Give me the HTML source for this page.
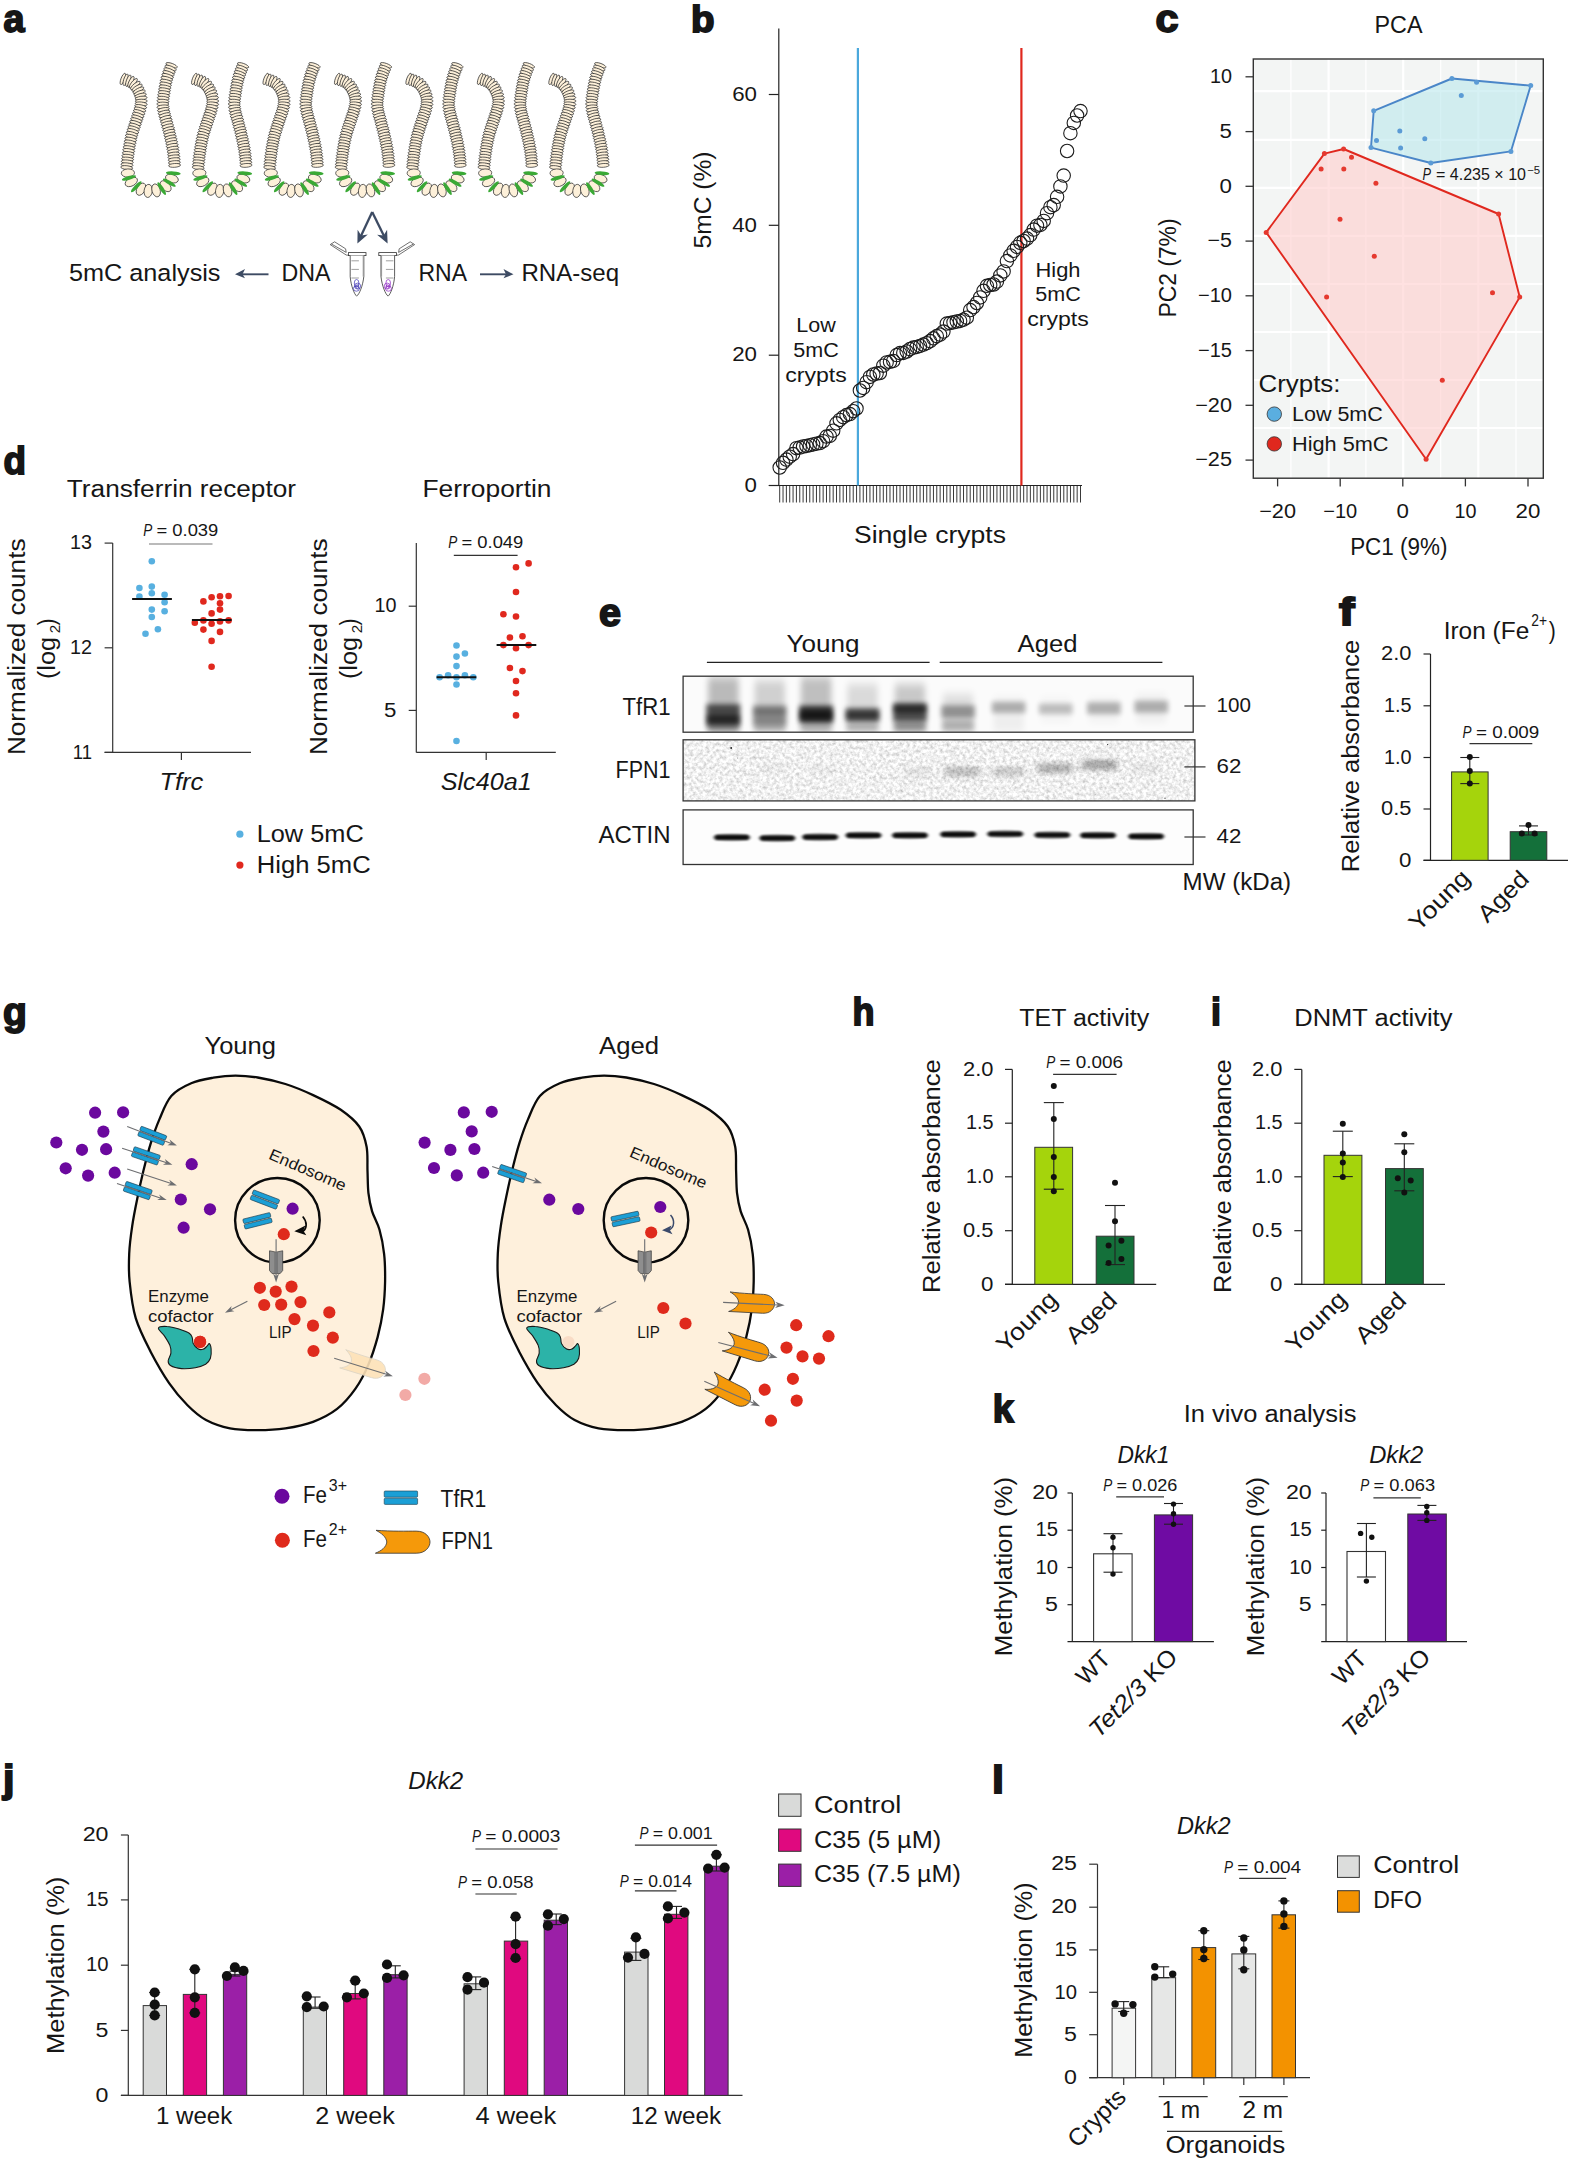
<!DOCTYPE html>
<html><head><meta charset="utf-8"><title>Figure</title>
<style>html,body{margin:0;padding:0;background:#fff}svg{display:block}text{font-family:'Liberation Sans', sans-serif;fill:#161616}</style>
</head><body>
<svg width="1571" height="2161" viewBox="0 0 1571 2161">
<g id="panel-a">
<text x="3.5" y="32.0" font-size="38" font-weight="bold" textLength="21.0" lengthAdjust="spacingAndGlyphs" stroke="#161616" stroke-width="1.8">a</text>
<g transform="translate(0.00 0)" fill="#fdf0d9" stroke="#2a2a2a" stroke-width="0.7"><ellipse cx="122.9" cy="78.9" rx="1.9" ry="6" transform="rotate(21 122.9 78.9)"/><ellipse cx="125.6" cy="79.8" rx="1.9" ry="6" transform="rotate(18 125.6 79.8)"/><ellipse cx="128.3" cy="80.7" rx="1.9" ry="6" transform="rotate(20 128.3 80.7)"/><ellipse cx="130.9" cy="81.8" rx="1.9" ry="6" transform="rotate(27 130.9 81.8)"/><ellipse cx="133.3" cy="83.3" rx="1.9" ry="6" transform="rotate(39 133.3 83.3)"/><ellipse cx="135.3" cy="85.4" rx="1.9" ry="6" transform="rotate(50 135.3 85.4)"/><ellipse cx="137.0" cy="87.7" rx="1.9" ry="6" transform="rotate(58 137.0 87.7)"/><ellipse cx="138.4" cy="90.2" rx="1.9" ry="6" transform="rotate(62 138.4 90.2)"/><ellipse cx="139.6" cy="92.8" rx="1.9" ry="6" transform="rotate(68 139.6 92.8)"/><ellipse cx="140.5" cy="95.5" rx="1.9" ry="6" transform="rotate(75 140.5 95.5)"/><ellipse cx="141.1" cy="98.2" rx="1.9" ry="6" transform="rotate(82 141.1 98.2)"/><ellipse cx="141.3" cy="101.1" rx="1.9" ry="6" transform="rotate(89 141.3 101.1)"/><ellipse cx="141.2" cy="103.9" rx="1.9" ry="6" transform="rotate(96 141.2 103.9)"/><ellipse cx="140.7" cy="106.7" rx="1.9" ry="6" transform="rotate(101 140.7 106.7)"/><ellipse cx="140.0" cy="109.5" rx="1.9" ry="6" transform="rotate(106 140.0 109.5)"/><ellipse cx="139.2" cy="112.2" rx="1.9" ry="6" transform="rotate(109 139.2 112.2)"/><ellipse cx="138.2" cy="114.9" rx="1.9" ry="6" transform="rotate(109 138.2 114.9)"/><ellipse cx="137.3" cy="117.6" rx="1.9" ry="6" transform="rotate(109 137.3 117.6)"/><ellipse cx="136.4" cy="120.3" rx="1.9" ry="6" transform="rotate(108 136.4 120.3)"/><ellipse cx="135.5" cy="123.0" rx="1.9" ry="6" transform="rotate(108 135.5 123.0)"/><ellipse cx="134.6" cy="125.7" rx="1.9" ry="6" transform="rotate(108 134.6 125.7)"/><ellipse cx="133.7" cy="128.4" rx="1.9" ry="6" transform="rotate(108 133.7 128.4)"/><ellipse cx="132.9" cy="131.1" rx="1.9" ry="6" transform="rotate(107 132.9 131.1)"/><ellipse cx="132.0" cy="133.9" rx="1.9" ry="6" transform="rotate(106 132.0 133.9)"/><ellipse cx="131.3" cy="136.6" rx="1.9" ry="6" transform="rotate(104 131.3 136.6)"/><ellipse cx="130.7" cy="139.4" rx="1.9" ry="6" transform="rotate(102 130.7 139.4)"/><ellipse cx="130.1" cy="142.2" rx="1.9" ry="6" transform="rotate(101 130.1 142.2)"/><ellipse cx="129.6" cy="145.0" rx="1.9" ry="6" transform="rotate(100 129.6 145.0)"/><ellipse cx="129.1" cy="147.8" rx="1.9" ry="6" transform="rotate(99 129.1 147.8)"/><ellipse cx="128.7" cy="150.6" rx="1.9" ry="6" transform="rotate(99 128.7 150.6)"/><ellipse cx="128.3" cy="153.5" rx="1.9" ry="6" transform="rotate(97 128.3 153.5)"/><ellipse cx="127.9" cy="156.3" rx="1.9" ry="6" transform="rotate(97 127.9 156.3)"/><ellipse cx="127.6" cy="159.1" rx="1.9" ry="6" transform="rotate(96 127.6 159.1)"/><ellipse cx="127.3" cy="161.9" rx="1.9" ry="6" transform="rotate(96 127.3 161.9)"/><ellipse cx="127.0" cy="164.8" rx="1.9" ry="6" transform="rotate(96 127.0 164.8)"/><ellipse cx="126.7" cy="167.6" rx="1.9" ry="6" transform="rotate(96 126.7 167.6)"/><ellipse cx="171.6" cy="65.3" rx="1.9" ry="6" transform="rotate(110 171.6 65.3)"/><ellipse cx="170.6" cy="68.0" rx="1.9" ry="6" transform="rotate(112 170.6 68.0)"/><ellipse cx="169.5" cy="70.6" rx="1.9" ry="6" transform="rotate(111 169.5 70.6)"/><ellipse cx="168.5" cy="73.3" rx="1.9" ry="6" transform="rotate(110 168.5 73.3)"/><ellipse cx="167.6" cy="76.0" rx="1.9" ry="6" transform="rotate(108 167.6 76.0)"/><ellipse cx="166.8" cy="78.7" rx="1.9" ry="6" transform="rotate(105 166.8 78.7)"/><ellipse cx="166.1" cy="81.5" rx="1.9" ry="6" transform="rotate(103 166.1 81.5)"/><ellipse cx="165.5" cy="84.3" rx="1.9" ry="6" transform="rotate(102 165.5 84.3)"/><ellipse cx="165.0" cy="87.1" rx="1.9" ry="6" transform="rotate(100 165.0 87.1)"/><ellipse cx="164.5" cy="89.9" rx="1.9" ry="6" transform="rotate(99 164.5 89.9)"/><ellipse cx="164.1" cy="92.7" rx="1.9" ry="6" transform="rotate(98 164.1 92.7)"/><ellipse cx="163.7" cy="95.5" rx="1.9" ry="6" transform="rotate(98 163.7 95.5)"/><ellipse cx="163.3" cy="98.3" rx="1.9" ry="6" transform="rotate(97 163.3 98.3)"/><ellipse cx="163.0" cy="101.2" rx="1.9" ry="6" transform="rotate(95 163.0 101.2)"/><ellipse cx="162.8" cy="104.0" rx="1.9" ry="6" transform="rotate(90 162.8 104.0)"/><ellipse cx="163.0" cy="106.9" rx="1.9" ry="6" transform="rotate(85 163.0 106.9)"/><ellipse cx="163.4" cy="109.7" rx="1.9" ry="6" transform="rotate(79 163.4 109.7)"/><ellipse cx="164.0" cy="112.5" rx="1.9" ry="6" transform="rotate(76 164.0 112.5)"/><ellipse cx="164.7" cy="115.2" rx="1.9" ry="6" transform="rotate(74 164.7 115.2)"/><ellipse cx="165.5" cy="117.9" rx="1.9" ry="6" transform="rotate(74 165.5 117.9)"/><ellipse cx="166.3" cy="120.7" rx="1.9" ry="6" transform="rotate(75 166.3 120.7)"/><ellipse cx="167.0" cy="123.4" rx="1.9" ry="6" transform="rotate(76 167.0 123.4)"/><ellipse cx="167.7" cy="126.2" rx="1.9" ry="6" transform="rotate(76 167.7 126.2)"/><ellipse cx="168.5" cy="129.0" rx="1.9" ry="6" transform="rotate(76 168.5 129.0)"/><ellipse cx="169.2" cy="131.7" rx="1.9" ry="6" transform="rotate(76 169.2 131.7)"/><ellipse cx="169.8" cy="134.5" rx="1.9" ry="6" transform="rotate(76 169.8 134.5)"/><ellipse cx="170.5" cy="137.3" rx="1.9" ry="6" transform="rotate(77 170.5 137.3)"/><ellipse cx="171.1" cy="140.0" rx="1.9" ry="6" transform="rotate(78 171.1 140.0)"/><ellipse cx="171.7" cy="142.8" rx="1.9" ry="6" transform="rotate(78 171.7 142.8)"/><ellipse cx="172.2" cy="145.6" rx="1.9" ry="6" transform="rotate(79 172.2 145.6)"/><ellipse cx="172.8" cy="148.4" rx="1.9" ry="6" transform="rotate(80 172.8 148.4)"/><ellipse cx="173.2" cy="151.2" rx="1.9" ry="6" transform="rotate(81 173.2 151.2)"/><ellipse cx="173.6" cy="154.1" rx="1.9" ry="6" transform="rotate(83 173.6 154.1)"/><ellipse cx="173.9" cy="156.9" rx="1.9" ry="6" transform="rotate(84 173.9 156.9)"/><ellipse cx="174.2" cy="159.7" rx="1.9" ry="6" transform="rotate(85 174.2 159.7)"/><ellipse cx="174.4" cy="162.6" rx="1.9" ry="6" transform="rotate(86 174.4 162.6)"/><ellipse cx="174.6" cy="165.4" rx="1.9" ry="6" transform="rotate(86 174.6 165.4)"/><ellipse cx="127.9" cy="173.0" rx="6.6" ry="4.1" transform="rotate(177 127.9 173.0)"/><ellipse cx="131.3" cy="181.9" rx="6.6" ry="4.1" transform="rotate(152 131.3 181.9)"/><ellipse cx="141.0" cy="189.2" rx="6.6" ry="4.1" transform="rotate(119 141.0 189.2)"/><ellipse cx="148.2" cy="190.9" rx="6.6" ry="4.1" transform="rotate(97 148.2 190.9)"/><ellipse cx="156.1" cy="190.4" rx="6.6" ry="4.1" transform="rotate(74 156.1 190.4)"/><ellipse cx="165.6" cy="186.2" rx="6.6" ry="4.1" transform="rotate(44 165.6 186.2)"/><ellipse cx="171.9" cy="178.6" rx="6.6" ry="4.1" transform="rotate(18 171.9 178.6)"/><ellipse cx="129.0" cy="177.9" rx="7.4" ry="1.9" fill="#3aa935" stroke="none" transform="rotate(164 129.0 177.9)"/><ellipse cx="136.3" cy="186.7" rx="7.4" ry="1.9" fill="#3aa935" stroke="none" transform="rotate(134 136.3 186.7)"/><ellipse cx="161.7" cy="188.6" rx="7.4" ry="1.9" fill="#3aa935" stroke="none" transform="rotate(57 161.7 188.6)"/><ellipse cx="169.3" cy="182.7" rx="7.4" ry="1.9" fill="#3aa935" stroke="none" transform="rotate(31 169.3 182.7)"/><ellipse cx="173.3" cy="173.3" rx="7.4" ry="1.9" fill="#3aa935" stroke="none" transform="rotate(4 173.3 173.3)"/></g>
<g transform="translate(71.45 0)" fill="#fdf0d9" stroke="#2a2a2a" stroke-width="0.7"><ellipse cx="122.9" cy="78.9" rx="1.9" ry="6" transform="rotate(21 122.9 78.9)"/><ellipse cx="125.6" cy="79.8" rx="1.9" ry="6" transform="rotate(18 125.6 79.8)"/><ellipse cx="128.3" cy="80.7" rx="1.9" ry="6" transform="rotate(20 128.3 80.7)"/><ellipse cx="130.9" cy="81.8" rx="1.9" ry="6" transform="rotate(27 130.9 81.8)"/><ellipse cx="133.3" cy="83.3" rx="1.9" ry="6" transform="rotate(39 133.3 83.3)"/><ellipse cx="135.3" cy="85.4" rx="1.9" ry="6" transform="rotate(50 135.3 85.4)"/><ellipse cx="137.0" cy="87.7" rx="1.9" ry="6" transform="rotate(58 137.0 87.7)"/><ellipse cx="138.4" cy="90.2" rx="1.9" ry="6" transform="rotate(62 138.4 90.2)"/><ellipse cx="139.6" cy="92.8" rx="1.9" ry="6" transform="rotate(68 139.6 92.8)"/><ellipse cx="140.5" cy="95.5" rx="1.9" ry="6" transform="rotate(75 140.5 95.5)"/><ellipse cx="141.1" cy="98.2" rx="1.9" ry="6" transform="rotate(82 141.1 98.2)"/><ellipse cx="141.3" cy="101.1" rx="1.9" ry="6" transform="rotate(89 141.3 101.1)"/><ellipse cx="141.2" cy="103.9" rx="1.9" ry="6" transform="rotate(96 141.2 103.9)"/><ellipse cx="140.7" cy="106.7" rx="1.9" ry="6" transform="rotate(101 140.7 106.7)"/><ellipse cx="140.0" cy="109.5" rx="1.9" ry="6" transform="rotate(106 140.0 109.5)"/><ellipse cx="139.2" cy="112.2" rx="1.9" ry="6" transform="rotate(109 139.2 112.2)"/><ellipse cx="138.2" cy="114.9" rx="1.9" ry="6" transform="rotate(109 138.2 114.9)"/><ellipse cx="137.3" cy="117.6" rx="1.9" ry="6" transform="rotate(109 137.3 117.6)"/><ellipse cx="136.4" cy="120.3" rx="1.9" ry="6" transform="rotate(108 136.4 120.3)"/><ellipse cx="135.5" cy="123.0" rx="1.9" ry="6" transform="rotate(108 135.5 123.0)"/><ellipse cx="134.6" cy="125.7" rx="1.9" ry="6" transform="rotate(108 134.6 125.7)"/><ellipse cx="133.7" cy="128.4" rx="1.9" ry="6" transform="rotate(108 133.7 128.4)"/><ellipse cx="132.9" cy="131.1" rx="1.9" ry="6" transform="rotate(107 132.9 131.1)"/><ellipse cx="132.0" cy="133.9" rx="1.9" ry="6" transform="rotate(106 132.0 133.9)"/><ellipse cx="131.3" cy="136.6" rx="1.9" ry="6" transform="rotate(104 131.3 136.6)"/><ellipse cx="130.7" cy="139.4" rx="1.9" ry="6" transform="rotate(102 130.7 139.4)"/><ellipse cx="130.1" cy="142.2" rx="1.9" ry="6" transform="rotate(101 130.1 142.2)"/><ellipse cx="129.6" cy="145.0" rx="1.9" ry="6" transform="rotate(100 129.6 145.0)"/><ellipse cx="129.1" cy="147.8" rx="1.9" ry="6" transform="rotate(99 129.1 147.8)"/><ellipse cx="128.7" cy="150.6" rx="1.9" ry="6" transform="rotate(99 128.7 150.6)"/><ellipse cx="128.3" cy="153.5" rx="1.9" ry="6" transform="rotate(97 128.3 153.5)"/><ellipse cx="127.9" cy="156.3" rx="1.9" ry="6" transform="rotate(97 127.9 156.3)"/><ellipse cx="127.6" cy="159.1" rx="1.9" ry="6" transform="rotate(96 127.6 159.1)"/><ellipse cx="127.3" cy="161.9" rx="1.9" ry="6" transform="rotate(96 127.3 161.9)"/><ellipse cx="127.0" cy="164.8" rx="1.9" ry="6" transform="rotate(96 127.0 164.8)"/><ellipse cx="126.7" cy="167.6" rx="1.9" ry="6" transform="rotate(96 126.7 167.6)"/><ellipse cx="171.6" cy="65.3" rx="1.9" ry="6" transform="rotate(110 171.6 65.3)"/><ellipse cx="170.6" cy="68.0" rx="1.9" ry="6" transform="rotate(112 170.6 68.0)"/><ellipse cx="169.5" cy="70.6" rx="1.9" ry="6" transform="rotate(111 169.5 70.6)"/><ellipse cx="168.5" cy="73.3" rx="1.9" ry="6" transform="rotate(110 168.5 73.3)"/><ellipse cx="167.6" cy="76.0" rx="1.9" ry="6" transform="rotate(108 167.6 76.0)"/><ellipse cx="166.8" cy="78.7" rx="1.9" ry="6" transform="rotate(105 166.8 78.7)"/><ellipse cx="166.1" cy="81.5" rx="1.9" ry="6" transform="rotate(103 166.1 81.5)"/><ellipse cx="165.5" cy="84.3" rx="1.9" ry="6" transform="rotate(102 165.5 84.3)"/><ellipse cx="165.0" cy="87.1" rx="1.9" ry="6" transform="rotate(100 165.0 87.1)"/><ellipse cx="164.5" cy="89.9" rx="1.9" ry="6" transform="rotate(99 164.5 89.9)"/><ellipse cx="164.1" cy="92.7" rx="1.9" ry="6" transform="rotate(98 164.1 92.7)"/><ellipse cx="163.7" cy="95.5" rx="1.9" ry="6" transform="rotate(98 163.7 95.5)"/><ellipse cx="163.3" cy="98.3" rx="1.9" ry="6" transform="rotate(97 163.3 98.3)"/><ellipse cx="163.0" cy="101.2" rx="1.9" ry="6" transform="rotate(95 163.0 101.2)"/><ellipse cx="162.8" cy="104.0" rx="1.9" ry="6" transform="rotate(90 162.8 104.0)"/><ellipse cx="163.0" cy="106.9" rx="1.9" ry="6" transform="rotate(85 163.0 106.9)"/><ellipse cx="163.4" cy="109.7" rx="1.9" ry="6" transform="rotate(79 163.4 109.7)"/><ellipse cx="164.0" cy="112.5" rx="1.9" ry="6" transform="rotate(76 164.0 112.5)"/><ellipse cx="164.7" cy="115.2" rx="1.9" ry="6" transform="rotate(74 164.7 115.2)"/><ellipse cx="165.5" cy="117.9" rx="1.9" ry="6" transform="rotate(74 165.5 117.9)"/><ellipse cx="166.3" cy="120.7" rx="1.9" ry="6" transform="rotate(75 166.3 120.7)"/><ellipse cx="167.0" cy="123.4" rx="1.9" ry="6" transform="rotate(76 167.0 123.4)"/><ellipse cx="167.7" cy="126.2" rx="1.9" ry="6" transform="rotate(76 167.7 126.2)"/><ellipse cx="168.5" cy="129.0" rx="1.9" ry="6" transform="rotate(76 168.5 129.0)"/><ellipse cx="169.2" cy="131.7" rx="1.9" ry="6" transform="rotate(76 169.2 131.7)"/><ellipse cx="169.8" cy="134.5" rx="1.9" ry="6" transform="rotate(76 169.8 134.5)"/><ellipse cx="170.5" cy="137.3" rx="1.9" ry="6" transform="rotate(77 170.5 137.3)"/><ellipse cx="171.1" cy="140.0" rx="1.9" ry="6" transform="rotate(78 171.1 140.0)"/><ellipse cx="171.7" cy="142.8" rx="1.9" ry="6" transform="rotate(78 171.7 142.8)"/><ellipse cx="172.2" cy="145.6" rx="1.9" ry="6" transform="rotate(79 172.2 145.6)"/><ellipse cx="172.8" cy="148.4" rx="1.9" ry="6" transform="rotate(80 172.8 148.4)"/><ellipse cx="173.2" cy="151.2" rx="1.9" ry="6" transform="rotate(81 173.2 151.2)"/><ellipse cx="173.6" cy="154.1" rx="1.9" ry="6" transform="rotate(83 173.6 154.1)"/><ellipse cx="173.9" cy="156.9" rx="1.9" ry="6" transform="rotate(84 173.9 156.9)"/><ellipse cx="174.2" cy="159.7" rx="1.9" ry="6" transform="rotate(85 174.2 159.7)"/><ellipse cx="174.4" cy="162.6" rx="1.9" ry="6" transform="rotate(86 174.4 162.6)"/><ellipse cx="174.6" cy="165.4" rx="1.9" ry="6" transform="rotate(86 174.6 165.4)"/><ellipse cx="127.9" cy="173.0" rx="6.6" ry="4.1" transform="rotate(177 127.9 173.0)"/><ellipse cx="131.3" cy="181.9" rx="6.6" ry="4.1" transform="rotate(152 131.3 181.9)"/><ellipse cx="141.0" cy="189.2" rx="6.6" ry="4.1" transform="rotate(119 141.0 189.2)"/><ellipse cx="148.2" cy="190.9" rx="6.6" ry="4.1" transform="rotate(97 148.2 190.9)"/><ellipse cx="156.1" cy="190.4" rx="6.6" ry="4.1" transform="rotate(74 156.1 190.4)"/><ellipse cx="165.6" cy="186.2" rx="6.6" ry="4.1" transform="rotate(44 165.6 186.2)"/><ellipse cx="171.9" cy="178.6" rx="6.6" ry="4.1" transform="rotate(18 171.9 178.6)"/><ellipse cx="129.0" cy="177.9" rx="7.4" ry="1.9" fill="#3aa935" stroke="none" transform="rotate(164 129.0 177.9)"/><ellipse cx="136.3" cy="186.7" rx="7.4" ry="1.9" fill="#3aa935" stroke="none" transform="rotate(134 136.3 186.7)"/><ellipse cx="161.7" cy="188.6" rx="7.4" ry="1.9" fill="#3aa935" stroke="none" transform="rotate(57 161.7 188.6)"/><ellipse cx="169.3" cy="182.7" rx="7.4" ry="1.9" fill="#3aa935" stroke="none" transform="rotate(31 169.3 182.7)"/><ellipse cx="173.3" cy="173.3" rx="7.4" ry="1.9" fill="#3aa935" stroke="none" transform="rotate(4 173.3 173.3)"/></g>
<g transform="translate(142.90 0)" fill="#fdf0d9" stroke="#2a2a2a" stroke-width="0.7"><ellipse cx="122.9" cy="78.9" rx="1.9" ry="6" transform="rotate(21 122.9 78.9)"/><ellipse cx="125.6" cy="79.8" rx="1.9" ry="6" transform="rotate(18 125.6 79.8)"/><ellipse cx="128.3" cy="80.7" rx="1.9" ry="6" transform="rotate(20 128.3 80.7)"/><ellipse cx="130.9" cy="81.8" rx="1.9" ry="6" transform="rotate(27 130.9 81.8)"/><ellipse cx="133.3" cy="83.3" rx="1.9" ry="6" transform="rotate(39 133.3 83.3)"/><ellipse cx="135.3" cy="85.4" rx="1.9" ry="6" transform="rotate(50 135.3 85.4)"/><ellipse cx="137.0" cy="87.7" rx="1.9" ry="6" transform="rotate(58 137.0 87.7)"/><ellipse cx="138.4" cy="90.2" rx="1.9" ry="6" transform="rotate(62 138.4 90.2)"/><ellipse cx="139.6" cy="92.8" rx="1.9" ry="6" transform="rotate(68 139.6 92.8)"/><ellipse cx="140.5" cy="95.5" rx="1.9" ry="6" transform="rotate(75 140.5 95.5)"/><ellipse cx="141.1" cy="98.2" rx="1.9" ry="6" transform="rotate(82 141.1 98.2)"/><ellipse cx="141.3" cy="101.1" rx="1.9" ry="6" transform="rotate(89 141.3 101.1)"/><ellipse cx="141.2" cy="103.9" rx="1.9" ry="6" transform="rotate(96 141.2 103.9)"/><ellipse cx="140.7" cy="106.7" rx="1.9" ry="6" transform="rotate(101 140.7 106.7)"/><ellipse cx="140.0" cy="109.5" rx="1.9" ry="6" transform="rotate(106 140.0 109.5)"/><ellipse cx="139.2" cy="112.2" rx="1.9" ry="6" transform="rotate(109 139.2 112.2)"/><ellipse cx="138.2" cy="114.9" rx="1.9" ry="6" transform="rotate(109 138.2 114.9)"/><ellipse cx="137.3" cy="117.6" rx="1.9" ry="6" transform="rotate(109 137.3 117.6)"/><ellipse cx="136.4" cy="120.3" rx="1.9" ry="6" transform="rotate(108 136.4 120.3)"/><ellipse cx="135.5" cy="123.0" rx="1.9" ry="6" transform="rotate(108 135.5 123.0)"/><ellipse cx="134.6" cy="125.7" rx="1.9" ry="6" transform="rotate(108 134.6 125.7)"/><ellipse cx="133.7" cy="128.4" rx="1.9" ry="6" transform="rotate(108 133.7 128.4)"/><ellipse cx="132.9" cy="131.1" rx="1.9" ry="6" transform="rotate(107 132.9 131.1)"/><ellipse cx="132.0" cy="133.9" rx="1.9" ry="6" transform="rotate(106 132.0 133.9)"/><ellipse cx="131.3" cy="136.6" rx="1.9" ry="6" transform="rotate(104 131.3 136.6)"/><ellipse cx="130.7" cy="139.4" rx="1.9" ry="6" transform="rotate(102 130.7 139.4)"/><ellipse cx="130.1" cy="142.2" rx="1.9" ry="6" transform="rotate(101 130.1 142.2)"/><ellipse cx="129.6" cy="145.0" rx="1.9" ry="6" transform="rotate(100 129.6 145.0)"/><ellipse cx="129.1" cy="147.8" rx="1.9" ry="6" transform="rotate(99 129.1 147.8)"/><ellipse cx="128.7" cy="150.6" rx="1.9" ry="6" transform="rotate(99 128.7 150.6)"/><ellipse cx="128.3" cy="153.5" rx="1.9" ry="6" transform="rotate(97 128.3 153.5)"/><ellipse cx="127.9" cy="156.3" rx="1.9" ry="6" transform="rotate(97 127.9 156.3)"/><ellipse cx="127.6" cy="159.1" rx="1.9" ry="6" transform="rotate(96 127.6 159.1)"/><ellipse cx="127.3" cy="161.9" rx="1.9" ry="6" transform="rotate(96 127.3 161.9)"/><ellipse cx="127.0" cy="164.8" rx="1.9" ry="6" transform="rotate(96 127.0 164.8)"/><ellipse cx="126.7" cy="167.6" rx="1.9" ry="6" transform="rotate(96 126.7 167.6)"/><ellipse cx="171.6" cy="65.3" rx="1.9" ry="6" transform="rotate(110 171.6 65.3)"/><ellipse cx="170.6" cy="68.0" rx="1.9" ry="6" transform="rotate(112 170.6 68.0)"/><ellipse cx="169.5" cy="70.6" rx="1.9" ry="6" transform="rotate(111 169.5 70.6)"/><ellipse cx="168.5" cy="73.3" rx="1.9" ry="6" transform="rotate(110 168.5 73.3)"/><ellipse cx="167.6" cy="76.0" rx="1.9" ry="6" transform="rotate(108 167.6 76.0)"/><ellipse cx="166.8" cy="78.7" rx="1.9" ry="6" transform="rotate(105 166.8 78.7)"/><ellipse cx="166.1" cy="81.5" rx="1.9" ry="6" transform="rotate(103 166.1 81.5)"/><ellipse cx="165.5" cy="84.3" rx="1.9" ry="6" transform="rotate(102 165.5 84.3)"/><ellipse cx="165.0" cy="87.1" rx="1.9" ry="6" transform="rotate(100 165.0 87.1)"/><ellipse cx="164.5" cy="89.9" rx="1.9" ry="6" transform="rotate(99 164.5 89.9)"/><ellipse cx="164.1" cy="92.7" rx="1.9" ry="6" transform="rotate(98 164.1 92.7)"/><ellipse cx="163.7" cy="95.5" rx="1.9" ry="6" transform="rotate(98 163.7 95.5)"/><ellipse cx="163.3" cy="98.3" rx="1.9" ry="6" transform="rotate(97 163.3 98.3)"/><ellipse cx="163.0" cy="101.2" rx="1.9" ry="6" transform="rotate(95 163.0 101.2)"/><ellipse cx="162.8" cy="104.0" rx="1.9" ry="6" transform="rotate(90 162.8 104.0)"/><ellipse cx="163.0" cy="106.9" rx="1.9" ry="6" transform="rotate(85 163.0 106.9)"/><ellipse cx="163.4" cy="109.7" rx="1.9" ry="6" transform="rotate(79 163.4 109.7)"/><ellipse cx="164.0" cy="112.5" rx="1.9" ry="6" transform="rotate(76 164.0 112.5)"/><ellipse cx="164.7" cy="115.2" rx="1.9" ry="6" transform="rotate(74 164.7 115.2)"/><ellipse cx="165.5" cy="117.9" rx="1.9" ry="6" transform="rotate(74 165.5 117.9)"/><ellipse cx="166.3" cy="120.7" rx="1.9" ry="6" transform="rotate(75 166.3 120.7)"/><ellipse cx="167.0" cy="123.4" rx="1.9" ry="6" transform="rotate(76 167.0 123.4)"/><ellipse cx="167.7" cy="126.2" rx="1.9" ry="6" transform="rotate(76 167.7 126.2)"/><ellipse cx="168.5" cy="129.0" rx="1.9" ry="6" transform="rotate(76 168.5 129.0)"/><ellipse cx="169.2" cy="131.7" rx="1.9" ry="6" transform="rotate(76 169.2 131.7)"/><ellipse cx="169.8" cy="134.5" rx="1.9" ry="6" transform="rotate(76 169.8 134.5)"/><ellipse cx="170.5" cy="137.3" rx="1.9" ry="6" transform="rotate(77 170.5 137.3)"/><ellipse cx="171.1" cy="140.0" rx="1.9" ry="6" transform="rotate(78 171.1 140.0)"/><ellipse cx="171.7" cy="142.8" rx="1.9" ry="6" transform="rotate(78 171.7 142.8)"/><ellipse cx="172.2" cy="145.6" rx="1.9" ry="6" transform="rotate(79 172.2 145.6)"/><ellipse cx="172.8" cy="148.4" rx="1.9" ry="6" transform="rotate(80 172.8 148.4)"/><ellipse cx="173.2" cy="151.2" rx="1.9" ry="6" transform="rotate(81 173.2 151.2)"/><ellipse cx="173.6" cy="154.1" rx="1.9" ry="6" transform="rotate(83 173.6 154.1)"/><ellipse cx="173.9" cy="156.9" rx="1.9" ry="6" transform="rotate(84 173.9 156.9)"/><ellipse cx="174.2" cy="159.7" rx="1.9" ry="6" transform="rotate(85 174.2 159.7)"/><ellipse cx="174.4" cy="162.6" rx="1.9" ry="6" transform="rotate(86 174.4 162.6)"/><ellipse cx="174.6" cy="165.4" rx="1.9" ry="6" transform="rotate(86 174.6 165.4)"/><ellipse cx="127.9" cy="173.0" rx="6.6" ry="4.1" transform="rotate(177 127.9 173.0)"/><ellipse cx="131.3" cy="181.9" rx="6.6" ry="4.1" transform="rotate(152 131.3 181.9)"/><ellipse cx="141.0" cy="189.2" rx="6.6" ry="4.1" transform="rotate(119 141.0 189.2)"/><ellipse cx="148.2" cy="190.9" rx="6.6" ry="4.1" transform="rotate(97 148.2 190.9)"/><ellipse cx="156.1" cy="190.4" rx="6.6" ry="4.1" transform="rotate(74 156.1 190.4)"/><ellipse cx="165.6" cy="186.2" rx="6.6" ry="4.1" transform="rotate(44 165.6 186.2)"/><ellipse cx="171.9" cy="178.6" rx="6.6" ry="4.1" transform="rotate(18 171.9 178.6)"/><ellipse cx="129.0" cy="177.9" rx="7.4" ry="1.9" fill="#3aa935" stroke="none" transform="rotate(164 129.0 177.9)"/><ellipse cx="136.3" cy="186.7" rx="7.4" ry="1.9" fill="#3aa935" stroke="none" transform="rotate(134 136.3 186.7)"/><ellipse cx="161.7" cy="188.6" rx="7.4" ry="1.9" fill="#3aa935" stroke="none" transform="rotate(57 161.7 188.6)"/><ellipse cx="169.3" cy="182.7" rx="7.4" ry="1.9" fill="#3aa935" stroke="none" transform="rotate(31 169.3 182.7)"/><ellipse cx="173.3" cy="173.3" rx="7.4" ry="1.9" fill="#3aa935" stroke="none" transform="rotate(4 173.3 173.3)"/></g>
<g transform="translate(214.35 0)" fill="#fdf0d9" stroke="#2a2a2a" stroke-width="0.7"><ellipse cx="122.9" cy="78.9" rx="1.9" ry="6" transform="rotate(21 122.9 78.9)"/><ellipse cx="125.6" cy="79.8" rx="1.9" ry="6" transform="rotate(18 125.6 79.8)"/><ellipse cx="128.3" cy="80.7" rx="1.9" ry="6" transform="rotate(20 128.3 80.7)"/><ellipse cx="130.9" cy="81.8" rx="1.9" ry="6" transform="rotate(27 130.9 81.8)"/><ellipse cx="133.3" cy="83.3" rx="1.9" ry="6" transform="rotate(39 133.3 83.3)"/><ellipse cx="135.3" cy="85.4" rx="1.9" ry="6" transform="rotate(50 135.3 85.4)"/><ellipse cx="137.0" cy="87.7" rx="1.9" ry="6" transform="rotate(58 137.0 87.7)"/><ellipse cx="138.4" cy="90.2" rx="1.9" ry="6" transform="rotate(62 138.4 90.2)"/><ellipse cx="139.6" cy="92.8" rx="1.9" ry="6" transform="rotate(68 139.6 92.8)"/><ellipse cx="140.5" cy="95.5" rx="1.9" ry="6" transform="rotate(75 140.5 95.5)"/><ellipse cx="141.1" cy="98.2" rx="1.9" ry="6" transform="rotate(82 141.1 98.2)"/><ellipse cx="141.3" cy="101.1" rx="1.9" ry="6" transform="rotate(89 141.3 101.1)"/><ellipse cx="141.2" cy="103.9" rx="1.9" ry="6" transform="rotate(96 141.2 103.9)"/><ellipse cx="140.7" cy="106.7" rx="1.9" ry="6" transform="rotate(101 140.7 106.7)"/><ellipse cx="140.0" cy="109.5" rx="1.9" ry="6" transform="rotate(106 140.0 109.5)"/><ellipse cx="139.2" cy="112.2" rx="1.9" ry="6" transform="rotate(109 139.2 112.2)"/><ellipse cx="138.2" cy="114.9" rx="1.9" ry="6" transform="rotate(109 138.2 114.9)"/><ellipse cx="137.3" cy="117.6" rx="1.9" ry="6" transform="rotate(109 137.3 117.6)"/><ellipse cx="136.4" cy="120.3" rx="1.9" ry="6" transform="rotate(108 136.4 120.3)"/><ellipse cx="135.5" cy="123.0" rx="1.9" ry="6" transform="rotate(108 135.5 123.0)"/><ellipse cx="134.6" cy="125.7" rx="1.9" ry="6" transform="rotate(108 134.6 125.7)"/><ellipse cx="133.7" cy="128.4" rx="1.9" ry="6" transform="rotate(108 133.7 128.4)"/><ellipse cx="132.9" cy="131.1" rx="1.9" ry="6" transform="rotate(107 132.9 131.1)"/><ellipse cx="132.0" cy="133.9" rx="1.9" ry="6" transform="rotate(106 132.0 133.9)"/><ellipse cx="131.3" cy="136.6" rx="1.9" ry="6" transform="rotate(104 131.3 136.6)"/><ellipse cx="130.7" cy="139.4" rx="1.9" ry="6" transform="rotate(102 130.7 139.4)"/><ellipse cx="130.1" cy="142.2" rx="1.9" ry="6" transform="rotate(101 130.1 142.2)"/><ellipse cx="129.6" cy="145.0" rx="1.9" ry="6" transform="rotate(100 129.6 145.0)"/><ellipse cx="129.1" cy="147.8" rx="1.9" ry="6" transform="rotate(99 129.1 147.8)"/><ellipse cx="128.7" cy="150.6" rx="1.9" ry="6" transform="rotate(99 128.7 150.6)"/><ellipse cx="128.3" cy="153.5" rx="1.9" ry="6" transform="rotate(97 128.3 153.5)"/><ellipse cx="127.9" cy="156.3" rx="1.9" ry="6" transform="rotate(97 127.9 156.3)"/><ellipse cx="127.6" cy="159.1" rx="1.9" ry="6" transform="rotate(96 127.6 159.1)"/><ellipse cx="127.3" cy="161.9" rx="1.9" ry="6" transform="rotate(96 127.3 161.9)"/><ellipse cx="127.0" cy="164.8" rx="1.9" ry="6" transform="rotate(96 127.0 164.8)"/><ellipse cx="126.7" cy="167.6" rx="1.9" ry="6" transform="rotate(96 126.7 167.6)"/><ellipse cx="171.6" cy="65.3" rx="1.9" ry="6" transform="rotate(110 171.6 65.3)"/><ellipse cx="170.6" cy="68.0" rx="1.9" ry="6" transform="rotate(112 170.6 68.0)"/><ellipse cx="169.5" cy="70.6" rx="1.9" ry="6" transform="rotate(111 169.5 70.6)"/><ellipse cx="168.5" cy="73.3" rx="1.9" ry="6" transform="rotate(110 168.5 73.3)"/><ellipse cx="167.6" cy="76.0" rx="1.9" ry="6" transform="rotate(108 167.6 76.0)"/><ellipse cx="166.8" cy="78.7" rx="1.9" ry="6" transform="rotate(105 166.8 78.7)"/><ellipse cx="166.1" cy="81.5" rx="1.9" ry="6" transform="rotate(103 166.1 81.5)"/><ellipse cx="165.5" cy="84.3" rx="1.9" ry="6" transform="rotate(102 165.5 84.3)"/><ellipse cx="165.0" cy="87.1" rx="1.9" ry="6" transform="rotate(100 165.0 87.1)"/><ellipse cx="164.5" cy="89.9" rx="1.9" ry="6" transform="rotate(99 164.5 89.9)"/><ellipse cx="164.1" cy="92.7" rx="1.9" ry="6" transform="rotate(98 164.1 92.7)"/><ellipse cx="163.7" cy="95.5" rx="1.9" ry="6" transform="rotate(98 163.7 95.5)"/><ellipse cx="163.3" cy="98.3" rx="1.9" ry="6" transform="rotate(97 163.3 98.3)"/><ellipse cx="163.0" cy="101.2" rx="1.9" ry="6" transform="rotate(95 163.0 101.2)"/><ellipse cx="162.8" cy="104.0" rx="1.9" ry="6" transform="rotate(90 162.8 104.0)"/><ellipse cx="163.0" cy="106.9" rx="1.9" ry="6" transform="rotate(85 163.0 106.9)"/><ellipse cx="163.4" cy="109.7" rx="1.9" ry="6" transform="rotate(79 163.4 109.7)"/><ellipse cx="164.0" cy="112.5" rx="1.9" ry="6" transform="rotate(76 164.0 112.5)"/><ellipse cx="164.7" cy="115.2" rx="1.9" ry="6" transform="rotate(74 164.7 115.2)"/><ellipse cx="165.5" cy="117.9" rx="1.9" ry="6" transform="rotate(74 165.5 117.9)"/><ellipse cx="166.3" cy="120.7" rx="1.9" ry="6" transform="rotate(75 166.3 120.7)"/><ellipse cx="167.0" cy="123.4" rx="1.9" ry="6" transform="rotate(76 167.0 123.4)"/><ellipse cx="167.7" cy="126.2" rx="1.9" ry="6" transform="rotate(76 167.7 126.2)"/><ellipse cx="168.5" cy="129.0" rx="1.9" ry="6" transform="rotate(76 168.5 129.0)"/><ellipse cx="169.2" cy="131.7" rx="1.9" ry="6" transform="rotate(76 169.2 131.7)"/><ellipse cx="169.8" cy="134.5" rx="1.9" ry="6" transform="rotate(76 169.8 134.5)"/><ellipse cx="170.5" cy="137.3" rx="1.9" ry="6" transform="rotate(77 170.5 137.3)"/><ellipse cx="171.1" cy="140.0" rx="1.9" ry="6" transform="rotate(78 171.1 140.0)"/><ellipse cx="171.7" cy="142.8" rx="1.9" ry="6" transform="rotate(78 171.7 142.8)"/><ellipse cx="172.2" cy="145.6" rx="1.9" ry="6" transform="rotate(79 172.2 145.6)"/><ellipse cx="172.8" cy="148.4" rx="1.9" ry="6" transform="rotate(80 172.8 148.4)"/><ellipse cx="173.2" cy="151.2" rx="1.9" ry="6" transform="rotate(81 173.2 151.2)"/><ellipse cx="173.6" cy="154.1" rx="1.9" ry="6" transform="rotate(83 173.6 154.1)"/><ellipse cx="173.9" cy="156.9" rx="1.9" ry="6" transform="rotate(84 173.9 156.9)"/><ellipse cx="174.2" cy="159.7" rx="1.9" ry="6" transform="rotate(85 174.2 159.7)"/><ellipse cx="174.4" cy="162.6" rx="1.9" ry="6" transform="rotate(86 174.4 162.6)"/><ellipse cx="174.6" cy="165.4" rx="1.9" ry="6" transform="rotate(86 174.6 165.4)"/><ellipse cx="127.9" cy="173.0" rx="6.6" ry="4.1" transform="rotate(177 127.9 173.0)"/><ellipse cx="131.3" cy="181.9" rx="6.6" ry="4.1" transform="rotate(152 131.3 181.9)"/><ellipse cx="141.0" cy="189.2" rx="6.6" ry="4.1" transform="rotate(119 141.0 189.2)"/><ellipse cx="148.2" cy="190.9" rx="6.6" ry="4.1" transform="rotate(97 148.2 190.9)"/><ellipse cx="156.1" cy="190.4" rx="6.6" ry="4.1" transform="rotate(74 156.1 190.4)"/><ellipse cx="165.6" cy="186.2" rx="6.6" ry="4.1" transform="rotate(44 165.6 186.2)"/><ellipse cx="171.9" cy="178.6" rx="6.6" ry="4.1" transform="rotate(18 171.9 178.6)"/><ellipse cx="129.0" cy="177.9" rx="7.4" ry="1.9" fill="#3aa935" stroke="none" transform="rotate(164 129.0 177.9)"/><ellipse cx="136.3" cy="186.7" rx="7.4" ry="1.9" fill="#3aa935" stroke="none" transform="rotate(134 136.3 186.7)"/><ellipse cx="161.7" cy="188.6" rx="7.4" ry="1.9" fill="#3aa935" stroke="none" transform="rotate(57 161.7 188.6)"/><ellipse cx="169.3" cy="182.7" rx="7.4" ry="1.9" fill="#3aa935" stroke="none" transform="rotate(31 169.3 182.7)"/><ellipse cx="173.3" cy="173.3" rx="7.4" ry="1.9" fill="#3aa935" stroke="none" transform="rotate(4 173.3 173.3)"/></g>
<g transform="translate(285.80 0)" fill="#fdf0d9" stroke="#2a2a2a" stroke-width="0.7"><ellipse cx="122.9" cy="78.9" rx="1.9" ry="6" transform="rotate(21 122.9 78.9)"/><ellipse cx="125.6" cy="79.8" rx="1.9" ry="6" transform="rotate(18 125.6 79.8)"/><ellipse cx="128.3" cy="80.7" rx="1.9" ry="6" transform="rotate(20 128.3 80.7)"/><ellipse cx="130.9" cy="81.8" rx="1.9" ry="6" transform="rotate(27 130.9 81.8)"/><ellipse cx="133.3" cy="83.3" rx="1.9" ry="6" transform="rotate(39 133.3 83.3)"/><ellipse cx="135.3" cy="85.4" rx="1.9" ry="6" transform="rotate(50 135.3 85.4)"/><ellipse cx="137.0" cy="87.7" rx="1.9" ry="6" transform="rotate(58 137.0 87.7)"/><ellipse cx="138.4" cy="90.2" rx="1.9" ry="6" transform="rotate(62 138.4 90.2)"/><ellipse cx="139.6" cy="92.8" rx="1.9" ry="6" transform="rotate(68 139.6 92.8)"/><ellipse cx="140.5" cy="95.5" rx="1.9" ry="6" transform="rotate(75 140.5 95.5)"/><ellipse cx="141.1" cy="98.2" rx="1.9" ry="6" transform="rotate(82 141.1 98.2)"/><ellipse cx="141.3" cy="101.1" rx="1.9" ry="6" transform="rotate(89 141.3 101.1)"/><ellipse cx="141.2" cy="103.9" rx="1.9" ry="6" transform="rotate(96 141.2 103.9)"/><ellipse cx="140.7" cy="106.7" rx="1.9" ry="6" transform="rotate(101 140.7 106.7)"/><ellipse cx="140.0" cy="109.5" rx="1.9" ry="6" transform="rotate(106 140.0 109.5)"/><ellipse cx="139.2" cy="112.2" rx="1.9" ry="6" transform="rotate(109 139.2 112.2)"/><ellipse cx="138.2" cy="114.9" rx="1.9" ry="6" transform="rotate(109 138.2 114.9)"/><ellipse cx="137.3" cy="117.6" rx="1.9" ry="6" transform="rotate(109 137.3 117.6)"/><ellipse cx="136.4" cy="120.3" rx="1.9" ry="6" transform="rotate(108 136.4 120.3)"/><ellipse cx="135.5" cy="123.0" rx="1.9" ry="6" transform="rotate(108 135.5 123.0)"/><ellipse cx="134.6" cy="125.7" rx="1.9" ry="6" transform="rotate(108 134.6 125.7)"/><ellipse cx="133.7" cy="128.4" rx="1.9" ry="6" transform="rotate(108 133.7 128.4)"/><ellipse cx="132.9" cy="131.1" rx="1.9" ry="6" transform="rotate(107 132.9 131.1)"/><ellipse cx="132.0" cy="133.9" rx="1.9" ry="6" transform="rotate(106 132.0 133.9)"/><ellipse cx="131.3" cy="136.6" rx="1.9" ry="6" transform="rotate(104 131.3 136.6)"/><ellipse cx="130.7" cy="139.4" rx="1.9" ry="6" transform="rotate(102 130.7 139.4)"/><ellipse cx="130.1" cy="142.2" rx="1.9" ry="6" transform="rotate(101 130.1 142.2)"/><ellipse cx="129.6" cy="145.0" rx="1.9" ry="6" transform="rotate(100 129.6 145.0)"/><ellipse cx="129.1" cy="147.8" rx="1.9" ry="6" transform="rotate(99 129.1 147.8)"/><ellipse cx="128.7" cy="150.6" rx="1.9" ry="6" transform="rotate(99 128.7 150.6)"/><ellipse cx="128.3" cy="153.5" rx="1.9" ry="6" transform="rotate(97 128.3 153.5)"/><ellipse cx="127.9" cy="156.3" rx="1.9" ry="6" transform="rotate(97 127.9 156.3)"/><ellipse cx="127.6" cy="159.1" rx="1.9" ry="6" transform="rotate(96 127.6 159.1)"/><ellipse cx="127.3" cy="161.9" rx="1.9" ry="6" transform="rotate(96 127.3 161.9)"/><ellipse cx="127.0" cy="164.8" rx="1.9" ry="6" transform="rotate(96 127.0 164.8)"/><ellipse cx="126.7" cy="167.6" rx="1.9" ry="6" transform="rotate(96 126.7 167.6)"/><ellipse cx="171.6" cy="65.3" rx="1.9" ry="6" transform="rotate(110 171.6 65.3)"/><ellipse cx="170.6" cy="68.0" rx="1.9" ry="6" transform="rotate(112 170.6 68.0)"/><ellipse cx="169.5" cy="70.6" rx="1.9" ry="6" transform="rotate(111 169.5 70.6)"/><ellipse cx="168.5" cy="73.3" rx="1.9" ry="6" transform="rotate(110 168.5 73.3)"/><ellipse cx="167.6" cy="76.0" rx="1.9" ry="6" transform="rotate(108 167.6 76.0)"/><ellipse cx="166.8" cy="78.7" rx="1.9" ry="6" transform="rotate(105 166.8 78.7)"/><ellipse cx="166.1" cy="81.5" rx="1.9" ry="6" transform="rotate(103 166.1 81.5)"/><ellipse cx="165.5" cy="84.3" rx="1.9" ry="6" transform="rotate(102 165.5 84.3)"/><ellipse cx="165.0" cy="87.1" rx="1.9" ry="6" transform="rotate(100 165.0 87.1)"/><ellipse cx="164.5" cy="89.9" rx="1.9" ry="6" transform="rotate(99 164.5 89.9)"/><ellipse cx="164.1" cy="92.7" rx="1.9" ry="6" transform="rotate(98 164.1 92.7)"/><ellipse cx="163.7" cy="95.5" rx="1.9" ry="6" transform="rotate(98 163.7 95.5)"/><ellipse cx="163.3" cy="98.3" rx="1.9" ry="6" transform="rotate(97 163.3 98.3)"/><ellipse cx="163.0" cy="101.2" rx="1.9" ry="6" transform="rotate(95 163.0 101.2)"/><ellipse cx="162.8" cy="104.0" rx="1.9" ry="6" transform="rotate(90 162.8 104.0)"/><ellipse cx="163.0" cy="106.9" rx="1.9" ry="6" transform="rotate(85 163.0 106.9)"/><ellipse cx="163.4" cy="109.7" rx="1.9" ry="6" transform="rotate(79 163.4 109.7)"/><ellipse cx="164.0" cy="112.5" rx="1.9" ry="6" transform="rotate(76 164.0 112.5)"/><ellipse cx="164.7" cy="115.2" rx="1.9" ry="6" transform="rotate(74 164.7 115.2)"/><ellipse cx="165.5" cy="117.9" rx="1.9" ry="6" transform="rotate(74 165.5 117.9)"/><ellipse cx="166.3" cy="120.7" rx="1.9" ry="6" transform="rotate(75 166.3 120.7)"/><ellipse cx="167.0" cy="123.4" rx="1.9" ry="6" transform="rotate(76 167.0 123.4)"/><ellipse cx="167.7" cy="126.2" rx="1.9" ry="6" transform="rotate(76 167.7 126.2)"/><ellipse cx="168.5" cy="129.0" rx="1.9" ry="6" transform="rotate(76 168.5 129.0)"/><ellipse cx="169.2" cy="131.7" rx="1.9" ry="6" transform="rotate(76 169.2 131.7)"/><ellipse cx="169.8" cy="134.5" rx="1.9" ry="6" transform="rotate(76 169.8 134.5)"/><ellipse cx="170.5" cy="137.3" rx="1.9" ry="6" transform="rotate(77 170.5 137.3)"/><ellipse cx="171.1" cy="140.0" rx="1.9" ry="6" transform="rotate(78 171.1 140.0)"/><ellipse cx="171.7" cy="142.8" rx="1.9" ry="6" transform="rotate(78 171.7 142.8)"/><ellipse cx="172.2" cy="145.6" rx="1.9" ry="6" transform="rotate(79 172.2 145.6)"/><ellipse cx="172.8" cy="148.4" rx="1.9" ry="6" transform="rotate(80 172.8 148.4)"/><ellipse cx="173.2" cy="151.2" rx="1.9" ry="6" transform="rotate(81 173.2 151.2)"/><ellipse cx="173.6" cy="154.1" rx="1.9" ry="6" transform="rotate(83 173.6 154.1)"/><ellipse cx="173.9" cy="156.9" rx="1.9" ry="6" transform="rotate(84 173.9 156.9)"/><ellipse cx="174.2" cy="159.7" rx="1.9" ry="6" transform="rotate(85 174.2 159.7)"/><ellipse cx="174.4" cy="162.6" rx="1.9" ry="6" transform="rotate(86 174.4 162.6)"/><ellipse cx="174.6" cy="165.4" rx="1.9" ry="6" transform="rotate(86 174.6 165.4)"/><ellipse cx="127.9" cy="173.0" rx="6.6" ry="4.1" transform="rotate(177 127.9 173.0)"/><ellipse cx="131.3" cy="181.9" rx="6.6" ry="4.1" transform="rotate(152 131.3 181.9)"/><ellipse cx="141.0" cy="189.2" rx="6.6" ry="4.1" transform="rotate(119 141.0 189.2)"/><ellipse cx="148.2" cy="190.9" rx="6.6" ry="4.1" transform="rotate(97 148.2 190.9)"/><ellipse cx="156.1" cy="190.4" rx="6.6" ry="4.1" transform="rotate(74 156.1 190.4)"/><ellipse cx="165.6" cy="186.2" rx="6.6" ry="4.1" transform="rotate(44 165.6 186.2)"/><ellipse cx="171.9" cy="178.6" rx="6.6" ry="4.1" transform="rotate(18 171.9 178.6)"/><ellipse cx="129.0" cy="177.9" rx="7.4" ry="1.9" fill="#3aa935" stroke="none" transform="rotate(164 129.0 177.9)"/><ellipse cx="136.3" cy="186.7" rx="7.4" ry="1.9" fill="#3aa935" stroke="none" transform="rotate(134 136.3 186.7)"/><ellipse cx="161.7" cy="188.6" rx="7.4" ry="1.9" fill="#3aa935" stroke="none" transform="rotate(57 161.7 188.6)"/><ellipse cx="169.3" cy="182.7" rx="7.4" ry="1.9" fill="#3aa935" stroke="none" transform="rotate(31 169.3 182.7)"/><ellipse cx="173.3" cy="173.3" rx="7.4" ry="1.9" fill="#3aa935" stroke="none" transform="rotate(4 173.3 173.3)"/></g>
<g transform="translate(357.25 0)" fill="#fdf0d9" stroke="#2a2a2a" stroke-width="0.7"><ellipse cx="122.9" cy="78.9" rx="1.9" ry="6" transform="rotate(21 122.9 78.9)"/><ellipse cx="125.6" cy="79.8" rx="1.9" ry="6" transform="rotate(18 125.6 79.8)"/><ellipse cx="128.3" cy="80.7" rx="1.9" ry="6" transform="rotate(20 128.3 80.7)"/><ellipse cx="130.9" cy="81.8" rx="1.9" ry="6" transform="rotate(27 130.9 81.8)"/><ellipse cx="133.3" cy="83.3" rx="1.9" ry="6" transform="rotate(39 133.3 83.3)"/><ellipse cx="135.3" cy="85.4" rx="1.9" ry="6" transform="rotate(50 135.3 85.4)"/><ellipse cx="137.0" cy="87.7" rx="1.9" ry="6" transform="rotate(58 137.0 87.7)"/><ellipse cx="138.4" cy="90.2" rx="1.9" ry="6" transform="rotate(62 138.4 90.2)"/><ellipse cx="139.6" cy="92.8" rx="1.9" ry="6" transform="rotate(68 139.6 92.8)"/><ellipse cx="140.5" cy="95.5" rx="1.9" ry="6" transform="rotate(75 140.5 95.5)"/><ellipse cx="141.1" cy="98.2" rx="1.9" ry="6" transform="rotate(82 141.1 98.2)"/><ellipse cx="141.3" cy="101.1" rx="1.9" ry="6" transform="rotate(89 141.3 101.1)"/><ellipse cx="141.2" cy="103.9" rx="1.9" ry="6" transform="rotate(96 141.2 103.9)"/><ellipse cx="140.7" cy="106.7" rx="1.9" ry="6" transform="rotate(101 140.7 106.7)"/><ellipse cx="140.0" cy="109.5" rx="1.9" ry="6" transform="rotate(106 140.0 109.5)"/><ellipse cx="139.2" cy="112.2" rx="1.9" ry="6" transform="rotate(109 139.2 112.2)"/><ellipse cx="138.2" cy="114.9" rx="1.9" ry="6" transform="rotate(109 138.2 114.9)"/><ellipse cx="137.3" cy="117.6" rx="1.9" ry="6" transform="rotate(109 137.3 117.6)"/><ellipse cx="136.4" cy="120.3" rx="1.9" ry="6" transform="rotate(108 136.4 120.3)"/><ellipse cx="135.5" cy="123.0" rx="1.9" ry="6" transform="rotate(108 135.5 123.0)"/><ellipse cx="134.6" cy="125.7" rx="1.9" ry="6" transform="rotate(108 134.6 125.7)"/><ellipse cx="133.7" cy="128.4" rx="1.9" ry="6" transform="rotate(108 133.7 128.4)"/><ellipse cx="132.9" cy="131.1" rx="1.9" ry="6" transform="rotate(107 132.9 131.1)"/><ellipse cx="132.0" cy="133.9" rx="1.9" ry="6" transform="rotate(106 132.0 133.9)"/><ellipse cx="131.3" cy="136.6" rx="1.9" ry="6" transform="rotate(104 131.3 136.6)"/><ellipse cx="130.7" cy="139.4" rx="1.9" ry="6" transform="rotate(102 130.7 139.4)"/><ellipse cx="130.1" cy="142.2" rx="1.9" ry="6" transform="rotate(101 130.1 142.2)"/><ellipse cx="129.6" cy="145.0" rx="1.9" ry="6" transform="rotate(100 129.6 145.0)"/><ellipse cx="129.1" cy="147.8" rx="1.9" ry="6" transform="rotate(99 129.1 147.8)"/><ellipse cx="128.7" cy="150.6" rx="1.9" ry="6" transform="rotate(99 128.7 150.6)"/><ellipse cx="128.3" cy="153.5" rx="1.9" ry="6" transform="rotate(97 128.3 153.5)"/><ellipse cx="127.9" cy="156.3" rx="1.9" ry="6" transform="rotate(97 127.9 156.3)"/><ellipse cx="127.6" cy="159.1" rx="1.9" ry="6" transform="rotate(96 127.6 159.1)"/><ellipse cx="127.3" cy="161.9" rx="1.9" ry="6" transform="rotate(96 127.3 161.9)"/><ellipse cx="127.0" cy="164.8" rx="1.9" ry="6" transform="rotate(96 127.0 164.8)"/><ellipse cx="126.7" cy="167.6" rx="1.9" ry="6" transform="rotate(96 126.7 167.6)"/><ellipse cx="171.6" cy="65.3" rx="1.9" ry="6" transform="rotate(110 171.6 65.3)"/><ellipse cx="170.6" cy="68.0" rx="1.9" ry="6" transform="rotate(112 170.6 68.0)"/><ellipse cx="169.5" cy="70.6" rx="1.9" ry="6" transform="rotate(111 169.5 70.6)"/><ellipse cx="168.5" cy="73.3" rx="1.9" ry="6" transform="rotate(110 168.5 73.3)"/><ellipse cx="167.6" cy="76.0" rx="1.9" ry="6" transform="rotate(108 167.6 76.0)"/><ellipse cx="166.8" cy="78.7" rx="1.9" ry="6" transform="rotate(105 166.8 78.7)"/><ellipse cx="166.1" cy="81.5" rx="1.9" ry="6" transform="rotate(103 166.1 81.5)"/><ellipse cx="165.5" cy="84.3" rx="1.9" ry="6" transform="rotate(102 165.5 84.3)"/><ellipse cx="165.0" cy="87.1" rx="1.9" ry="6" transform="rotate(100 165.0 87.1)"/><ellipse cx="164.5" cy="89.9" rx="1.9" ry="6" transform="rotate(99 164.5 89.9)"/><ellipse cx="164.1" cy="92.7" rx="1.9" ry="6" transform="rotate(98 164.1 92.7)"/><ellipse cx="163.7" cy="95.5" rx="1.9" ry="6" transform="rotate(98 163.7 95.5)"/><ellipse cx="163.3" cy="98.3" rx="1.9" ry="6" transform="rotate(97 163.3 98.3)"/><ellipse cx="163.0" cy="101.2" rx="1.9" ry="6" transform="rotate(95 163.0 101.2)"/><ellipse cx="162.8" cy="104.0" rx="1.9" ry="6" transform="rotate(90 162.8 104.0)"/><ellipse cx="163.0" cy="106.9" rx="1.9" ry="6" transform="rotate(85 163.0 106.9)"/><ellipse cx="163.4" cy="109.7" rx="1.9" ry="6" transform="rotate(79 163.4 109.7)"/><ellipse cx="164.0" cy="112.5" rx="1.9" ry="6" transform="rotate(76 164.0 112.5)"/><ellipse cx="164.7" cy="115.2" rx="1.9" ry="6" transform="rotate(74 164.7 115.2)"/><ellipse cx="165.5" cy="117.9" rx="1.9" ry="6" transform="rotate(74 165.5 117.9)"/><ellipse cx="166.3" cy="120.7" rx="1.9" ry="6" transform="rotate(75 166.3 120.7)"/><ellipse cx="167.0" cy="123.4" rx="1.9" ry="6" transform="rotate(76 167.0 123.4)"/><ellipse cx="167.7" cy="126.2" rx="1.9" ry="6" transform="rotate(76 167.7 126.2)"/><ellipse cx="168.5" cy="129.0" rx="1.9" ry="6" transform="rotate(76 168.5 129.0)"/><ellipse cx="169.2" cy="131.7" rx="1.9" ry="6" transform="rotate(76 169.2 131.7)"/><ellipse cx="169.8" cy="134.5" rx="1.9" ry="6" transform="rotate(76 169.8 134.5)"/><ellipse cx="170.5" cy="137.3" rx="1.9" ry="6" transform="rotate(77 170.5 137.3)"/><ellipse cx="171.1" cy="140.0" rx="1.9" ry="6" transform="rotate(78 171.1 140.0)"/><ellipse cx="171.7" cy="142.8" rx="1.9" ry="6" transform="rotate(78 171.7 142.8)"/><ellipse cx="172.2" cy="145.6" rx="1.9" ry="6" transform="rotate(79 172.2 145.6)"/><ellipse cx="172.8" cy="148.4" rx="1.9" ry="6" transform="rotate(80 172.8 148.4)"/><ellipse cx="173.2" cy="151.2" rx="1.9" ry="6" transform="rotate(81 173.2 151.2)"/><ellipse cx="173.6" cy="154.1" rx="1.9" ry="6" transform="rotate(83 173.6 154.1)"/><ellipse cx="173.9" cy="156.9" rx="1.9" ry="6" transform="rotate(84 173.9 156.9)"/><ellipse cx="174.2" cy="159.7" rx="1.9" ry="6" transform="rotate(85 174.2 159.7)"/><ellipse cx="174.4" cy="162.6" rx="1.9" ry="6" transform="rotate(86 174.4 162.6)"/><ellipse cx="174.6" cy="165.4" rx="1.9" ry="6" transform="rotate(86 174.6 165.4)"/><ellipse cx="127.9" cy="173.0" rx="6.6" ry="4.1" transform="rotate(177 127.9 173.0)"/><ellipse cx="131.3" cy="181.9" rx="6.6" ry="4.1" transform="rotate(152 131.3 181.9)"/><ellipse cx="141.0" cy="189.2" rx="6.6" ry="4.1" transform="rotate(119 141.0 189.2)"/><ellipse cx="148.2" cy="190.9" rx="6.6" ry="4.1" transform="rotate(97 148.2 190.9)"/><ellipse cx="156.1" cy="190.4" rx="6.6" ry="4.1" transform="rotate(74 156.1 190.4)"/><ellipse cx="165.6" cy="186.2" rx="6.6" ry="4.1" transform="rotate(44 165.6 186.2)"/><ellipse cx="171.9" cy="178.6" rx="6.6" ry="4.1" transform="rotate(18 171.9 178.6)"/><ellipse cx="129.0" cy="177.9" rx="7.4" ry="1.9" fill="#3aa935" stroke="none" transform="rotate(164 129.0 177.9)"/><ellipse cx="136.3" cy="186.7" rx="7.4" ry="1.9" fill="#3aa935" stroke="none" transform="rotate(134 136.3 186.7)"/><ellipse cx="161.7" cy="188.6" rx="7.4" ry="1.9" fill="#3aa935" stroke="none" transform="rotate(57 161.7 188.6)"/><ellipse cx="169.3" cy="182.7" rx="7.4" ry="1.9" fill="#3aa935" stroke="none" transform="rotate(31 169.3 182.7)"/><ellipse cx="173.3" cy="173.3" rx="7.4" ry="1.9" fill="#3aa935" stroke="none" transform="rotate(4 173.3 173.3)"/></g>
<g transform="translate(428.70 0)" fill="#fdf0d9" stroke="#2a2a2a" stroke-width="0.7"><ellipse cx="122.9" cy="78.9" rx="1.9" ry="6" transform="rotate(21 122.9 78.9)"/><ellipse cx="125.6" cy="79.8" rx="1.9" ry="6" transform="rotate(18 125.6 79.8)"/><ellipse cx="128.3" cy="80.7" rx="1.9" ry="6" transform="rotate(20 128.3 80.7)"/><ellipse cx="130.9" cy="81.8" rx="1.9" ry="6" transform="rotate(27 130.9 81.8)"/><ellipse cx="133.3" cy="83.3" rx="1.9" ry="6" transform="rotate(39 133.3 83.3)"/><ellipse cx="135.3" cy="85.4" rx="1.9" ry="6" transform="rotate(50 135.3 85.4)"/><ellipse cx="137.0" cy="87.7" rx="1.9" ry="6" transform="rotate(58 137.0 87.7)"/><ellipse cx="138.4" cy="90.2" rx="1.9" ry="6" transform="rotate(62 138.4 90.2)"/><ellipse cx="139.6" cy="92.8" rx="1.9" ry="6" transform="rotate(68 139.6 92.8)"/><ellipse cx="140.5" cy="95.5" rx="1.9" ry="6" transform="rotate(75 140.5 95.5)"/><ellipse cx="141.1" cy="98.2" rx="1.9" ry="6" transform="rotate(82 141.1 98.2)"/><ellipse cx="141.3" cy="101.1" rx="1.9" ry="6" transform="rotate(89 141.3 101.1)"/><ellipse cx="141.2" cy="103.9" rx="1.9" ry="6" transform="rotate(96 141.2 103.9)"/><ellipse cx="140.7" cy="106.7" rx="1.9" ry="6" transform="rotate(101 140.7 106.7)"/><ellipse cx="140.0" cy="109.5" rx="1.9" ry="6" transform="rotate(106 140.0 109.5)"/><ellipse cx="139.2" cy="112.2" rx="1.9" ry="6" transform="rotate(109 139.2 112.2)"/><ellipse cx="138.2" cy="114.9" rx="1.9" ry="6" transform="rotate(109 138.2 114.9)"/><ellipse cx="137.3" cy="117.6" rx="1.9" ry="6" transform="rotate(109 137.3 117.6)"/><ellipse cx="136.4" cy="120.3" rx="1.9" ry="6" transform="rotate(108 136.4 120.3)"/><ellipse cx="135.5" cy="123.0" rx="1.9" ry="6" transform="rotate(108 135.5 123.0)"/><ellipse cx="134.6" cy="125.7" rx="1.9" ry="6" transform="rotate(108 134.6 125.7)"/><ellipse cx="133.7" cy="128.4" rx="1.9" ry="6" transform="rotate(108 133.7 128.4)"/><ellipse cx="132.9" cy="131.1" rx="1.9" ry="6" transform="rotate(107 132.9 131.1)"/><ellipse cx="132.0" cy="133.9" rx="1.9" ry="6" transform="rotate(106 132.0 133.9)"/><ellipse cx="131.3" cy="136.6" rx="1.9" ry="6" transform="rotate(104 131.3 136.6)"/><ellipse cx="130.7" cy="139.4" rx="1.9" ry="6" transform="rotate(102 130.7 139.4)"/><ellipse cx="130.1" cy="142.2" rx="1.9" ry="6" transform="rotate(101 130.1 142.2)"/><ellipse cx="129.6" cy="145.0" rx="1.9" ry="6" transform="rotate(100 129.6 145.0)"/><ellipse cx="129.1" cy="147.8" rx="1.9" ry="6" transform="rotate(99 129.1 147.8)"/><ellipse cx="128.7" cy="150.6" rx="1.9" ry="6" transform="rotate(99 128.7 150.6)"/><ellipse cx="128.3" cy="153.5" rx="1.9" ry="6" transform="rotate(97 128.3 153.5)"/><ellipse cx="127.9" cy="156.3" rx="1.9" ry="6" transform="rotate(97 127.9 156.3)"/><ellipse cx="127.6" cy="159.1" rx="1.9" ry="6" transform="rotate(96 127.6 159.1)"/><ellipse cx="127.3" cy="161.9" rx="1.9" ry="6" transform="rotate(96 127.3 161.9)"/><ellipse cx="127.0" cy="164.8" rx="1.9" ry="6" transform="rotate(96 127.0 164.8)"/><ellipse cx="126.7" cy="167.6" rx="1.9" ry="6" transform="rotate(96 126.7 167.6)"/><ellipse cx="171.6" cy="65.3" rx="1.9" ry="6" transform="rotate(110 171.6 65.3)"/><ellipse cx="170.6" cy="68.0" rx="1.9" ry="6" transform="rotate(112 170.6 68.0)"/><ellipse cx="169.5" cy="70.6" rx="1.9" ry="6" transform="rotate(111 169.5 70.6)"/><ellipse cx="168.5" cy="73.3" rx="1.9" ry="6" transform="rotate(110 168.5 73.3)"/><ellipse cx="167.6" cy="76.0" rx="1.9" ry="6" transform="rotate(108 167.6 76.0)"/><ellipse cx="166.8" cy="78.7" rx="1.9" ry="6" transform="rotate(105 166.8 78.7)"/><ellipse cx="166.1" cy="81.5" rx="1.9" ry="6" transform="rotate(103 166.1 81.5)"/><ellipse cx="165.5" cy="84.3" rx="1.9" ry="6" transform="rotate(102 165.5 84.3)"/><ellipse cx="165.0" cy="87.1" rx="1.9" ry="6" transform="rotate(100 165.0 87.1)"/><ellipse cx="164.5" cy="89.9" rx="1.9" ry="6" transform="rotate(99 164.5 89.9)"/><ellipse cx="164.1" cy="92.7" rx="1.9" ry="6" transform="rotate(98 164.1 92.7)"/><ellipse cx="163.7" cy="95.5" rx="1.9" ry="6" transform="rotate(98 163.7 95.5)"/><ellipse cx="163.3" cy="98.3" rx="1.9" ry="6" transform="rotate(97 163.3 98.3)"/><ellipse cx="163.0" cy="101.2" rx="1.9" ry="6" transform="rotate(95 163.0 101.2)"/><ellipse cx="162.8" cy="104.0" rx="1.9" ry="6" transform="rotate(90 162.8 104.0)"/><ellipse cx="163.0" cy="106.9" rx="1.9" ry="6" transform="rotate(85 163.0 106.9)"/><ellipse cx="163.4" cy="109.7" rx="1.9" ry="6" transform="rotate(79 163.4 109.7)"/><ellipse cx="164.0" cy="112.5" rx="1.9" ry="6" transform="rotate(76 164.0 112.5)"/><ellipse cx="164.7" cy="115.2" rx="1.9" ry="6" transform="rotate(74 164.7 115.2)"/><ellipse cx="165.5" cy="117.9" rx="1.9" ry="6" transform="rotate(74 165.5 117.9)"/><ellipse cx="166.3" cy="120.7" rx="1.9" ry="6" transform="rotate(75 166.3 120.7)"/><ellipse cx="167.0" cy="123.4" rx="1.9" ry="6" transform="rotate(76 167.0 123.4)"/><ellipse cx="167.7" cy="126.2" rx="1.9" ry="6" transform="rotate(76 167.7 126.2)"/><ellipse cx="168.5" cy="129.0" rx="1.9" ry="6" transform="rotate(76 168.5 129.0)"/><ellipse cx="169.2" cy="131.7" rx="1.9" ry="6" transform="rotate(76 169.2 131.7)"/><ellipse cx="169.8" cy="134.5" rx="1.9" ry="6" transform="rotate(76 169.8 134.5)"/><ellipse cx="170.5" cy="137.3" rx="1.9" ry="6" transform="rotate(77 170.5 137.3)"/><ellipse cx="171.1" cy="140.0" rx="1.9" ry="6" transform="rotate(78 171.1 140.0)"/><ellipse cx="171.7" cy="142.8" rx="1.9" ry="6" transform="rotate(78 171.7 142.8)"/><ellipse cx="172.2" cy="145.6" rx="1.9" ry="6" transform="rotate(79 172.2 145.6)"/><ellipse cx="172.8" cy="148.4" rx="1.9" ry="6" transform="rotate(80 172.8 148.4)"/><ellipse cx="173.2" cy="151.2" rx="1.9" ry="6" transform="rotate(81 173.2 151.2)"/><ellipse cx="173.6" cy="154.1" rx="1.9" ry="6" transform="rotate(83 173.6 154.1)"/><ellipse cx="173.9" cy="156.9" rx="1.9" ry="6" transform="rotate(84 173.9 156.9)"/><ellipse cx="174.2" cy="159.7" rx="1.9" ry="6" transform="rotate(85 174.2 159.7)"/><ellipse cx="174.4" cy="162.6" rx="1.9" ry="6" transform="rotate(86 174.4 162.6)"/><ellipse cx="174.6" cy="165.4" rx="1.9" ry="6" transform="rotate(86 174.6 165.4)"/><ellipse cx="127.9" cy="173.0" rx="6.6" ry="4.1" transform="rotate(177 127.9 173.0)"/><ellipse cx="131.3" cy="181.9" rx="6.6" ry="4.1" transform="rotate(152 131.3 181.9)"/><ellipse cx="141.0" cy="189.2" rx="6.6" ry="4.1" transform="rotate(119 141.0 189.2)"/><ellipse cx="148.2" cy="190.9" rx="6.6" ry="4.1" transform="rotate(97 148.2 190.9)"/><ellipse cx="156.1" cy="190.4" rx="6.6" ry="4.1" transform="rotate(74 156.1 190.4)"/><ellipse cx="165.6" cy="186.2" rx="6.6" ry="4.1" transform="rotate(44 165.6 186.2)"/><ellipse cx="171.9" cy="178.6" rx="6.6" ry="4.1" transform="rotate(18 171.9 178.6)"/><ellipse cx="129.0" cy="177.9" rx="7.4" ry="1.9" fill="#3aa935" stroke="none" transform="rotate(164 129.0 177.9)"/><ellipse cx="136.3" cy="186.7" rx="7.4" ry="1.9" fill="#3aa935" stroke="none" transform="rotate(134 136.3 186.7)"/><ellipse cx="161.7" cy="188.6" rx="7.4" ry="1.9" fill="#3aa935" stroke="none" transform="rotate(57 161.7 188.6)"/><ellipse cx="169.3" cy="182.7" rx="7.4" ry="1.9" fill="#3aa935" stroke="none" transform="rotate(31 169.3 182.7)"/><ellipse cx="173.3" cy="173.3" rx="7.4" ry="1.9" fill="#3aa935" stroke="none" transform="rotate(4 173.3 173.3)"/></g>
<line x1="372.2" y1="212.0" x2="360.0" y2="238.1" stroke="#3d4b63" stroke-width="2.3"/>
<path d="M357.4 243.5L357.6 229.8L361.2 235.4L367.8 234.6Z" fill="#3d4b63"/>
<line x1="372.2" y1="212.0" x2="385.0" y2="238.1" stroke="#3d4b63" stroke-width="2.3"/>
<path d="M387.6 243.5L377.1 234.7L383.6 235.4L387.1 229.8Z" fill="#3d4b63"/>
<g transform="translate(348.4 252.6)">
<rect x="0" y="0" width="17.6" height="3" fill="#fff" stroke="#333" stroke-width="0.8"/>
<path d="M1.8 3L1.8 24C2.5 33 6 42 8.3 43.5C10.8 42 14.5 33 15.4 24L15.4 3" fill="#fff" stroke="#333" stroke-width="0.8"/>
<path d="M15 3L15 24" stroke="#999" stroke-width="1.4"/>
<line x1="3" y1="8.2" x2="10.5" y2="8.2" stroke="#777" stroke-width="0.7"/>
<line x1="3" y1="16.8" x2="10.5" y2="16.8" stroke="#777" stroke-width="0.7"/>
<line x1="3" y1="25.4" x2="10.5" y2="25.4" stroke="#777" stroke-width="0.7"/>
<path d="M-0.2 2.6L-2.2 2.4L-18.2 -8L-13.8 -10.8L-2.8 -3.8L-2.2 -0.2L-17 -8.6" fill="none" stroke="#333" stroke-width="0.7"/>
<g fill="none" stroke="#3a2fb0" stroke-width="0.7"><ellipse cx="8.2" cy="30.5" rx="2.3" ry="3.6"/><ellipse cx="9.2" cy="33.5" rx="3" ry="3"/><ellipse cx="8" cy="36" rx="3" ry="2.6"/><ellipse cx="8.8" cy="34" rx="1.5" ry="1.8"/></g>
</g>
<g transform="translate(378.8 252.6) translate(17.6 0) scale(-1 1)">
<rect x="0" y="0" width="17.6" height="3" fill="#fff" stroke="#333" stroke-width="0.8"/>
<path d="M1.8 3L1.8 24C2.5 33 6 42 8.3 43.5C10.8 42 14.5 33 15.4 24L15.4 3" fill="#fff" stroke="#333" stroke-width="0.8"/>
<path d="M15 3L15 24" stroke="#999" stroke-width="1.4"/>
<line x1="3" y1="8.2" x2="10.5" y2="8.2" stroke="#777" stroke-width="0.7"/>
<line x1="3" y1="16.8" x2="10.5" y2="16.8" stroke="#777" stroke-width="0.7"/>
<line x1="3" y1="25.4" x2="10.5" y2="25.4" stroke="#777" stroke-width="0.7"/>
<path d="M-0.2 2.6L-2.2 2.4L-18.2 -8L-13.8 -10.8L-2.8 -3.8L-2.2 -0.2L-17 -8.6" fill="none" stroke="#333" stroke-width="0.7"/>
<g fill="none" stroke="#8a1fc0" stroke-width="0.7"><ellipse cx="8.2" cy="30.5" rx="2.3" ry="3.6"/><ellipse cx="9.2" cy="33.5" rx="3" ry="3"/><ellipse cx="8" cy="36" rx="3" ry="2.6"/><ellipse cx="8.8" cy="34" rx="1.5" ry="1.8"/></g>
</g>
<text x="69.0" y="280.5" font-size="24.5" textLength="151.5" lengthAdjust="spacingAndGlyphs">5mC analysis</text>
<text x="281.5" y="280.5" font-size="24.5" textLength="49.0" lengthAdjust="spacingAndGlyphs">DNA</text>
<text x="418.5" y="280.5" font-size="24.5" textLength="48.5" lengthAdjust="spacingAndGlyphs">RNA</text>
<text x="521.5" y="280.5" font-size="24.5" textLength="97.5" lengthAdjust="spacingAndGlyphs">RNA-seq</text>
<line x1="268.5" y1="274.3" x2="239.0" y2="274.3" stroke="#3d4b63" stroke-width="1.9"/>
<path d="M235.0 274.3L245.0 269L242.5 274.3L245.0 278.2Z" fill="#3d4b63"/>
<line x1="480.0" y1="274.3" x2="509.5" y2="274.3" stroke="#3d4b63" stroke-width="1.9"/>
<path d="M513.5 274.3L503.5 269L506.0 274.3L503.5 278.2Z" fill="#3d4b63"/>
</g>
<g id="panel-b">
<text x="691.0" y="31.5" font-size="36" font-weight="bold" textLength="23.5" lengthAdjust="spacingAndGlyphs" stroke="#161616" stroke-width="1.8">b</text>
<line x1="778.8" y1="28.6" x2="778.8" y2="485.5" stroke="#222" stroke-width="1.2"/>
<line x1="768.8" y1="485.5" x2="1082.0" y2="485.5" stroke="#222" stroke-width="1.2"/>
<line x1="768.8" y1="485.5" x2="778.8" y2="485.5" stroke="#222" stroke-width="1.2"/>
<text x="757.0" y="491.7" font-size="20" text-anchor="end" textLength="12.4" lengthAdjust="spacingAndGlyphs">0</text>
<line x1="768.8" y1="355.2" x2="778.8" y2="355.2" stroke="#222" stroke-width="1.2"/>
<text x="757.0" y="361.4" font-size="20" text-anchor="end" textLength="24.8" lengthAdjust="spacingAndGlyphs">20</text>
<line x1="768.8" y1="225.3" x2="778.8" y2="225.3" stroke="#222" stroke-width="1.2"/>
<text x="757.0" y="231.5" font-size="20" text-anchor="end" textLength="24.8" lengthAdjust="spacingAndGlyphs">40</text>
<line x1="768.8" y1="94.5" x2="778.8" y2="94.5" stroke="#222" stroke-width="1.2"/>
<text x="757.0" y="100.7" font-size="20" text-anchor="end" textLength="24.8" lengthAdjust="spacingAndGlyphs">60</text>
<path d="M779.70 485.5V502.5M783.04 485.5V502.5M786.38 485.5V502.5M789.73 485.5V502.5M793.07 485.5V502.5M796.41 485.5V502.5M799.75 485.5V502.5M803.10 485.5V502.5M806.44 485.5V502.5M809.78 485.5V502.5M813.12 485.5V502.5M816.46 485.5V502.5M819.81 485.5V502.5M823.15 485.5V502.5M826.49 485.5V502.5M829.83 485.5V502.5M833.18 485.5V502.5M836.52 485.5V502.5M839.86 485.5V502.5M843.20 485.5V502.5M846.54 485.5V502.5M849.89 485.5V502.5M853.23 485.5V502.5M856.57 485.5V502.5M859.91 485.5V502.5M863.26 485.5V502.5M866.60 485.5V502.5M869.94 485.5V502.5M873.28 485.5V502.5M876.62 485.5V502.5M879.97 485.5V502.5M883.31 485.5V502.5M886.65 485.5V502.5M889.99 485.5V502.5M893.34 485.5V502.5M896.68 485.5V502.5M900.02 485.5V502.5M903.36 485.5V502.5M906.70 485.5V502.5M910.05 485.5V502.5M913.39 485.5V502.5M916.73 485.5V502.5M920.07 485.5V502.5M923.42 485.5V502.5M926.76 485.5V502.5M930.10 485.5V502.5M933.44 485.5V502.5M936.78 485.5V502.5M940.13 485.5V502.5M943.47 485.5V502.5M946.81 485.5V502.5M950.15 485.5V502.5M953.50 485.5V502.5M956.84 485.5V502.5M960.18 485.5V502.5M963.52 485.5V502.5M966.86 485.5V502.5M970.21 485.5V502.5M973.55 485.5V502.5M976.89 485.5V502.5M980.23 485.5V502.5M983.58 485.5V502.5M986.92 485.5V502.5M990.26 485.5V502.5M993.60 485.5V502.5M996.94 485.5V502.5M1000.29 485.5V502.5M1003.63 485.5V502.5M1006.97 485.5V502.5M1010.31 485.5V502.5M1013.66 485.5V502.5M1017.00 485.5V502.5M1020.34 485.5V502.5M1023.68 485.5V502.5M1027.02 485.5V502.5M1030.37 485.5V502.5M1033.71 485.5V502.5M1037.05 485.5V502.5M1040.39 485.5V502.5M1043.74 485.5V502.5M1047.08 485.5V502.5M1050.42 485.5V502.5M1053.76 485.5V502.5M1057.10 485.5V502.5M1060.45 485.5V502.5M1063.79 485.5V502.5M1067.13 485.5V502.5M1070.47 485.5V502.5M1073.82 485.5V502.5M1077.16 485.5V502.5M1080.50 485.5V502.5" fill="none" stroke="#222" stroke-width="0.9"/>
<line x1="857.9" y1="48.0" x2="857.9" y2="485.5" stroke="#4aa8dc" stroke-width="2.2"/>
<line x1="1021.4" y1="48.0" x2="1021.4" y2="485.5" stroke="#e0281e" stroke-width="2.2"/>
<g fill="none" stroke="#1c1c1c" stroke-width="1.1">
<circle cx="779.7" cy="467.5" r="6.7"/>
<circle cx="783.0" cy="462.8" r="6.7"/>
<circle cx="786.4" cy="459.6" r="6.7"/>
<circle cx="789.7" cy="456.7" r="6.7"/>
<circle cx="793.1" cy="454.1" r="6.7"/>
<circle cx="796.4" cy="448.2" r="6.7"/>
<circle cx="799.7" cy="447.6" r="6.7"/>
<circle cx="803.1" cy="446.5" r="6.7"/>
<circle cx="806.4" cy="445.9" r="6.7"/>
<circle cx="809.8" cy="445.2" r="6.7"/>
<circle cx="813.1" cy="444.4" r="6.7"/>
<circle cx="816.4" cy="443.7" r="6.7"/>
<circle cx="819.8" cy="443.1" r="6.7"/>
<circle cx="823.1" cy="441.2" r="6.7"/>
<circle cx="826.5" cy="436.6" r="6.7"/>
<circle cx="829.8" cy="435.9" r="6.7"/>
<circle cx="833.2" cy="430.7" r="6.7"/>
<circle cx="836.5" cy="423.3" r="6.7"/>
<circle cx="839.8" cy="419.9" r="6.7"/>
<circle cx="843.2" cy="417.2" r="6.7"/>
<circle cx="846.5" cy="415.1" r="6.7"/>
<circle cx="849.9" cy="414.1" r="6.7"/>
<circle cx="853.2" cy="411.2" r="6.7"/>
<circle cx="856.5" cy="408.5" r="6.7"/>
<circle cx="859.9" cy="390.5" r="6.7"/>
<circle cx="863.2" cy="387.9" r="6.7"/>
<circle cx="866.6" cy="382.2" r="6.7"/>
<circle cx="869.9" cy="376.9" r="6.7"/>
<circle cx="873.3" cy="374.5" r="6.7"/>
<circle cx="876.6" cy="373.6" r="6.7"/>
<circle cx="879.9" cy="373.0" r="6.7"/>
<circle cx="883.3" cy="365.7" r="6.7"/>
<circle cx="886.6" cy="362.4" r="6.7"/>
<circle cx="890.0" cy="361.8" r="6.7"/>
<circle cx="893.3" cy="360.9" r="6.7"/>
<circle cx="896.7" cy="355.1" r="6.7"/>
<circle cx="900.0" cy="353.1" r="6.7"/>
<circle cx="903.3" cy="352.9" r="6.7"/>
<circle cx="906.7" cy="351.5" r="6.7"/>
<circle cx="910.0" cy="349.1" r="6.7"/>
<circle cx="913.4" cy="347.6" r="6.7"/>
<circle cx="916.7" cy="346.9" r="6.7"/>
<circle cx="920.0" cy="345.9" r="6.7"/>
<circle cx="923.4" cy="344.6" r="6.7"/>
<circle cx="926.7" cy="343.2" r="6.7"/>
<circle cx="930.1" cy="341.1" r="6.7"/>
<circle cx="933.4" cy="338.3" r="6.7"/>
<circle cx="936.8" cy="336.1" r="6.7"/>
<circle cx="940.1" cy="334.6" r="6.7"/>
<circle cx="943.4" cy="331.6" r="6.7"/>
<circle cx="946.8" cy="323.6" r="6.7"/>
<circle cx="950.1" cy="323.1" r="6.7"/>
<circle cx="953.5" cy="322.3" r="6.7"/>
<circle cx="956.8" cy="321.5" r="6.7"/>
<circle cx="960.1" cy="320.9" r="6.7"/>
<circle cx="963.5" cy="319.7" r="6.7"/>
<circle cx="966.8" cy="317.7" r="6.7"/>
<circle cx="970.2" cy="310.1" r="6.7"/>
<circle cx="973.5" cy="307.1" r="6.7"/>
<circle cx="976.9" cy="303.0" r="6.7"/>
<circle cx="980.2" cy="297.4" r="6.7"/>
<circle cx="983.5" cy="290.8" r="6.7"/>
<circle cx="986.9" cy="285.8" r="6.7"/>
<circle cx="990.2" cy="285.0" r="6.7"/>
<circle cx="993.6" cy="284.5" r="6.7"/>
<circle cx="996.9" cy="281.6" r="6.7"/>
<circle cx="1000.3" cy="275.4" r="6.7"/>
<circle cx="1003.6" cy="271.4" r="6.7"/>
<circle cx="1006.9" cy="261.1" r="6.7"/>
<circle cx="1010.3" cy="255.4" r="6.7"/>
<circle cx="1013.6" cy="250.8" r="6.7"/>
<circle cx="1017.0" cy="246.9" r="6.7"/>
<circle cx="1020.3" cy="242.8" r="6.7"/>
<circle cx="1023.6" cy="241.0" r="6.7"/>
<circle cx="1027.0" cy="238.6" r="6.7"/>
<circle cx="1030.3" cy="235.1" r="6.7"/>
<circle cx="1033.7" cy="229.6" r="6.7"/>
<circle cx="1037.0" cy="225.7" r="6.7"/>
<circle cx="1040.4" cy="224.9" r="6.7"/>
<circle cx="1043.7" cy="220.9" r="6.7"/>
<circle cx="1047.0" cy="213.2" r="6.7"/>
<circle cx="1050.4" cy="207.2" r="6.7"/>
<circle cx="1053.7" cy="205.1" r="6.7"/>
<circle cx="1057.1" cy="196.8" r="6.7"/>
<circle cx="1060.4" cy="186.4" r="6.7"/>
<circle cx="1063.7" cy="175.6" r="6.7"/>
<circle cx="1067.1" cy="151.0" r="6.7"/>
<circle cx="1070.4" cy="133.2" r="6.7"/>
<circle cx="1073.8" cy="122.9" r="6.7"/>
<circle cx="1077.1" cy="115.5" r="6.7"/>
<circle cx="1080.5" cy="111.1" r="6.7"/>
</g>
<text x="816.0" y="331.5" font-size="19.5" text-anchor="middle" textLength="39.5" lengthAdjust="spacingAndGlyphs">Low</text>
<text x="816.0" y="356.5" font-size="19.5" text-anchor="middle" textLength="45.5" lengthAdjust="spacingAndGlyphs">5mC</text>
<text x="816.0" y="381.5" font-size="19.5" text-anchor="middle" textLength="61.5" lengthAdjust="spacingAndGlyphs">crypts</text>
<text x="1058.0" y="276.5" font-size="19.5" text-anchor="middle" textLength="45.0" lengthAdjust="spacingAndGlyphs">High</text>
<text x="1058.0" y="301.2" font-size="19.5" text-anchor="middle" textLength="45.5" lengthAdjust="spacingAndGlyphs">5mC</text>
<text x="1058.0" y="325.9" font-size="19.5" text-anchor="middle" textLength="61.5" lengthAdjust="spacingAndGlyphs">crypts</text>
<text x="930.0" y="542.5" font-size="23" text-anchor="middle" textLength="152.0" lengthAdjust="spacingAndGlyphs">Single crypts</text>
<text x="710.5" y="200.0" font-size="23.5" text-anchor="middle" textLength="97.0" lengthAdjust="spacingAndGlyphs" transform="rotate(-90 710.5 200.0)">5mC (%)</text>
</g>
<g id="panel-c">
<text x="1155.5" y="31.5" font-size="38" font-weight="bold" textLength="23.0" lengthAdjust="spacingAndGlyphs" stroke="#161616" stroke-width="1.8">c</text>
<text x="1398.5" y="32.5" font-size="23" text-anchor="middle" textLength="48.0" lengthAdjust="spacingAndGlyphs">PCA</text>
<rect x="1253.3" y="59.0" width="290.0" height="419.2" fill="#f3f5f4" stroke="none" stroke-width="1.2"/>
<line x1="1290.9" y1="59.0" x2="1290.9" y2="478.2" stroke="#fff" stroke-width="1.2"/>
<line x1="1328.6" y1="59.0" x2="1328.6" y2="478.2" stroke="#fff" stroke-width="2.2"/>
<line x1="1365.9" y1="59.0" x2="1365.9" y2="478.2" stroke="#fff" stroke-width="1.2"/>
<line x1="1403.2" y1="59.0" x2="1403.2" y2="478.2" stroke="#fff" stroke-width="2.2"/>
<line x1="1440.7" y1="59.0" x2="1440.7" y2="478.2" stroke="#fff" stroke-width="1.2"/>
<line x1="1478.3" y1="59.0" x2="1478.3" y2="478.2" stroke="#fff" stroke-width="2.2"/>
<line x1="1516.0" y1="59.0" x2="1516.0" y2="478.2" stroke="#fff" stroke-width="1.2"/>
<line x1="1253.3" y1="91.2" x2="1543.3" y2="91.2" stroke="#fff" stroke-width="2.2"/>
<line x1="1253.3" y1="139.8" x2="1543.3" y2="139.8" stroke="#fff" stroke-width="2.2"/>
<line x1="1253.3" y1="187.8" x2="1543.3" y2="187.8" stroke="#fff" stroke-width="2.2"/>
<line x1="1253.3" y1="235.8" x2="1543.3" y2="235.8" stroke="#fff" stroke-width="2.2"/>
<line x1="1253.3" y1="284.0" x2="1543.3" y2="284.0" stroke="#fff" stroke-width="2.2"/>
<line x1="1253.3" y1="332.0" x2="1543.3" y2="332.0" stroke="#fff" stroke-width="2.2"/>
<line x1="1253.3" y1="380.0" x2="1543.3" y2="380.0" stroke="#fff" stroke-width="2.2"/>
<line x1="1253.3" y1="428.0" x2="1543.3" y2="428.0" stroke="#fff" stroke-width="2.2"/>
<polygon points="1266.2,232.4 1324.4,153.6 1343.6,149.0 1498.6,214.0 1519.7,297.1 1426.1,459.3" fill="rgba(255,200,200,0.55)" stroke="#e0281e" stroke-width="1.9" stroke-linejoin="round"/>
<polygon points="1373.7,110.8 1451.9,78.5 1530.7,85.6 1510.9,151.4 1430.8,163.0 1371.0,147.6" fill="rgba(180,230,235,0.55)" stroke="#4a86c8" stroke-width="1.9" stroke-linejoin="round"/>
<circle cx="1324.4" cy="153.6" r="2.5" fill="#e5392f" stroke="none" stroke-width="1"/>
<circle cx="1343.6" cy="149.0" r="2.5" fill="#e5392f" stroke="none" stroke-width="1"/>
<circle cx="1351.5" cy="157.2" r="2.5" fill="#e5392f" stroke="none" stroke-width="1"/>
<circle cx="1321.1" cy="169.0" r="2.5" fill="#e5392f" stroke="none" stroke-width="1"/>
<circle cx="1343.8" cy="169.0" r="2.5" fill="#e5392f" stroke="none" stroke-width="1"/>
<circle cx="1375.9" cy="183.3" r="2.5" fill="#e5392f" stroke="none" stroke-width="1"/>
<circle cx="1340.0" cy="219.2" r="2.5" fill="#e5392f" stroke="none" stroke-width="1"/>
<circle cx="1266.2" cy="232.4" r="2.5" fill="#e5392f" stroke="none" stroke-width="1"/>
<circle cx="1498.6" cy="214.0" r="2.5" fill="#e5392f" stroke="none" stroke-width="1"/>
<circle cx="1374.3" cy="256.2" r="2.5" fill="#e5392f" stroke="none" stroke-width="1"/>
<circle cx="1326.6" cy="297.1" r="2.5" fill="#e5392f" stroke="none" stroke-width="1"/>
<circle cx="1492.5" cy="292.7" r="2.5" fill="#e5392f" stroke="none" stroke-width="1"/>
<circle cx="1519.7" cy="297.1" r="2.5" fill="#e5392f" stroke="none" stroke-width="1"/>
<circle cx="1442.3" cy="380.2" r="2.5" fill="#e5392f" stroke="none" stroke-width="1"/>
<circle cx="1426.1" cy="459.3" r="2.5" fill="#e5392f" stroke="none" stroke-width="1"/>
<circle cx="1451.9" cy="78.5" r="2.5" fill="#5b9bd5" stroke="none" stroke-width="1"/>
<circle cx="1476.6" cy="82.3" r="2.5" fill="#5b9bd5" stroke="none" stroke-width="1"/>
<circle cx="1530.7" cy="85.6" r="2.5" fill="#5b9bd5" stroke="none" stroke-width="1"/>
<circle cx="1461.3" cy="95.5" r="2.5" fill="#5b9bd5" stroke="none" stroke-width="1"/>
<circle cx="1373.7" cy="110.8" r="2.5" fill="#5b9bd5" stroke="none" stroke-width="1"/>
<circle cx="1399.8" cy="130.9" r="2.5" fill="#5b9bd5" stroke="none" stroke-width="1"/>
<circle cx="1376.5" cy="140.5" r="2.5" fill="#5b9bd5" stroke="none" stroke-width="1"/>
<circle cx="1424.8" cy="138.8" r="2.5" fill="#5b9bd5" stroke="none" stroke-width="1"/>
<circle cx="1400.6" cy="147.9" r="2.5" fill="#5b9bd5" stroke="none" stroke-width="1"/>
<circle cx="1371.0" cy="147.6" r="2.5" fill="#5b9bd5" stroke="none" stroke-width="1"/>
<circle cx="1510.9" cy="151.4" r="2.5" fill="#5b9bd5" stroke="none" stroke-width="1"/>
<circle cx="1430.8" cy="163.0" r="2.5" fill="#5b9bd5" stroke="none" stroke-width="1"/>
<rect x="1253.3" y="59.0" width="290.0" height="419.2" fill="none" stroke="#333" stroke-width="1.4"/>
<line x1="1245.5" y1="76.8" x2="1253.3" y2="76.8" stroke="#333" stroke-width="1.3"/>
<text x="1232.0" y="83.0" font-size="20" text-anchor="end" textLength="22.0" lengthAdjust="spacingAndGlyphs">10</text>
<line x1="1245.5" y1="131.6" x2="1253.3" y2="131.6" stroke="#333" stroke-width="1.3"/>
<text x="1232.0" y="137.8" font-size="20" text-anchor="end" textLength="12.4" lengthAdjust="spacingAndGlyphs">5</text>
<line x1="1245.5" y1="186.3" x2="1253.3" y2="186.3" stroke="#333" stroke-width="1.3"/>
<text x="1232.0" y="192.5" font-size="20" text-anchor="end" textLength="12.4" lengthAdjust="spacingAndGlyphs">0</text>
<line x1="1245.5" y1="241.1" x2="1253.3" y2="241.1" stroke="#333" stroke-width="1.3"/>
<text x="1232.0" y="247.3" font-size="20" text-anchor="end" textLength="24.4" lengthAdjust="spacingAndGlyphs">−5</text>
<line x1="1245.5" y1="295.8" x2="1253.3" y2="295.8" stroke="#333" stroke-width="1.3"/>
<text x="1232.0" y="302.0" font-size="20" text-anchor="end" textLength="34.0" lengthAdjust="spacingAndGlyphs">−10</text>
<line x1="1245.5" y1="350.6" x2="1253.3" y2="350.6" stroke="#333" stroke-width="1.3"/>
<text x="1232.0" y="356.8" font-size="20" text-anchor="end" textLength="34.0" lengthAdjust="spacingAndGlyphs">−15</text>
<line x1="1245.5" y1="405.3" x2="1253.3" y2="405.3" stroke="#333" stroke-width="1.3"/>
<text x="1232.0" y="411.5" font-size="20" text-anchor="end" textLength="36.8" lengthAdjust="spacingAndGlyphs">−20</text>
<line x1="1245.5" y1="460.1" x2="1253.3" y2="460.1" stroke="#333" stroke-width="1.3"/>
<text x="1232.0" y="466.3" font-size="20" text-anchor="end" textLength="36.8" lengthAdjust="spacingAndGlyphs">−25</text>
<line x1="1277.6" y1="478.2" x2="1277.6" y2="486.4" stroke="#333" stroke-width="1.3"/>
<text x="1277.6" y="518.0" font-size="20" text-anchor="middle" textLength="36.8" lengthAdjust="spacingAndGlyphs">−20</text>
<line x1="1340.2" y1="478.2" x2="1340.2" y2="486.4" stroke="#333" stroke-width="1.3"/>
<text x="1340.2" y="518.0" font-size="20" text-anchor="middle" textLength="34.0" lengthAdjust="spacingAndGlyphs">−10</text>
<line x1="1402.8" y1="478.2" x2="1402.8" y2="486.4" stroke="#333" stroke-width="1.3"/>
<text x="1402.8" y="518.0" font-size="20" text-anchor="middle" textLength="12.4" lengthAdjust="spacingAndGlyphs">0</text>
<line x1="1465.4" y1="478.2" x2="1465.4" y2="486.4" stroke="#333" stroke-width="1.3"/>
<text x="1465.4" y="518.0" font-size="20" text-anchor="middle" textLength="22.0" lengthAdjust="spacingAndGlyphs">10</text>
<line x1="1528.0" y1="478.2" x2="1528.0" y2="486.4" stroke="#333" stroke-width="1.3"/>
<text x="1528.0" y="518.0" font-size="20" text-anchor="middle" textLength="24.8" lengthAdjust="spacingAndGlyphs">20</text>
<text x="1398.8" y="554.5" font-size="23" text-anchor="middle" textLength="97.3" lengthAdjust="spacingAndGlyphs">PC1 (9%)</text>
<text x="1175.5" y="268.0" font-size="23" text-anchor="middle" textLength="99.0" lengthAdjust="spacingAndGlyphs" transform="rotate(-90 1175.5 268.0)">PC2 (7%)</text>
<text x="1422.5" y="179.8" font-size="16.5" font-style="italic" textLength="8.5" lengthAdjust="spacingAndGlyphs">P</text>
<text x="1436.0" y="179.8" font-size="16.5" textLength="90.0" lengthAdjust="spacingAndGlyphs">= 4.235 × 10</text>
<text x="1527.0" y="173.5" font-size="10.5" textLength="13.0" lengthAdjust="spacingAndGlyphs">−5</text>
<text x="1258.5" y="391.5" font-size="23.5" textLength="82.0" lengthAdjust="spacingAndGlyphs">Crypts:</text>
<circle cx="1274.3" cy="414.1" r="7.2" fill="#5aaee0" stroke="#333" stroke-width="0.8"/>
<circle cx="1274.3" cy="443.9" r="7.2" fill="#e0281e" stroke="#333" stroke-width="0.8"/>
<text x="1292.0" y="420.5" font-size="20" textLength="90.8" lengthAdjust="spacingAndGlyphs">Low 5mC</text>
<text x="1292.0" y="450.6" font-size="20" textLength="96.5" lengthAdjust="spacingAndGlyphs">High 5mC</text>
</g>
<g id="panel-d">
<text x="3.5" y="474.4" font-size="39" font-weight="bold" textLength="22.5" lengthAdjust="spacingAndGlyphs" stroke="#161616" stroke-width="1.8">d</text>
<text x="66.8" y="496.7" font-size="23.5" textLength="229.2" lengthAdjust="spacingAndGlyphs">Transferrin receptor</text>
<text x="143.2" y="535.5" font-size="16.5" font-style="italic" textLength="9.0" lengthAdjust="spacingAndGlyphs">P</text>
<text x="156.5" y="535.5" font-size="16.5" textLength="61.8" lengthAdjust="spacingAndGlyphs">= 0.039</text>
<line x1="149.0" y1="544.0" x2="212.5" y2="544.0" stroke="#777" stroke-width="1.2"/>
<line x1="112.7" y1="543.1" x2="112.7" y2="752.4" stroke="#333" stroke-width="1.2"/>
<line x1="104.6" y1="752.4" x2="251.0" y2="752.4" stroke="#333" stroke-width="1.2"/>
<line x1="104.6" y1="543.1" x2="112.7" y2="543.1" stroke="#333" stroke-width="1.2"/>
<text x="92.0" y="549.3" font-size="20" text-anchor="end" textLength="22.0" lengthAdjust="spacingAndGlyphs">13</text>
<line x1="104.6" y1="647.8" x2="112.7" y2="647.8" stroke="#333" stroke-width="1.2"/>
<text x="92.0" y="654.0" font-size="20" text-anchor="end" textLength="22.0" lengthAdjust="spacingAndGlyphs">12</text>
<line x1="104.6" y1="752.4" x2="112.7" y2="752.4" stroke="#333" stroke-width="1.2"/>
<text x="92.0" y="758.6" font-size="20" text-anchor="end" textLength="19.2" lengthAdjust="spacingAndGlyphs">11</text>
<line x1="181.4" y1="752.4" x2="181.4" y2="760.0" stroke="#333" stroke-width="1.2"/>
<circle cx="151.8" cy="561.3" r="3.3" fill="#58b0e0" stroke="none" stroke-width="1"/>
<circle cx="139.4" cy="588.0" r="3.3" fill="#58b0e0" stroke="none" stroke-width="1"/>
<circle cx="151.8" cy="586.6" r="3.3" fill="#58b0e0" stroke="none" stroke-width="1"/>
<circle cx="139.4" cy="596.6" r="3.3" fill="#58b0e0" stroke="none" stroke-width="1"/>
<circle cx="151.8" cy="593.3" r="3.3" fill="#58b0e0" stroke="none" stroke-width="1"/>
<circle cx="164.6" cy="594.7" r="3.3" fill="#58b0e0" stroke="none" stroke-width="1"/>
<circle cx="164.6" cy="602.3" r="3.3" fill="#58b0e0" stroke="none" stroke-width="1"/>
<circle cx="151.8" cy="609.6" r="3.3" fill="#58b0e0" stroke="none" stroke-width="1"/>
<circle cx="164.6" cy="611.3" r="3.3" fill="#58b0e0" stroke="none" stroke-width="1"/>
<circle cx="151.8" cy="617.0" r="3.3" fill="#58b0e0" stroke="none" stroke-width="1"/>
<circle cx="157.9" cy="629.2" r="3.3" fill="#58b0e0" stroke="none" stroke-width="1"/>
<circle cx="145.5" cy="633.8" r="3.3" fill="#58b0e0" stroke="none" stroke-width="1"/>
<circle cx="211.6" cy="597.2" r="3.3" fill="#e0281e" stroke="none" stroke-width="1"/>
<circle cx="220.0" cy="596.2" r="3.3" fill="#e0281e" stroke="none" stroke-width="1"/>
<circle cx="228.6" cy="596.0" r="3.3" fill="#e0281e" stroke="none" stroke-width="1"/>
<circle cx="203.4" cy="601.4" r="3.3" fill="#e0281e" stroke="none" stroke-width="1"/>
<circle cx="220.0" cy="603.3" r="3.3" fill="#e0281e" stroke="none" stroke-width="1"/>
<circle cx="220.0" cy="609.6" r="3.3" fill="#e0281e" stroke="none" stroke-width="1"/>
<circle cx="211.6" cy="613.4" r="3.3" fill="#e0281e" stroke="none" stroke-width="1"/>
<circle cx="194.8" cy="622.7" r="3.3" fill="#e0281e" stroke="none" stroke-width="1"/>
<circle cx="203.4" cy="620.4" r="3.3" fill="#e0281e" stroke="none" stroke-width="1"/>
<circle cx="211.6" cy="623.7" r="3.3" fill="#e0281e" stroke="none" stroke-width="1"/>
<circle cx="220.0" cy="621.4" r="3.3" fill="#e0281e" stroke="none" stroke-width="1"/>
<circle cx="228.6" cy="620.4" r="3.3" fill="#e0281e" stroke="none" stroke-width="1"/>
<circle cx="203.4" cy="629.6" r="3.3" fill="#e0281e" stroke="none" stroke-width="1"/>
<circle cx="220.0" cy="631.9" r="3.3" fill="#e0281e" stroke="none" stroke-width="1"/>
<circle cx="211.6" cy="640.9" r="3.3" fill="#e0281e" stroke="none" stroke-width="1"/>
<circle cx="211.6" cy="666.7" r="3.3" fill="#e0281e" stroke="none" stroke-width="1"/>
<line x1="132.1" y1="599.1" x2="171.9" y2="599.1" stroke="#111" stroke-width="2"/>
<line x1="191.9" y1="620.1" x2="231.6" y2="620.1" stroke="#111" stroke-width="2"/>
<text x="181.4" y="789.5" font-size="23" text-anchor="middle" font-style="italic" textLength="44.0" lengthAdjust="spacingAndGlyphs">Tfrc</text>
<text x="24.8" y="646.8" font-size="23.5" text-anchor="middle" textLength="216.6" lengthAdjust="spacingAndGlyphs" transform="rotate(-90 24.8 646.8)">Normalized counts</text>
<text x="55.2" y="658.0" font-size="23.5" text-anchor="middle" textLength="42.0" lengthAdjust="spacingAndGlyphs" transform="rotate(-90 55.2 658.0)">(log</text>
<text x="59.5" y="629.0" font-size="14" text-anchor="middle" textLength="8.5" lengthAdjust="spacingAndGlyphs" transform="rotate(-90 59.5 629.0)">2</text>
<text x="55.2" y="622.0" font-size="23.5" text-anchor="middle" textLength="7.0" lengthAdjust="spacingAndGlyphs" transform="rotate(-90 55.2 622.0)">)</text>
<text x="422.5" y="496.7" font-size="23.5" textLength="129.0" lengthAdjust="spacingAndGlyphs">Ferroportin</text>
<text x="448.2" y="548.0" font-size="16.5" font-style="italic" textLength="9.0" lengthAdjust="spacingAndGlyphs">P</text>
<text x="461.5" y="548.0" font-size="16.5" textLength="61.8" lengthAdjust="spacingAndGlyphs">= 0.049</text>
<line x1="453.8" y1="555.4" x2="517.6" y2="555.4" stroke="#333" stroke-width="1.2"/>
<line x1="416.3" y1="543.1" x2="416.3" y2="752.4" stroke="#333" stroke-width="1.2"/>
<line x1="416.3" y1="752.4" x2="555.8" y2="752.4" stroke="#333" stroke-width="1.2"/>
<line x1="408.7" y1="606.2" x2="416.3" y2="606.2" stroke="#333" stroke-width="1.2"/>
<text x="396.5" y="612.4" font-size="20" text-anchor="end" textLength="22.0" lengthAdjust="spacingAndGlyphs">10</text>
<line x1="408.7" y1="710.4" x2="416.3" y2="710.4" stroke="#333" stroke-width="1.2"/>
<text x="396.5" y="716.6" font-size="20" text-anchor="end" textLength="12.4" lengthAdjust="spacingAndGlyphs">5</text>
<line x1="486.2" y1="752.4" x2="486.2" y2="760.0" stroke="#333" stroke-width="1.2"/>
<circle cx="456.5" cy="645.5" r="3.3" fill="#58b0e0" stroke="none" stroke-width="1"/>
<circle cx="464.9" cy="653.5" r="3.3" fill="#58b0e0" stroke="none" stroke-width="1"/>
<circle cx="456.5" cy="656.6" r="3.3" fill="#58b0e0" stroke="none" stroke-width="1"/>
<circle cx="456.5" cy="666.1" r="3.3" fill="#58b0e0" stroke="none" stroke-width="1"/>
<circle cx="464.9" cy="675.3" r="3.3" fill="#58b0e0" stroke="none" stroke-width="1"/>
<circle cx="448.1" cy="675.3" r="3.3" fill="#58b0e0" stroke="none" stroke-width="1"/>
<circle cx="439.6" cy="677.2" r="3.3" fill="#58b0e0" stroke="none" stroke-width="1"/>
<circle cx="456.5" cy="677.2" r="3.3" fill="#58b0e0" stroke="none" stroke-width="1"/>
<circle cx="473.3" cy="677.2" r="3.3" fill="#58b0e0" stroke="none" stroke-width="1"/>
<circle cx="456.5" cy="684.5" r="3.3" fill="#58b0e0" stroke="none" stroke-width="1"/>
<circle cx="456.5" cy="741.0" r="3.3" fill="#58b0e0" stroke="none" stroke-width="1"/>
<circle cx="516.0" cy="567.2" r="3.3" fill="#e0281e" stroke="none" stroke-width="1"/>
<circle cx="528.6" cy="563.4" r="3.3" fill="#e0281e" stroke="none" stroke-width="1"/>
<circle cx="516.0" cy="592.0" r="3.3" fill="#e0281e" stroke="none" stroke-width="1"/>
<circle cx="503.4" cy="614.2" r="3.3" fill="#e0281e" stroke="none" stroke-width="1"/>
<circle cx="516.0" cy="616.5" r="3.3" fill="#e0281e" stroke="none" stroke-width="1"/>
<circle cx="509.9" cy="637.5" r="3.3" fill="#e0281e" stroke="none" stroke-width="1"/>
<circle cx="522.5" cy="636.3" r="3.3" fill="#e0281e" stroke="none" stroke-width="1"/>
<circle cx="528.6" cy="645.1" r="3.3" fill="#e0281e" stroke="none" stroke-width="1"/>
<circle cx="516.0" cy="648.2" r="3.3" fill="#e0281e" stroke="none" stroke-width="1"/>
<circle cx="503.4" cy="645.1" r="3.3" fill="#e0281e" stroke="none" stroke-width="1"/>
<circle cx="509.9" cy="668.0" r="3.3" fill="#e0281e" stroke="none" stroke-width="1"/>
<circle cx="522.5" cy="671.1" r="3.3" fill="#e0281e" stroke="none" stroke-width="1"/>
<circle cx="516.0" cy="681.0" r="3.3" fill="#e0281e" stroke="none" stroke-width="1"/>
<circle cx="516.0" cy="693.2" r="3.3" fill="#e0281e" stroke="none" stroke-width="1"/>
<circle cx="516.0" cy="715.4" r="3.3" fill="#e0281e" stroke="none" stroke-width="1"/>
<line x1="436.6" y1="677.2" x2="476.3" y2="677.2" stroke="#111" stroke-width="2"/>
<line x1="496.6" y1="645.1" x2="536.3" y2="645.1" stroke="#111" stroke-width="2"/>
<text x="486.2" y="789.5" font-size="23" text-anchor="middle" font-style="italic" textLength="91.0" lengthAdjust="spacingAndGlyphs">Slc40a1</text>
<text x="326.8" y="646.8" font-size="23.5" text-anchor="middle" textLength="216.6" lengthAdjust="spacingAndGlyphs" transform="rotate(-90 326.8 646.8)">Normalized counts</text>
<text x="357.2" y="658.0" font-size="23.5" text-anchor="middle" textLength="42.0" lengthAdjust="spacingAndGlyphs" transform="rotate(-90 357.2 658.0)">(log</text>
<text x="361.5" y="629.0" font-size="14" text-anchor="middle" textLength="8.5" lengthAdjust="spacingAndGlyphs" transform="rotate(-90 361.5 629.0)">2</text>
<text x="357.2" y="622.0" font-size="23.5" text-anchor="middle" textLength="7.0" lengthAdjust="spacingAndGlyphs" transform="rotate(-90 357.2 622.0)">)</text>
<circle cx="239.9" cy="834.2" r="3.6" fill="#58b0e0" stroke="none" stroke-width="1"/>
<circle cx="239.9" cy="865.1" r="3.6" fill="#e0281e" stroke="none" stroke-width="1"/>
<text x="256.7" y="841.5" font-size="23.5" textLength="107.0" lengthAdjust="spacingAndGlyphs">Low 5mC</text>
<text x="256.7" y="872.8" font-size="23.5" textLength="114.0" lengthAdjust="spacingAndGlyphs">High 5mC</text>
</g>
<g id="panel-e">
<text x="599.0" y="626.0" font-size="38" font-weight="bold" textLength="22.0" lengthAdjust="spacingAndGlyphs" stroke="#161616" stroke-width="1.8">e</text>
<text x="823.0" y="652.0" font-size="23" text-anchor="middle" textLength="73.0" lengthAdjust="spacingAndGlyphs">Young</text>
<text x="1047.5" y="652.0" font-size="23" text-anchor="middle" textLength="60.0" lengthAdjust="spacingAndGlyphs">Aged</text>
<line x1="706.9" y1="662.4" x2="929.6" y2="662.4" stroke="#222" stroke-width="1.2"/>
<line x1="939.7" y1="662.4" x2="1162.4" y2="662.4" stroke="#222" stroke-width="1.2"/>
<defs><filter id="bl1" x="-30%" y="-100%" width="160%" height="300%"><feGaussianBlur stdDeviation="2.8 2.4"/></filter><filter id="bl2" x="-30%" y="-100%" width="160%" height="300%"><feGaussianBlur stdDeviation="3 5"/></filter><filter id="bl3" x="-30%" y="-100%" width="160%" height="300%"><feGaussianBlur stdDeviation="1.8 1.0"/></filter><filter id="bl4" x="-30%" y="-100%" width="160%" height="300%"><feGaussianBlur stdDeviation="3.5 2.2"/></filter><filter id="noise" x="0" y="0" width="100%" height="100%"><feTurbulence type="fractalNoise" baseFrequency="0.3" numOctaves="3" seed="7"/><feColorMatrix type="matrix" values="0.8 0 0 0 0.47  0.8 0 0 0 0.47  0.8 0 0 0 0.47  0 0 0 0 1"/></filter><clipPath id="cb1"><rect x="683.1" y="676.2" width="510.1" height="56"/></clipPath><clipPath id="cb2"><rect x="683.1" y="739.8" width="511.8" height="61.1"/></clipPath><clipPath id="cb3"><rect x="683.1" y="809.9" width="510.1" height="54.6"/></clipPath></defs>
<g clip-path="url(#cb1)">
<rect x="683.1" y="676.2" width="510.1" height="56.0" fill="#fbfbfb" stroke="none" stroke-width="1.2"/>
<rect x="708.2" y="677.2" width="30.3" height="56.7" fill="#000" opacity="0.26" filter="url(#bl2)"/>
<rect x="754.6" y="680.6" width="30.3" height="53.3" fill="#000" opacity="0.17" filter="url(#bl2)"/>
<rect x="801.0" y="677.2" width="30.3" height="56.7" fill="#000" opacity="0.24" filter="url(#bl2)"/>
<rect x="847.4" y="684.1" width="30.3" height="49.8" fill="#000" opacity="0.13" filter="url(#bl2)"/>
<rect x="894.8" y="684.1" width="30.3" height="49.8" fill="#000" opacity="0.2" filter="url(#bl2)"/>
<rect x="942.9" y="694.4" width="30.3" height="39.5" fill="#000" opacity="0.12" filter="url(#bl2)"/>
<rect x="993.5" y="697.8" width="30.3" height="34.4" fill="#000" opacity="0.05" filter="url(#bl2)"/>
<rect x="1040.6" y="697.8" width="30.3" height="24.1" fill="#000" opacity="0.03" filter="url(#bl2)"/>
<rect x="1088.7" y="697.8" width="30.3" height="24.1" fill="#000" opacity="0.04" filter="url(#bl2)"/>
<rect x="1136.1" y="694.4" width="30.3" height="27.5" fill="#000" opacity="0.05" filter="url(#bl2)"/>
<rect x="706.4" y="704.3" width="33.7" height="21.3" fill="#000" opacity="0.62" filter="url(#bl1)"/>
<rect x="752.8" y="705.4" width="33.7" height="19.3" fill="#000" opacity="0.36" filter="url(#bl1)"/>
<rect x="799.3" y="705.7" width="33.7" height="17.2" fill="#000" opacity="0.72" filter="url(#bl1)"/>
<rect x="845.7" y="708.1" width="33.7" height="13.8" fill="#000" opacity="0.6" filter="url(#bl1)"/>
<rect x="893.1" y="703.3" width="33.7" height="17.9" fill="#000" opacity="0.62" filter="url(#bl1)"/>
<rect x="941.2" y="705.4" width="33.7" height="12.4" fill="#000" opacity="0.34" filter="url(#bl1)"/>
<rect x="991.8" y="701.9" width="33.7" height="11.0" fill="#000" opacity="0.27" filter="url(#bl1)"/>
<rect x="1038.9" y="703.7" width="33.7" height="10.3" fill="#000" opacity="0.22" filter="url(#bl1)"/>
<rect x="1087.0" y="702.3" width="33.7" height="11.7" fill="#000" opacity="0.27" filter="url(#bl1)"/>
<rect x="1134.4" y="700.9" width="33.7" height="11.7" fill="#000" opacity="0.27" filter="url(#bl1)"/>
<rect x="707.1" y="715.3" width="32.3" height="7.6" fill="#000" opacity="0.5" filter="url(#bl1)"/>
<rect x="753.5" y="709.2" width="32.3" height="4.8" fill="#000" opacity="0.18" filter="url(#bl1)"/>
<rect x="799.9" y="710.9" width="32.3" height="8.3" fill="#000" opacity="0.6" filter="url(#bl1)"/>
<rect x="846.3" y="711.9" width="32.3" height="6.2" fill="#000" opacity="0.45" filter="url(#bl1)"/>
<rect x="893.8" y="705.4" width="32.3" height="6.9" fill="#000" opacity="0.5" filter="url(#bl1)"/>
<rect x="707.1" y="723.6" width="32.3" height="6.9" fill="#000" opacity="0.3" filter="url(#bl1)"/>
<rect x="753.5" y="723.9" width="32.3" height="6.2" fill="#000" opacity="0.2" filter="url(#bl1)"/>
<rect x="846.3" y="723.9" width="32.3" height="6.2" fill="#000" opacity="0.22" filter="url(#bl1)"/>
<rect x="893.8" y="721.5" width="32.3" height="8.9" fill="#000" opacity="0.3" filter="url(#bl1)"/>
<rect x="941.9" y="720.2" width="32.3" height="10.3" fill="#000" opacity="0.2" filter="url(#bl1)"/>
<rect x="799.9" y="724.6" width="32.3" height="4.8" fill="#000" opacity="0.15" filter="url(#bl1)"/>
</g>
<rect x="683.1" y="676.2" width="510.1" height="56.0" fill="none" stroke="#333" stroke-width="1.3"/>
<g clip-path="url(#cb2)">
<rect x="683.1" y="739.8" width="511.8" height="61.1" filter="url(#noise)"/>
<rect x="945.0" y="766.6" width="34.4" height="10.3" fill="#000" opacity="0.2" filter="url(#bl4)"/>
<rect x="993.1" y="766.9" width="30.9" height="9.6" fill="#000" opacity="0.16" filter="url(#bl4)"/>
<rect x="1037.8" y="763.5" width="34.4" height="9.6" fill="#000" opacity="0.27" filter="url(#bl4)"/>
<rect x="1082.5" y="759.7" width="34.4" height="10.3" fill="#000" opacity="0.3" filter="url(#bl4)"/>
<rect x="1132.4" y="763.8" width="27.5" height="8.9" fill="#000" opacity="0.06" filter="url(#bl4)"/>
<rect x="903.8" y="767.3" width="27.5" height="8.9" fill="#000" opacity="0.07" filter="url(#bl4)"/>
<rect x="759.4" y="763.1" width="27.5" height="6.9" fill="#000" opacity="0.04" filter="url(#bl4)"/>
<rect x="807.5" y="765.9" width="27.5" height="6.9" fill="#000" opacity="0.04" filter="url(#bl4)"/>
<circle cx="731.2" cy="748.0" r="0.9" fill="#222" stroke="none" stroke-width="1"/>
<circle cx="1107.6" cy="744.6" r="0.7" fill="#333" stroke="none" stroke-width="1"/>
<circle cx="1165.0" cy="798.2" r="0.7" fill="#555" stroke="none" stroke-width="1"/>
<circle cx="737.7" cy="758.0" r="0.6" fill="#777" stroke="none" stroke-width="1"/>
</g>
<rect x="683.1" y="739.8" width="511.8" height="61.1" fill="none" stroke="#333" stroke-width="1.3"/>
<g clip-path="url(#cb3)">
<rect x="683.1" y="809.9" width="510.1" height="54.6" fill="#fdfdfd" stroke="none" stroke-width="1.2"/>
<ellipse cx="731.9" cy="837.4" rx="19.3" ry="3.4" fill="#000" opacity="0.35" filter="url(#bl3)"/>
<rect x="714.7" y="834.8" width="34.4" height="5.2" rx="2.5" fill="#000" opacity="0.93" filter="url(#bl3)"/>
<ellipse cx="777.3" cy="838.1" rx="19.3" ry="3.4" fill="#000" opacity="0.35" filter="url(#bl3)"/>
<rect x="760.1" y="835.5" width="34.4" height="5.2" rx="2.5" fill="#000" opacity="0.93" filter="url(#bl3)"/>
<ellipse cx="820.2" cy="837.0" rx="19.3" ry="3.4" fill="#000" opacity="0.35" filter="url(#bl3)"/>
<rect x="803.0" y="834.5" width="34.4" height="5.2" rx="2.5" fill="#000" opacity="0.93" filter="url(#bl3)"/>
<ellipse cx="863.5" cy="835.3" rx="19.3" ry="3.4" fill="#000" opacity="0.35" filter="url(#bl3)"/>
<rect x="846.3" y="832.7" width="34.4" height="5.2" rx="2.5" fill="#000" opacity="0.93" filter="url(#bl3)"/>
<ellipse cx="909.9" cy="835.3" rx="19.3" ry="3.4" fill="#000" opacity="0.35" filter="url(#bl3)"/>
<rect x="892.8" y="832.7" width="34.4" height="5.2" rx="2.5" fill="#000" opacity="0.93" filter="url(#bl3)"/>
<ellipse cx="958.1" cy="834.3" rx="19.3" ry="3.4" fill="#000" opacity="0.35" filter="url(#bl3)"/>
<rect x="940.9" y="831.7" width="34.4" height="5.2" rx="2.5" fill="#000" opacity="0.93" filter="url(#bl3)"/>
<ellipse cx="1005.2" cy="833.9" rx="19.3" ry="3.4" fill="#000" opacity="0.35" filter="url(#bl3)"/>
<rect x="988.0" y="831.4" width="34.4" height="5.2" rx="2.5" fill="#000" opacity="0.93" filter="url(#bl3)"/>
<ellipse cx="1052.3" cy="835.0" rx="19.3" ry="3.4" fill="#000" opacity="0.35" filter="url(#bl3)"/>
<rect x="1035.1" y="832.4" width="34.4" height="5.2" rx="2.5" fill="#000" opacity="0.93" filter="url(#bl3)"/>
<ellipse cx="1098.0" cy="835.3" rx="19.3" ry="3.4" fill="#000" opacity="0.35" filter="url(#bl3)"/>
<rect x="1080.8" y="832.7" width="34.4" height="5.2" rx="2.5" fill="#000" opacity="0.93" filter="url(#bl3)"/>
<ellipse cx="1146.1" cy="836.3" rx="19.3" ry="3.4" fill="#000" opacity="0.35" filter="url(#bl3)"/>
<rect x="1128.9" y="833.8" width="34.4" height="5.2" rx="2.5" fill="#000" opacity="0.93" filter="url(#bl3)"/>
</g>
<rect x="683.1" y="809.9" width="510.1" height="54.6" fill="none" stroke="#333" stroke-width="1.3"/>
<text x="670.5" y="714.5" font-size="23" text-anchor="end" textLength="48.0" lengthAdjust="spacingAndGlyphs">TfR1</text>
<text x="670.5" y="777.5" font-size="23" text-anchor="end" textLength="55.0" lengthAdjust="spacingAndGlyphs">FPN1</text>
<text x="670.5" y="843.0" font-size="23" text-anchor="end" textLength="72.0" lengthAdjust="spacingAndGlyphs">ACTIN</text>
<line x1="1184.4" y1="706.0" x2="1205.5" y2="706.0" stroke="#333" stroke-width="1.2"/>
<text x="1216.5" y="712.2" font-size="20" textLength="34.4" lengthAdjust="spacingAndGlyphs">100</text>
<line x1="1184.4" y1="766.9" x2="1205.5" y2="766.9" stroke="#333" stroke-width="1.2"/>
<text x="1216.5" y="773.1" font-size="20" textLength="24.8" lengthAdjust="spacingAndGlyphs">62</text>
<line x1="1184.4" y1="837.0" x2="1205.5" y2="837.0" stroke="#333" stroke-width="1.2"/>
<text x="1216.5" y="843.2" font-size="20" textLength="24.8" lengthAdjust="spacingAndGlyphs">42</text>
<text x="1182.6" y="890.0" font-size="23" textLength="108.5" lengthAdjust="spacingAndGlyphs">MW (kDa)</text>
</g>
<g id="panel-f">
<text x="1339.0" y="625.0" font-size="38" font-weight="bold" textLength="15.5" lengthAdjust="spacingAndGlyphs" stroke="#161616" stroke-width="1.8">f</text>
<text x="1443.7" y="639.0" font-size="23.5" textLength="85.6" lengthAdjust="spacingAndGlyphs">Iron (Fe</text>
<text x="1531.3" y="625.7" font-size="16" textLength="15.8" lengthAdjust="spacingAndGlyphs">2+</text>
<text x="1548.8" y="639.0" font-size="23.5" textLength="7.0" lengthAdjust="spacingAndGlyphs">)</text>
<line x1="1430.5" y1="654.0" x2="1430.5" y2="860.3" stroke="#222" stroke-width="1.2"/>
<line x1="1423.5" y1="860.3" x2="1568.0" y2="860.3" stroke="#222" stroke-width="1.2"/>
<line x1="1423.5" y1="654.0" x2="1430.5" y2="654.0" stroke="#222" stroke-width="1.2"/>
<text x="1411.5" y="660.2" font-size="20" text-anchor="end" textLength="30.4" lengthAdjust="spacingAndGlyphs">2.0</text>
<line x1="1423.5" y1="705.8" x2="1430.5" y2="705.8" stroke="#222" stroke-width="1.2"/>
<text x="1411.5" y="712.0" font-size="20" text-anchor="end" textLength="27.6" lengthAdjust="spacingAndGlyphs">1.5</text>
<line x1="1423.5" y1="757.5" x2="1430.5" y2="757.5" stroke="#222" stroke-width="1.2"/>
<text x="1411.5" y="763.7" font-size="20" text-anchor="end" textLength="27.6" lengthAdjust="spacingAndGlyphs">1.0</text>
<line x1="1423.5" y1="809.0" x2="1430.5" y2="809.0" stroke="#222" stroke-width="1.2"/>
<text x="1411.5" y="815.2" font-size="20" text-anchor="end" textLength="30.4" lengthAdjust="spacingAndGlyphs">0.5</text>
<line x1="1423.5" y1="860.3" x2="1430.5" y2="860.3" stroke="#222" stroke-width="1.2"/>
<text x="1411.5" y="866.5" font-size="20" text-anchor="end" textLength="12.4" lengthAdjust="spacingAndGlyphs">0</text>
<rect x="1451.6" y="771.9" width="36.5" height="88.4" fill="#a5d40c" stroke="#333" stroke-width="1"/>
<rect x="1510.2" y="831.7" width="36.6" height="28.6" fill="#14703a" stroke="#333" stroke-width="1"/>
<line x1="1469.8" y1="757.5" x2="1469.8" y2="783.6" stroke="#222" stroke-width="1.1"/>
<line x1="1460.3" y1="757.5" x2="1479.3" y2="757.5" stroke="#222" stroke-width="1.1"/>
<line x1="1460.3" y1="783.6" x2="1479.3" y2="783.6" stroke="#222" stroke-width="1.1"/>
<circle cx="1469.8" cy="757.0" r="3" fill="#111" stroke="none" stroke-width="1"/>
<circle cx="1469.8" cy="771.1" r="3" fill="#111" stroke="none" stroke-width="1"/>
<circle cx="1469.8" cy="783.6" r="3" fill="#111" stroke="none" stroke-width="1"/>
<line x1="1528.5" y1="825.9" x2="1528.5" y2="835.0" stroke="#222" stroke-width="1.1"/>
<line x1="1519.0" y1="825.9" x2="1538.0" y2="825.9" stroke="#222" stroke-width="1.1"/>
<line x1="1519.0" y1="835.0" x2="1538.0" y2="835.0" stroke="#222" stroke-width="1.1"/>
<circle cx="1528.5" cy="825.1" r="3" fill="#111" stroke="none" stroke-width="1"/>
<circle cx="1521.8" cy="833.4" r="3" fill="#111" stroke="none" stroke-width="1"/>
<circle cx="1534.6" cy="833.4" r="3" fill="#111" stroke="none" stroke-width="1"/>
<line x1="1469.5" y1="743.7" x2="1532.3" y2="743.7" stroke="#333" stroke-width="1.2"/>
<text x="1462.5" y="737.5" font-size="16.5" font-style="italic" textLength="9.0" lengthAdjust="spacingAndGlyphs">P</text>
<text x="1476.0" y="737.5" font-size="16.5" textLength="63.3" lengthAdjust="spacingAndGlyphs">= 0.009</text>
<text x="1358.8" y="756.0" font-size="23.5" text-anchor="middle" textLength="232.5" lengthAdjust="spacingAndGlyphs" transform="rotate(-90 1358.8 756.0)">Relative absorbance</text>
<text x="1471.5" y="879.5" font-size="24" text-anchor="end" textLength="75.0" lengthAdjust="spacingAndGlyphs" transform="rotate(-45 1471.5 879.5)">Young</text>
<text x="1530.5" y="880.5" font-size="24" text-anchor="end" textLength="61.0" lengthAdjust="spacingAndGlyphs" transform="rotate(-45 1530.5 880.5)">Aged</text>
</g>
<g id="panel-g">
<text x="3.0" y="1024.5" font-size="38" font-weight="bold" textLength="23.8" lengthAdjust="spacingAndGlyphs" stroke="#161616" stroke-width="1.8">g</text>
<text x="240.2" y="1053.9" font-size="23.5" text-anchor="middle" textLength="71.4" lengthAdjust="spacingAndGlyphs">Young</text>
<text x="629.1" y="1053.9" font-size="23.5" text-anchor="middle" textLength="60.0" lengthAdjust="spacingAndGlyphs">Aged</text>
<path d="M235.5 1075.7C242.9 1075.7 249.4 1076.2 257.7 1077.5C266.0 1078.9 276.1 1081.1 285.4 1084.0C294.6 1086.9 303.8 1090.8 313.1 1095.1C322.3 1099.4 333.1 1104.6 340.8 1109.8C348.4 1115.1 354.9 1120.3 359.2 1126.5C363.5 1132.6 365.2 1139.4 366.6 1146.8C368.0 1154.1 367.2 1163.1 367.5 1170.8C367.8 1178.5 367.7 1186.1 368.4 1192.9C369.2 1199.7 370.3 1205.2 372.1 1211.4C374.0 1217.5 377.5 1222.8 379.5 1229.8C381.5 1236.9 383.2 1245.2 384.1 1253.8C385.1 1262.4 385.2 1272.3 385.1 1281.5C384.9 1290.8 384.4 1300.0 383.2 1309.2C382.0 1318.4 380.1 1327.7 377.7 1336.9C375.2 1346.1 372.1 1356.0 368.4 1364.6C364.8 1373.2 360.8 1381.2 355.5 1388.6C350.3 1396.0 344.1 1403.4 337.1 1408.9C330.0 1414.4 321.7 1418.6 313.1 1421.8C304.4 1425.1 294.6 1426.9 285.4 1428.3C276.1 1429.7 266.9 1430.1 257.7 1430.1C248.5 1430.1 238.6 1430.0 230.0 1428.3C221.4 1426.6 213.1 1423.8 206.0 1420.0C198.9 1416.1 193.7 1411.4 187.5 1405.2C181.4 1399.1 175.2 1392.0 169.1 1383.1C162.9 1374.1 156.2 1362.4 150.6 1351.7C145.1 1340.9 139.4 1330.1 135.8 1318.4C132.3 1306.8 130.7 1292.3 129.6 1281.5C128.5 1270.8 128.8 1263.1 129.2 1253.8C129.6 1244.6 130.8 1235.4 132.2 1226.1C133.5 1216.9 135.4 1207.7 137.3 1198.5C139.2 1189.2 141.2 1180.0 143.4 1170.8C145.7 1161.5 148.1 1151.7 150.8 1143.1C153.5 1134.5 156.1 1126.9 159.5 1119.1C162.9 1111.2 166.0 1102.0 171.3 1096.0C176.6 1090.0 184.2 1086.3 191.2 1083.3C198.2 1080.2 206.0 1079.0 213.4 1077.7C220.8 1076.5 228.1 1075.7 235.5 1075.7Z" fill="#fef0dc" stroke="#0a0a0a" stroke-width="2.3"/>
<circle cx="95.1" cy="1112.7" r="6.1" fill="#6b089e" stroke="none" stroke-width="1"/>
<circle cx="123.1" cy="1112.3" r="6.1" fill="#6b089e" stroke="none" stroke-width="1"/>
<circle cx="103.4" cy="1131.6" r="6.1" fill="#6b089e" stroke="none" stroke-width="1"/>
<circle cx="56.3" cy="1142.5" r="6.1" fill="#6b089e" stroke="none" stroke-width="1"/>
<circle cx="82.0" cy="1149.8" r="6.1" fill="#6b089e" stroke="none" stroke-width="1"/>
<circle cx="106.1" cy="1149.2" r="6.1" fill="#6b089e" stroke="none" stroke-width="1"/>
<circle cx="65.7" cy="1168.3" r="6.1" fill="#6b089e" stroke="none" stroke-width="1"/>
<circle cx="88.1" cy="1175.6" r="6.1" fill="#6b089e" stroke="none" stroke-width="1"/>
<circle cx="114.7" cy="1172.7" r="6.1" fill="#6b089e" stroke="none" stroke-width="1"/>
<circle cx="191.7" cy="1164.2" r="6.1" fill="#6b089e" stroke="none" stroke-width="1"/>
<circle cx="180.8" cy="1199.5" r="6.1" fill="#6b089e" stroke="none" stroke-width="1"/>
<circle cx="210.0" cy="1209.3" r="6.1" fill="#6b089e" stroke="none" stroke-width="1"/>
<circle cx="183.6" cy="1227.7" r="6.1" fill="#6b089e" stroke="none" stroke-width="1"/>
<circle cx="292.6" cy="1208.7" r="6.1" fill="#6b089e" stroke="none" stroke-width="1"/>
<g transform="translate(152.3 1135.8) rotate(21)"><rect x="-13.8" y="-5.1" width="27.5" height="4.6" rx="1" fill="#1b9fd6" stroke="#1d3a4a" stroke-width="0.6"/><rect x="-13.8" y="0.5" width="27.5" height="4.6" rx="1" fill="#1b9fd6" stroke="#1d3a4a" stroke-width="0.6"/></g>
<g transform="translate(145.9 1155.9) rotate(19)"><rect x="-13.8" y="-5.1" width="27.5" height="4.6" rx="1" fill="#1b9fd6" stroke="#1d3a4a" stroke-width="0.6"/><rect x="-13.8" y="0.5" width="27.5" height="4.6" rx="1" fill="#1b9fd6" stroke="#1d3a4a" stroke-width="0.6"/></g>
<g transform="translate(137.8 1190.6) rotate(19)"><rect x="-13.8" y="-5.1" width="27.5" height="4.6" rx="1" fill="#1b9fd6" stroke="#1d3a4a" stroke-width="0.6"/><rect x="-13.8" y="0.5" width="27.5" height="4.6" rx="1" fill="#1b9fd6" stroke="#1d3a4a" stroke-width="0.6"/></g>
<line x1="127.2" y1="1126.5" x2="171.3" y2="1143.4" stroke="#6d6e71" stroke-width="1.1"/>
<path d="M176.9 1145.6L167.4 1145.2L171.0 1143.3L169.6 1139.6Z" fill="#6d6e71"/>
<line x1="122.1" y1="1148.2" x2="166.7" y2="1162.8" stroke="#6d6e71" stroke-width="1.1"/>
<path d="M172.4 1164.7L162.9 1164.7L166.4 1162.7L164.8 1159.0Z" fill="#6d6e71"/>
<line x1="127.2" y1="1168.9" x2="171.2" y2="1183.6" stroke="#6d6e71" stroke-width="1.1"/>
<path d="M176.9 1185.5L167.4 1185.5L170.9 1183.5L169.3 1179.8Z" fill="#6d6e71"/>
<line x1="117.0" y1="1183.6" x2="161.0" y2="1198.2" stroke="#6d6e71" stroke-width="1.1"/>
<path d="M166.7 1200.1L157.2 1200.1L160.7 1198.1L159.1 1194.4Z" fill="#6d6e71"/>
<circle cx="277.4" cy="1220.3" r="42.3" fill="none" stroke="#0a0a0a" stroke-width="2.4"/>
<path d="M269.5 1250.8L269.5 1270.5L272.1 1273.6L280.1 1273.6L282.7 1270.5L282.7 1250.8Q276.1 1253.5 269.5 1250.8Z" fill="#8e8e8e" stroke="#444" stroke-width="0.8"/>
<line x1="274.9" y1="1252.5" x2="274.9" y2="1273.0" stroke="#666" stroke-width="0.7"/>
<line x1="277.3" y1="1252.5" x2="277.3" y2="1273.0" stroke="#666" stroke-width="0.7"/>
<line x1="276.1" y1="1239.3" x2="276.1" y2="1276.6" stroke="#6d6e71" stroke-width="1.1"/>
<path d="M276.1 1282.6L273.1 1273.6L276.1 1276.3L279.1 1273.6Z" fill="#6d6e71"/>
<g transform="translate(264.9 1199.6) rotate(21)"><rect x="-14.0" y="-5.1" width="28.0" height="4.6" rx="1" fill="#1b9fd6" stroke="#1d3a4a" stroke-width="0.6"/><rect x="-14.0" y="0.5" width="28.0" height="4.6" rx="1" fill="#1b9fd6" stroke="#1d3a4a" stroke-width="0.6"/></g>
<g transform="translate(257.5 1220.8) rotate(-14)"><rect x="-14.0" y="-5.1" width="28.0" height="4.6" rx="1" fill="#1b9fd6" stroke="#1d3a4a" stroke-width="0.6"/><rect x="-14.0" y="0.5" width="28.0" height="4.6" rx="1" fill="#1b9fd6" stroke="#1d3a4a" stroke-width="0.6"/></g>
<circle cx="283.8" cy="1234.2" r="6.1" fill="#df2a1c" stroke="none" stroke-width="1"/>
<path d="M302.7 1216.5C307.5 1222 307 1228.5 303 1231.2" fill="none" stroke="#0a0a0a" stroke-width="1.7"/>
<path d="M294.3 1231.2L305.5 1225.6L303.2 1230.4L306.3 1235.2Z" fill="#0a0a0a"/>
<circle cx="259.9" cy="1287.8" r="6.1" fill="#df2a1c" stroke="none" stroke-width="1"/>
<circle cx="275.7" cy="1291.6" r="6.1" fill="#df2a1c" stroke="none" stroke-width="1"/>
<circle cx="291.5" cy="1286.6" r="6.1" fill="#df2a1c" stroke="none" stroke-width="1"/>
<circle cx="264.2" cy="1305.0" r="6.1" fill="#df2a1c" stroke="none" stroke-width="1"/>
<circle cx="281.2" cy="1304.6" r="6.1" fill="#df2a1c" stroke="none" stroke-width="1"/>
<circle cx="300.5" cy="1302.1" r="6.1" fill="#df2a1c" stroke="none" stroke-width="1"/>
<circle cx="294.5" cy="1319.1" r="6.1" fill="#df2a1c" stroke="none" stroke-width="1"/>
<circle cx="313.0" cy="1325.6" r="6.1" fill="#df2a1c" stroke="none" stroke-width="1"/>
<circle cx="329.3" cy="1312.4" r="6.1" fill="#df2a1c" stroke="none" stroke-width="1"/>
<circle cx="332.8" cy="1337.6" r="6.1" fill="#df2a1c" stroke="none" stroke-width="1"/>
<circle cx="313.5" cy="1351.0" r="6.1" fill="#df2a1c" stroke="none" stroke-width="1"/>
<circle cx="200.1" cy="1341.9" r="6.1" fill="#df2a1c" stroke="none" stroke-width="1"/>
<line x1="247.4" y1="1301.2" x2="230.3" y2="1310.0" stroke="#6d6e71" stroke-width="1.1"/>
<path d="M225.0 1312.7L231.6 1305.9L230.6 1309.8L234.4 1311.3Z" fill="#6d6e71"/>
<path d="M158.4 1328.2C158.8 1326.6 163.5 1326.3 166.9 1326.5C170.4 1326.6 175.3 1327.9 179.0 1329.0C182.7 1330.2 187.1 1331.9 189.3 1333.3C191.5 1334.8 191.6 1335.9 192.2 1337.6C192.9 1339.3 192.3 1341.8 193.2 1343.6C194.2 1345.5 196.2 1347.9 197.9 1348.8C199.5 1349.7 201.5 1349.7 203.0 1349.3C204.6 1348.9 205.9 1347.2 207.0 1346.2C208.0 1345.3 208.7 1343.2 209.4 1343.6C210.1 1344.1 210.9 1346.4 211.1 1348.8C211.3 1351.2 211.3 1355.7 210.4 1358.3C209.5 1360.8 208.1 1362.7 205.6 1364.3C203.1 1365.8 199.3 1367.0 195.3 1367.7C191.3 1368.4 185.7 1368.9 181.6 1368.6C177.4 1368.2 172.6 1366.8 170.4 1365.5C168.2 1364.2 168.1 1362.9 168.2 1360.8C168.2 1358.8 170.6 1355.7 170.9 1353.1C171.2 1350.5 171.0 1348.2 169.9 1345.4C168.8 1342.5 166.3 1338.8 164.4 1335.9C162.5 1333.0 157.9 1329.8 158.4 1328.2Z" fill="#2cb3a8" stroke="#1a1a1a" stroke-width="1.1"/>
<circle cx="200.1" cy="1341.9" r="6.1" fill="#df2a1c" stroke="none" stroke-width="1"/>
<text x="148.0" y="1301.5" font-size="16" textLength="61.0" lengthAdjust="spacingAndGlyphs">Enzyme</text>
<text x="148.0" y="1322.2" font-size="16" textLength="65.6" lengthAdjust="spacingAndGlyphs">cofactor</text>
<text x="268.9" y="1337.6" font-size="16" textLength="22.7" lengthAdjust="spacingAndGlyphs">LIP</text>
<text x="267.8" y="1158.6" font-size="16" textLength="82.4" lengthAdjust="spacingAndGlyphs" transform="rotate(23.4 267.8 1158.6)">Endosome</text>
<path d="M-22.5 -10C-10 -9 4 -9.3 11 -9.3C19 -9.3 22.5 -4 22.5 0C22.5 4 19 9.6 11 9.6L-23 9.6C-18 7.5 -14 4.5 -13.5 0C-14 -4.5 -18 -7.5 -22.5 -10Z" transform="translate(364.0 1365.5) rotate(17) scale(0.98)" fill="#fde2b8" stroke="#d9d2c4" stroke-width="0.8" opacity="0.9"/>
<line x1="334.2" y1="1358.3" x2="387.2" y2="1374.5" stroke="#6d6e71" stroke-width="1.1"/>
<path d="M392.9 1376.3L383.4 1376.5L386.9 1374.5L385.2 1370.8Z" fill="#6d6e71"/>
<circle cx="424.4" cy="1378.8" r="6.1" fill="#f2aaa6" stroke="none" stroke-width="1"/>
<circle cx="405.4" cy="1395.0" r="6.1" fill="#f2aaa6" stroke="none" stroke-width="1"/>
<path d="M604.1 1075.7C611.5 1075.7 618.0 1076.2 626.3 1077.5C634.6 1078.9 644.7 1081.1 654.0 1084.0C663.2 1086.9 672.4 1090.8 681.7 1095.1C690.9 1099.4 701.7 1104.6 709.4 1109.8C717.0 1115.1 723.5 1120.3 727.8 1126.5C732.1 1132.6 733.8 1139.4 735.2 1146.8C736.6 1154.1 735.8 1163.1 736.1 1170.8C736.4 1178.5 736.3 1186.1 737.0 1192.9C737.8 1199.7 738.9 1205.2 740.7 1211.4C742.6 1217.5 746.1 1222.8 748.1 1229.8C750.1 1236.9 751.8 1245.2 752.7 1253.8C753.7 1262.4 753.8 1272.3 753.7 1281.5C753.5 1290.8 753.0 1300.0 751.8 1309.2C750.6 1318.4 748.7 1327.7 746.3 1336.9C743.8 1346.1 740.7 1356.0 737.0 1364.6C733.4 1373.2 729.4 1381.2 724.1 1388.6C718.9 1396.0 712.7 1403.4 705.7 1408.9C698.6 1414.4 690.3 1418.6 681.7 1421.8C673.0 1425.1 663.2 1426.9 654.0 1428.3C644.7 1429.7 635.5 1430.1 626.3 1430.1C617.1 1430.1 607.2 1430.0 598.6 1428.3C590.0 1426.6 581.7 1423.8 574.6 1420.0C567.5 1416.1 562.3 1411.4 556.1 1405.2C550.0 1399.1 543.8 1392.0 537.7 1383.1C531.5 1374.1 524.8 1362.4 519.2 1351.7C513.7 1340.9 508.0 1330.1 504.4 1318.4C500.9 1306.8 499.3 1292.3 498.2 1281.5C497.1 1270.8 497.4 1263.1 497.8 1253.8C498.2 1244.6 499.4 1235.4 500.8 1226.1C502.1 1216.9 504.0 1207.7 505.9 1198.5C507.8 1189.2 509.8 1180.0 512.0 1170.8C514.3 1161.5 516.7 1151.7 519.4 1143.1C522.1 1134.5 524.7 1126.9 528.1 1119.1C531.5 1111.2 534.6 1102.0 539.9 1096.0C545.2 1090.0 552.8 1086.3 559.8 1083.3C566.8 1080.2 574.6 1079.0 582.0 1077.7C589.4 1076.5 596.7 1075.7 604.1 1075.7Z" fill="#fef0dc" stroke="#0a0a0a" stroke-width="2.3"/>
<circle cx="463.8" cy="1112.4" r="6.1" fill="#6b089e" stroke="none" stroke-width="1"/>
<circle cx="491.7" cy="1111.8" r="6.1" fill="#6b089e" stroke="none" stroke-width="1"/>
<circle cx="471.7" cy="1131.4" r="6.1" fill="#6b089e" stroke="none" stroke-width="1"/>
<circle cx="424.6" cy="1142.6" r="6.1" fill="#6b089e" stroke="none" stroke-width="1"/>
<circle cx="450.4" cy="1149.9" r="6.1" fill="#6b089e" stroke="none" stroke-width="1"/>
<circle cx="474.4" cy="1149.0" r="6.1" fill="#6b089e" stroke="none" stroke-width="1"/>
<circle cx="434.0" cy="1168.0" r="6.1" fill="#6b089e" stroke="none" stroke-width="1"/>
<circle cx="456.8" cy="1175.4" r="6.1" fill="#6b089e" stroke="none" stroke-width="1"/>
<circle cx="483.2" cy="1172.7" r="6.1" fill="#6b089e" stroke="none" stroke-width="1"/>
<circle cx="549.3" cy="1199.7" r="6.1" fill="#6b089e" stroke="none" stroke-width="1"/>
<circle cx="578.3" cy="1209.0" r="6.1" fill="#6b089e" stroke="none" stroke-width="1"/>
<circle cx="660.3" cy="1207.0" r="6.1" fill="#6b089e" stroke="none" stroke-width="1"/>
<g transform="translate(512.2 1173.6) rotate(19)"><rect x="-13.8" y="-5.1" width="27.5" height="4.6" rx="1" fill="#1b9fd6" stroke="#1d3a4a" stroke-width="0.6"/><rect x="-13.8" y="0.5" width="27.5" height="4.6" rx="1" fill="#1b9fd6" stroke="#1d3a4a" stroke-width="0.6"/></g>
<line x1="492.2" y1="1166.6" x2="536.3" y2="1181.4" stroke="#6d6e71" stroke-width="1.1"/>
<path d="M542.0 1183.3L532.5 1183.2L536.0 1181.3L534.4 1177.6Z" fill="#6d6e71"/>
<circle cx="646.0" cy="1220.3" r="42.3" fill="none" stroke="#0a0a0a" stroke-width="2.4"/>
<path d="M638.1 1250.8L638.1 1270.5L640.7 1273.6L648.7 1273.6L651.3 1270.5L651.3 1250.8Q644.7 1253.5 638.1 1250.8Z" fill="#8e8e8e" stroke="#444" stroke-width="0.8"/>
<line x1="643.5" y1="1252.5" x2="643.5" y2="1273.0" stroke="#666" stroke-width="0.7"/>
<line x1="645.9" y1="1252.5" x2="645.9" y2="1273.0" stroke="#666" stroke-width="0.7"/>
<line x1="644.7" y1="1239.3" x2="644.7" y2="1276.6" stroke="#6d6e71" stroke-width="1.1"/>
<path d="M644.7 1282.6L641.7 1273.6L644.7 1276.3L647.7 1273.6Z" fill="#6d6e71"/>
<g transform="translate(625.5 1219.0) rotate(-12)"><rect x="-14.0" y="-5.1" width="28.0" height="4.6" rx="1" fill="#1b9fd6" stroke="#1d3a4a" stroke-width="0.6"/><rect x="-14.0" y="0.5" width="28.0" height="4.6" rx="1" fill="#1b9fd6" stroke="#1d3a4a" stroke-width="0.6"/></g>
<circle cx="651.2" cy="1232.5" r="6.1" fill="#df2a1c" stroke="none" stroke-width="1"/>
<path d="M670.5 1215C675 1220 674.5 1227 669.5 1229.8" fill="none" stroke="#3b4a6b" stroke-width="1.5"/>
<path d="M662 1230.3L671.5 1225.6L669.8 1230L672.5 1234.3Z" fill="#3b4a6b"/>
<circle cx="663.3" cy="1308.0" r="6.1" fill="#df2a1c" stroke="none" stroke-width="1"/>
<circle cx="685.5" cy="1323.5" r="6.1" fill="#df2a1c" stroke="none" stroke-width="1"/>
<line x1="616.1" y1="1301.3" x2="599.2" y2="1310.0" stroke="#6d6e71" stroke-width="1.1"/>
<path d="M593.9 1312.7L600.5 1305.9L599.5 1309.8L603.2 1311.3Z" fill="#6d6e71"/>
<path d="M526.7 1328.2C527.1 1326.6 531.8 1326.3 535.2 1326.5C538.7 1326.6 543.6 1327.9 547.3 1329.0C551.0 1330.2 555.4 1331.9 557.6 1333.3C559.8 1334.8 559.9 1335.9 560.5 1337.6C561.2 1339.3 560.6 1341.8 561.5 1343.6C562.5 1345.5 564.5 1347.9 566.2 1348.8C567.8 1349.7 569.8 1349.7 571.3 1349.3C572.9 1348.9 574.2 1347.2 575.3 1346.2C576.3 1345.3 577.0 1343.2 577.7 1343.6C578.4 1344.1 579.2 1346.4 579.4 1348.8C579.6 1351.2 579.6 1355.7 578.7 1358.3C577.8 1360.8 576.4 1362.7 573.9 1364.3C571.4 1365.8 567.6 1367.0 563.6 1367.7C559.6 1368.4 554.0 1368.9 549.9 1368.6C545.7 1368.2 540.9 1366.8 538.7 1365.5C536.5 1364.2 536.4 1362.9 536.5 1360.8C536.5 1358.8 538.9 1355.7 539.2 1353.1C539.5 1350.5 539.3 1348.2 538.2 1345.4C537.1 1342.5 534.6 1338.8 532.7 1335.9C530.8 1333.0 526.2 1329.8 526.7 1328.2Z" fill="#2cb3a8" stroke="#1a1a1a" stroke-width="1.1"/>
<circle cx="568.4" cy="1342.0" r="6.1" fill="#f9dcc6" stroke="none" stroke-width="1"/>
<text x="516.5" y="1301.9" font-size="16" textLength="61.0" lengthAdjust="spacingAndGlyphs">Enzyme</text>
<text x="516.5" y="1322.4" font-size="16" textLength="65.6" lengthAdjust="spacingAndGlyphs">cofactor</text>
<text x="637.2" y="1337.6" font-size="16" textLength="22.7" lengthAdjust="spacingAndGlyphs">LIP</text>
<text x="628.4" y="1156.2" font-size="16" textLength="82.4" lengthAdjust="spacingAndGlyphs" transform="rotate(23.4 628.4 1156.2)">Endosome</text>
<path d="M-22.5 -10C-10 -9 4 -9.3 11 -9.3C19 -9.3 22.5 -4 22.5 0C22.5 4 19 9.6 11 9.6L-23 9.6C-18 7.5 -14 4.5 -13.5 0C-14 -4.5 -18 -7.5 -22.5 -10Z" transform="translate(752.1 1303.1) rotate(3) scale(1)" fill="#f5990a" stroke="#3a3a3a" stroke-width="0.8" opacity="1"/>
<path d="M-22.5 -10C-10 -9 4 -9.3 11 -9.3C19 -9.3 22.5 -4 22.5 0C22.5 4 19 9.6 11 9.6L-23 9.6C-18 7.5 -14 4.5 -13.5 0C-14 -4.5 -18 -7.5 -22.5 -10Z" transform="translate(747.0 1348.4) rotate(17) scale(1)" fill="#f5990a" stroke="#3a3a3a" stroke-width="0.8" opacity="1"/>
<path d="M-22.5 -10C-10 -9 4 -9.3 11 -9.3C19 -9.3 22.5 -4 22.5 0C22.5 4 19 9.6 11 9.6L-23 9.6C-18 7.5 -14 4.5 -13.5 0C-14 -4.5 -18 -7.5 -22.5 -10Z" transform="translate(729.7 1391.2) rotate(27) scale(1)" fill="#f5990a" stroke="#3a3a3a" stroke-width="0.8" opacity="1"/>
<line x1="723.1" y1="1302.4" x2="778.2" y2="1305.0" stroke="#6d6e71" stroke-width="1.1"/>
<path d="M784.7 1305.3L775.1 1308.0L777.9 1305.0L775.4 1301.7Z" fill="#6d6e71"/>
<line x1="718.3" y1="1342.5" x2="771.3" y2="1356.2" stroke="#6d6e71" stroke-width="1.1"/>
<path d="M777.6 1357.8L767.6 1358.5L771.0 1356.1L769.2 1352.3Z" fill="#6d6e71"/>
<line x1="704.3" y1="1381.2" x2="754.2" y2="1403.6" stroke="#6d6e71" stroke-width="1.1"/>
<path d="M760.1 1406.3L750.1 1405.3L753.9 1403.5L752.7 1399.5Z" fill="#6d6e71"/>
<circle cx="796.2" cy="1325.2" r="6.1" fill="#df2a1c" stroke="none" stroke-width="1"/>
<circle cx="828.5" cy="1336.2" r="6.1" fill="#df2a1c" stroke="none" stroke-width="1"/>
<circle cx="786.5" cy="1347.6" r="6.1" fill="#df2a1c" stroke="none" stroke-width="1"/>
<circle cx="802.5" cy="1356.4" r="6.1" fill="#df2a1c" stroke="none" stroke-width="1"/>
<circle cx="819.0" cy="1358.6" r="6.1" fill="#df2a1c" stroke="none" stroke-width="1"/>
<circle cx="792.9" cy="1378.8" r="6.1" fill="#df2a1c" stroke="none" stroke-width="1"/>
<circle cx="764.7" cy="1389.7" r="6.1" fill="#df2a1c" stroke="none" stroke-width="1"/>
<circle cx="796.7" cy="1400.6" r="6.1" fill="#df2a1c" stroke="none" stroke-width="1"/>
<circle cx="771.0" cy="1420.7" r="6.1" fill="#df2a1c" stroke="none" stroke-width="1"/>
<circle cx="282.0" cy="1496.2" r="7.5" fill="#6b089e" stroke="none" stroke-width="1"/>
<circle cx="282.4" cy="1540.3" r="7.5" fill="#df2a1c" stroke="none" stroke-width="1"/>
<text x="303.0" y="1503.1" font-size="23.5" textLength="24.0" lengthAdjust="spacingAndGlyphs">Fe</text>
<text x="328.8" y="1491.0" font-size="16" textLength="18.2" lengthAdjust="spacingAndGlyphs">3+</text>
<text x="303.0" y="1547.4" font-size="23.5" textLength="24.0" lengthAdjust="spacingAndGlyphs">Fe</text>
<text x="328.8" y="1535.0" font-size="16" textLength="18.2" lengthAdjust="spacingAndGlyphs">2+</text>
<g transform="translate(400.9 1497.7) rotate(0)"><rect x="-16.7" y="-6.7" width="33.4" height="6.2" rx="1" fill="#1b9fd6" stroke="#1d3a4a" stroke-width="0.6"/><rect x="-16.7" y="0.5" width="33.4" height="6.2" rx="1" fill="#1b9fd6" stroke="#1d3a4a" stroke-width="0.6"/></g>
<text x="440.5" y="1507.3" font-size="23.5" textLength="45.8" lengthAdjust="spacingAndGlyphs">TfR1</text>
<path d="M-22.5 -10C-10 -9 4 -9.3 11 -9.3C19 -9.3 22.5 -4 22.5 0C22.5 4 19 9.6 11 9.6L-23 9.6C-18 7.5 -14 4.5 -13.5 0C-14 -4.5 -18 -7.5 -22.5 -10Z" transform="translate(403 1542) scale(1.2 1.17)" fill="#f5990a" stroke="#3a3a3a" stroke-width="0.7"/>
<text x="441.5" y="1549.3" font-size="23.5" textLength="51.5" lengthAdjust="spacingAndGlyphs">FPN1</text>
</g>
<g id="panel-h">
<text x="852.6" y="1024.7" font-size="38" font-weight="bold" textLength="22.0" lengthAdjust="spacingAndGlyphs" stroke="#161616" stroke-width="1.8">h</text>
<text x="1019.2" y="1025.8" font-size="23.5" textLength="130.1" lengthAdjust="spacingAndGlyphs">TET activity</text>
<line x1="1012.3" y1="1069.4" x2="1012.3" y2="1284.3" stroke="#222" stroke-width="1.2"/>
<line x1="1005.0" y1="1284.3" x2="1156.2" y2="1284.3" stroke="#222" stroke-width="1.2"/>
<line x1="1005.0" y1="1069.4" x2="1012.3" y2="1069.4" stroke="#222" stroke-width="1.2"/>
<text x="993.5" y="1075.6" font-size="20" text-anchor="end" textLength="30.4" lengthAdjust="spacingAndGlyphs">2.0</text>
<line x1="1005.0" y1="1123.2" x2="1012.3" y2="1123.2" stroke="#222" stroke-width="1.2"/>
<text x="993.5" y="1129.4" font-size="20" text-anchor="end" textLength="27.6" lengthAdjust="spacingAndGlyphs">1.5</text>
<line x1="1005.0" y1="1176.8" x2="1012.3" y2="1176.8" stroke="#222" stroke-width="1.2"/>
<text x="993.5" y="1183.0" font-size="20" text-anchor="end" textLength="27.6" lengthAdjust="spacingAndGlyphs">1.0</text>
<line x1="1005.0" y1="1230.7" x2="1012.3" y2="1230.7" stroke="#222" stroke-width="1.2"/>
<text x="993.5" y="1236.9" font-size="20" text-anchor="end" textLength="30.4" lengthAdjust="spacingAndGlyphs">0.5</text>
<line x1="1005.0" y1="1284.3" x2="1012.3" y2="1284.3" stroke="#222" stroke-width="1.2"/>
<text x="993.5" y="1290.5" font-size="20" text-anchor="end" textLength="12.4" lengthAdjust="spacingAndGlyphs">0</text>
<rect x="1034.8" y="1147.3" width="37.8" height="137.0" fill="#a5d40c" stroke="#333" stroke-width="1"/>
<rect x="1096.2" y="1236.2" width="37.8" height="48.1" fill="#14703a" stroke="#333" stroke-width="1"/>
<line x1="1053.8" y1="1102.6" x2="1053.8" y2="1189.2" stroke="#222" stroke-width="1.1"/>
<line x1="1043.8" y1="1102.6" x2="1063.8" y2="1102.6" stroke="#222" stroke-width="1.1"/>
<line x1="1043.8" y1="1189.2" x2="1063.8" y2="1189.2" stroke="#222" stroke-width="1.1"/>
<circle cx="1053.8" cy="1085.9" r="3" fill="#111" stroke="none" stroke-width="1"/>
<circle cx="1053.8" cy="1119.1" r="3" fill="#111" stroke="none" stroke-width="1"/>
<circle cx="1053.8" cy="1156.9" r="3" fill="#111" stroke="none" stroke-width="1"/>
<circle cx="1053.8" cy="1177.1" r="3" fill="#111" stroke="none" stroke-width="1"/>
<circle cx="1053.8" cy="1191.3" r="3" fill="#111" stroke="none" stroke-width="1"/>
<line x1="1115.0" y1="1205.5" x2="1115.0" y2="1264.6" stroke="#222" stroke-width="1.1"/>
<line x1="1105.0" y1="1205.5" x2="1125.0" y2="1205.5" stroke="#222" stroke-width="1.1"/>
<line x1="1105.0" y1="1264.6" x2="1125.0" y2="1264.6" stroke="#222" stroke-width="1.1"/>
<circle cx="1115.0" cy="1182.8" r="3" fill="#111" stroke="none" stroke-width="1"/>
<circle cx="1115.0" cy="1221.3" r="3" fill="#111" stroke="none" stroke-width="1"/>
<circle cx="1121.4" cy="1240.8" r="3" fill="#111" stroke="none" stroke-width="1"/>
<circle cx="1108.6" cy="1245.4" r="3" fill="#111" stroke="none" stroke-width="1"/>
<circle cx="1121.4" cy="1259.1" r="3" fill="#111" stroke="none" stroke-width="1"/>
<circle cx="1108.6" cy="1263.0" r="3" fill="#111" stroke="none" stroke-width="1"/>
<line x1="1053.1" y1="1074.4" x2="1116.6" y2="1074.4" stroke="#333" stroke-width="1.2"/>
<text x="1046.2" y="1068.2" font-size="16.5" font-style="italic" textLength="9.0" lengthAdjust="spacingAndGlyphs">P</text>
<text x="1059.5" y="1068.2" font-size="16.5" textLength="63.5" lengthAdjust="spacingAndGlyphs">= 0.006</text>
<text x="939.5" y="1176.0" font-size="23.5" text-anchor="middle" textLength="233.8" lengthAdjust="spacingAndGlyphs" transform="rotate(-90 939.5 1176.0)">Relative absorbance</text>
<text x="1059.0" y="1301.0" font-size="24" text-anchor="end" textLength="75.0" lengthAdjust="spacingAndGlyphs" transform="rotate(-45 1059.0 1301.0)">Young</text>
<text x="1118.5" y="1302.0" font-size="24" text-anchor="end" textLength="61.0" lengthAdjust="spacingAndGlyphs" transform="rotate(-45 1118.5 1302.0)">Aged</text>
</g>
<g id="panel-i">
<text x="1211.0" y="1024.7" font-size="38" font-weight="bold" textLength="10.0" lengthAdjust="spacingAndGlyphs" stroke="#161616" stroke-width="1.8">i</text>
<text x="1294.3" y="1025.8" font-size="23.5" textLength="158.1" lengthAdjust="spacingAndGlyphs">DNMT activity</text>
<line x1="1301.8" y1="1069.4" x2="1301.8" y2="1284.3" stroke="#222" stroke-width="1.2"/>
<line x1="1294.3" y1="1284.3" x2="1445.0" y2="1284.3" stroke="#222" stroke-width="1.2"/>
<line x1="1294.3" y1="1069.4" x2="1301.8" y2="1069.4" stroke="#222" stroke-width="1.2"/>
<text x="1282.5" y="1075.6" font-size="20" text-anchor="end" textLength="30.4" lengthAdjust="spacingAndGlyphs">2.0</text>
<line x1="1294.3" y1="1123.2" x2="1301.8" y2="1123.2" stroke="#222" stroke-width="1.2"/>
<text x="1282.5" y="1129.4" font-size="20" text-anchor="end" textLength="27.6" lengthAdjust="spacingAndGlyphs">1.5</text>
<line x1="1294.3" y1="1176.8" x2="1301.8" y2="1176.8" stroke="#222" stroke-width="1.2"/>
<text x="1282.5" y="1183.0" font-size="20" text-anchor="end" textLength="27.6" lengthAdjust="spacingAndGlyphs">1.0</text>
<line x1="1294.3" y1="1230.7" x2="1301.8" y2="1230.7" stroke="#222" stroke-width="1.2"/>
<text x="1282.5" y="1236.9" font-size="20" text-anchor="end" textLength="30.4" lengthAdjust="spacingAndGlyphs">0.5</text>
<line x1="1294.3" y1="1284.3" x2="1301.8" y2="1284.3" stroke="#222" stroke-width="1.2"/>
<text x="1282.5" y="1290.5" font-size="20" text-anchor="end" textLength="12.4" lengthAdjust="spacingAndGlyphs">0</text>
<rect x="1324.0" y="1155.3" width="37.9" height="129.0" fill="#a5d40c" stroke="#333" stroke-width="1"/>
<rect x="1385.5" y="1168.6" width="37.8" height="115.7" fill="#14703a" stroke="#333" stroke-width="1"/>
<line x1="1342.8" y1="1131.2" x2="1342.8" y2="1176.6" stroke="#222" stroke-width="1.1"/>
<line x1="1332.8" y1="1131.2" x2="1352.8" y2="1131.2" stroke="#222" stroke-width="1.1"/>
<line x1="1332.8" y1="1176.6" x2="1352.8" y2="1176.6" stroke="#222" stroke-width="1.1"/>
<circle cx="1342.8" cy="1123.7" r="3" fill="#111" stroke="none" stroke-width="1"/>
<circle cx="1342.8" cy="1153.5" r="3" fill="#111" stroke="none" stroke-width="1"/>
<circle cx="1342.8" cy="1162.4" r="3" fill="#111" stroke="none" stroke-width="1"/>
<circle cx="1342.8" cy="1177.1" r="3" fill="#111" stroke="none" stroke-width="1"/>
<line x1="1404.3" y1="1143.8" x2="1404.3" y2="1190.8" stroke="#222" stroke-width="1.1"/>
<line x1="1394.3" y1="1143.8" x2="1414.3" y2="1143.8" stroke="#222" stroke-width="1.1"/>
<line x1="1394.3" y1="1190.8" x2="1414.3" y2="1190.8" stroke="#222" stroke-width="1.1"/>
<circle cx="1404.3" cy="1134.2" r="3" fill="#111" stroke="none" stroke-width="1"/>
<circle cx="1404.3" cy="1152.3" r="3" fill="#111" stroke="none" stroke-width="1"/>
<circle cx="1397.8" cy="1178.2" r="3" fill="#111" stroke="none" stroke-width="1"/>
<circle cx="1410.7" cy="1180.5" r="3" fill="#111" stroke="none" stroke-width="1"/>
<circle cx="1404.3" cy="1192.6" r="3" fill="#111" stroke="none" stroke-width="1"/>
<text x="1230.5" y="1176.0" font-size="23.5" text-anchor="middle" textLength="233.8" lengthAdjust="spacingAndGlyphs" transform="rotate(-90 1230.5 1176.0)">Relative absorbance</text>
<text x="1348.3" y="1301.0" font-size="24" text-anchor="end" textLength="75.0" lengthAdjust="spacingAndGlyphs" transform="rotate(-45 1348.3 1301.0)">Young</text>
<text x="1407.8" y="1302.0" font-size="24" text-anchor="end" textLength="61.0" lengthAdjust="spacingAndGlyphs" transform="rotate(-45 1407.8 1302.0)">Aged</text>
</g>
<g id="panel-k">
<text x="992.7" y="1422.0" font-size="38" font-weight="bold" textLength="21.0" lengthAdjust="spacingAndGlyphs" stroke="#161616" stroke-width="1.8">k</text>
<text x="1183.7" y="1422.0" font-size="23.5" textLength="172.8" lengthAdjust="spacingAndGlyphs">In vivo analysis</text>
<line x1="1072.3" y1="1493.0" x2="1072.3" y2="1641.6" stroke="#222" stroke-width="1.2"/>
<line x1="1067.5" y1="1641.6" x2="1213.9" y2="1641.6" stroke="#222" stroke-width="1.2"/>
<line x1="1067.5" y1="1493.0" x2="1072.3" y2="1493.0" stroke="#222" stroke-width="1.2"/>
<text x="1058.0" y="1499.2" font-size="20" text-anchor="end" textLength="25.8" lengthAdjust="spacingAndGlyphs">20</text>
<line x1="1067.5" y1="1530.2" x2="1072.3" y2="1530.2" stroke="#222" stroke-width="1.2"/>
<text x="1058.0" y="1536.4" font-size="20" text-anchor="end" textLength="22.5" lengthAdjust="spacingAndGlyphs">15</text>
<line x1="1067.5" y1="1567.5" x2="1072.3" y2="1567.5" stroke="#222" stroke-width="1.2"/>
<text x="1058.0" y="1573.7" font-size="20" text-anchor="end" textLength="22.5" lengthAdjust="spacingAndGlyphs">10</text>
<line x1="1067.5" y1="1604.7" x2="1072.3" y2="1604.7" stroke="#222" stroke-width="1.2"/>
<text x="1058.0" y="1610.9" font-size="20" text-anchor="end" textLength="12.9" lengthAdjust="spacingAndGlyphs">5</text>
<rect x="1093.6" y="1553.8" width="38.5" height="87.8" fill="#fff" stroke="#333" stroke-width="1.1"/>
<rect x="1154.4" y="1514.9" width="38.2" height="126.7" fill="#6f0ba3" stroke="#333" stroke-width="1"/>
<line x1="1113.0" y1="1533.7" x2="1113.0" y2="1572.2" stroke="#222" stroke-width="1.1"/>
<line x1="1103.5" y1="1533.7" x2="1122.5" y2="1533.7" stroke="#222" stroke-width="1.1"/>
<line x1="1103.5" y1="1572.2" x2="1122.5" y2="1572.2" stroke="#222" stroke-width="1.1"/>
<line x1="1173.5" y1="1503.5" x2="1173.5" y2="1524.2" stroke="#222" stroke-width="1.1"/>
<line x1="1164.0" y1="1503.5" x2="1183.0" y2="1503.5" stroke="#222" stroke-width="1.1"/>
<line x1="1164.0" y1="1524.2" x2="1183.0" y2="1524.2" stroke="#222" stroke-width="1.1"/>
<circle cx="1113.0" cy="1537.2" r="2.7" fill="#111" stroke="none" stroke-width="1"/>
<circle cx="1113.0" cy="1547.7" r="2.7" fill="#111" stroke="none" stroke-width="1"/>
<circle cx="1113.0" cy="1574.1" r="2.7" fill="#111" stroke="none" stroke-width="1"/>
<circle cx="1173.5" cy="1504.1" r="2.7" fill="#111" stroke="none" stroke-width="1"/>
<circle cx="1173.5" cy="1513.7" r="2.7" fill="#111" stroke="none" stroke-width="1"/>
<circle cx="1173.5" cy="1524.2" r="2.7" fill="#111" stroke="none" stroke-width="1"/>
<line x1="1116.2" y1="1496.8" x2="1164.0" y2="1496.8" stroke="#333" stroke-width="1.2"/>
<text x="1103.2" y="1490.8" font-size="16.5" font-style="italic" textLength="9.0" lengthAdjust="spacingAndGlyphs">P</text>
<text x="1116.5" y="1490.8" font-size="16.5" textLength="60.8" lengthAdjust="spacingAndGlyphs">= 0.026</text>
<text x="1117.5" y="1462.7" font-size="23.5" font-style="italic" textLength="51.9" lengthAdjust="spacingAndGlyphs">Dkk1</text>
<text x="1012.0" y="1566.5" font-size="23.5" text-anchor="middle" textLength="179.3" lengthAdjust="spacingAndGlyphs" transform="rotate(-90 1012.0 1566.5)">Methylation (%)</text>
<line x1="1326.0" y1="1493.0" x2="1326.0" y2="1641.6" stroke="#222" stroke-width="1.2"/>
<line x1="1321.2" y1="1641.6" x2="1467.0" y2="1641.6" stroke="#222" stroke-width="1.2"/>
<line x1="1321.2" y1="1493.0" x2="1326.0" y2="1493.0" stroke="#222" stroke-width="1.2"/>
<text x="1311.7" y="1499.2" font-size="20" text-anchor="end" textLength="25.8" lengthAdjust="spacingAndGlyphs">20</text>
<line x1="1321.2" y1="1530.2" x2="1326.0" y2="1530.2" stroke="#222" stroke-width="1.2"/>
<text x="1311.7" y="1536.4" font-size="20" text-anchor="end" textLength="22.5" lengthAdjust="spacingAndGlyphs">15</text>
<line x1="1321.2" y1="1567.5" x2="1326.0" y2="1567.5" stroke="#222" stroke-width="1.2"/>
<text x="1311.7" y="1573.7" font-size="20" text-anchor="end" textLength="22.5" lengthAdjust="spacingAndGlyphs">10</text>
<line x1="1321.2" y1="1604.7" x2="1326.0" y2="1604.7" stroke="#222" stroke-width="1.2"/>
<text x="1311.7" y="1610.9" font-size="20" text-anchor="end" textLength="12.9" lengthAdjust="spacingAndGlyphs">5</text>
<rect x="1347.0" y="1551.5" width="38.5" height="90.1" fill="#fff" stroke="#333" stroke-width="1.1"/>
<rect x="1407.8" y="1514.0" width="38.5" height="127.6" fill="#6f0ba3" stroke="#333" stroke-width="1"/>
<line x1="1366.4" y1="1523.5" x2="1366.4" y2="1577.0" stroke="#222" stroke-width="1.1"/>
<line x1="1356.9" y1="1523.5" x2="1375.9" y2="1523.5" stroke="#222" stroke-width="1.1"/>
<line x1="1356.9" y1="1577.0" x2="1375.9" y2="1577.0" stroke="#222" stroke-width="1.1"/>
<line x1="1426.9" y1="1505.4" x2="1426.9" y2="1520.4" stroke="#222" stroke-width="1.1"/>
<line x1="1417.4" y1="1505.4" x2="1436.4" y2="1505.4" stroke="#222" stroke-width="1.1"/>
<line x1="1417.4" y1="1520.4" x2="1436.4" y2="1520.4" stroke="#222" stroke-width="1.1"/>
<circle cx="1360.6" cy="1533.4" r="2.7" fill="#111" stroke="none" stroke-width="1"/>
<circle cx="1371.8" cy="1537.2" r="2.7" fill="#111" stroke="none" stroke-width="1"/>
<circle cx="1366.4" cy="1581.1" r="2.7" fill="#111" stroke="none" stroke-width="1"/>
<circle cx="1426.8" cy="1506.4" r="2.7" fill="#111" stroke="none" stroke-width="1"/>
<circle cx="1426.8" cy="1512.7" r="2.7" fill="#111" stroke="none" stroke-width="1"/>
<circle cx="1426.8" cy="1520.4" r="2.7" fill="#111" stroke="none" stroke-width="1"/>
<line x1="1373.4" y1="1497.8" x2="1420.8" y2="1497.8" stroke="#333" stroke-width="1.2"/>
<text x="1360.3" y="1491.4" font-size="16.5" font-style="italic" textLength="9.0" lengthAdjust="spacingAndGlyphs">P</text>
<text x="1373.6" y="1491.4" font-size="16.5" textLength="61.5" lengthAdjust="spacingAndGlyphs">= 0.063</text>
<text x="1369.2" y="1462.7" font-size="23.5" font-style="italic" textLength="54.1" lengthAdjust="spacingAndGlyphs">Dkk2</text>
<text x="1263.5" y="1566.5" font-size="23.5" text-anchor="middle" textLength="179.3" lengthAdjust="spacingAndGlyphs" transform="rotate(-90 1263.5 1566.5)">Methylation (%)</text>
<text x="1112.0" y="1660.0" font-size="24" text-anchor="end" textLength="37.0" lengthAdjust="spacingAndGlyphs" transform="rotate(-45 1112.0 1660.0)">WT</text>
<g transform="rotate(-45 1179.0 1658.5)">
<text x="1179.0" y="1658.5" font-size="24" text-anchor="end" textLength="36.0" lengthAdjust="spacingAndGlyphs">KO</text>
<text x="1136.0" y="1658.5" font-size="24" text-anchor="end" font-style="italic" textLength="71.0" lengthAdjust="spacingAndGlyphs">Tet2/3</text>
</g>
<text x="1368.2" y="1660.0" font-size="24" text-anchor="end" textLength="37.0" lengthAdjust="spacingAndGlyphs" transform="rotate(-45 1368.2 1660.0)">WT</text>
<g transform="rotate(-45 1432.0 1658.5)">
<text x="1432.0" y="1658.5" font-size="24" text-anchor="end" textLength="36.0" lengthAdjust="spacingAndGlyphs">KO</text>
<text x="1389.0" y="1658.5" font-size="24" text-anchor="end" font-style="italic" textLength="71.0" lengthAdjust="spacingAndGlyphs">Tet2/3</text>
</g>
</g>
<g id="panel-j">
<text x="3.0" y="1791.5" font-size="38" font-weight="bold" textLength="11.5" lengthAdjust="spacingAndGlyphs" stroke="#161616" stroke-width="1.8">j</text>
<text x="408.3" y="1788.8" font-size="23.5" font-style="italic" textLength="54.8" lengthAdjust="spacingAndGlyphs">Dkk2</text>
<line x1="128.3" y1="1835.0" x2="128.3" y2="2095.4" stroke="#333" stroke-width="1.2"/>
<line x1="120.9" y1="2095.4" x2="742.5" y2="2095.4" stroke="#333" stroke-width="1.4"/>
<line x1="120.9" y1="1835.0" x2="128.3" y2="1835.0" stroke="#333" stroke-width="1.2"/>
<text x="108.5" y="1841.2" font-size="20" text-anchor="end" textLength="25.8" lengthAdjust="spacingAndGlyphs">20</text>
<line x1="120.9" y1="1899.9" x2="128.3" y2="1899.9" stroke="#333" stroke-width="1.2"/>
<text x="108.5" y="1906.1" font-size="20" text-anchor="end" textLength="22.5" lengthAdjust="spacingAndGlyphs">15</text>
<line x1="120.9" y1="1965.2" x2="128.3" y2="1965.2" stroke="#333" stroke-width="1.2"/>
<text x="108.5" y="1971.4" font-size="20" text-anchor="end" textLength="22.5" lengthAdjust="spacingAndGlyphs">10</text>
<line x1="120.9" y1="2030.4" x2="128.3" y2="2030.4" stroke="#333" stroke-width="1.2"/>
<text x="108.5" y="2036.6" font-size="20" text-anchor="end" textLength="12.9" lengthAdjust="spacingAndGlyphs">5</text>
<line x1="120.9" y1="2095.4" x2="128.3" y2="2095.4" stroke="#333" stroke-width="1.2"/>
<text x="108.5" y="2101.6" font-size="20" text-anchor="end" textLength="12.9" lengthAdjust="spacingAndGlyphs">0</text>
<rect x="143.2" y="2005.6" width="23.3" height="89.8" fill="#d9dad9" stroke="#333" stroke-width="1"/>
<rect x="183.3" y="1994.4" width="23.3" height="101.0" fill="#e0097f" stroke="#333" stroke-width="1"/>
<rect x="223.4" y="1974.4" width="23.3" height="121.0" fill="#9b1fa7" stroke="#333" stroke-width="1"/>
<rect x="303.3" y="2008.4" width="23.2" height="87.0" fill="#d9dad9" stroke="#333" stroke-width="1"/>
<rect x="343.7" y="1993.5" width="23.3" height="101.9" fill="#e0097f" stroke="#333" stroke-width="1"/>
<rect x="383.8" y="1974.7" width="23.3" height="120.7" fill="#9b1fa7" stroke="#333" stroke-width="1"/>
<rect x="464.1" y="1983.8" width="23.3" height="111.6" fill="#d9dad9" stroke="#333" stroke-width="1"/>
<rect x="504.3" y="1941.1" width="23.4" height="154.3" fill="#e0097f" stroke="#333" stroke-width="1"/>
<rect x="544.2" y="1920.2" width="23.3" height="175.2" fill="#9b1fa7" stroke="#333" stroke-width="1"/>
<rect x="624.6" y="1952.1" width="23.4" height="143.3" fill="#d9dad9" stroke="#333" stroke-width="1"/>
<rect x="664.5" y="1914.3" width="23.4" height="181.1" fill="#e0097f" stroke="#333" stroke-width="1"/>
<rect x="704.7" y="1866.2" width="23.4" height="229.2" fill="#9b1fa7" stroke="#333" stroke-width="1"/>
<line x1="154.7" y1="1992.5" x2="154.7" y2="2015.4" stroke="#222" stroke-width="1.1"/>
<line x1="149.2" y1="1992.5" x2="160.2" y2="1992.5" stroke="#222" stroke-width="1.1"/>
<line x1="149.2" y1="2015.4" x2="160.2" y2="2015.4" stroke="#222" stroke-width="1.1"/>
<line x1="194.8" y1="1969.3" x2="194.8" y2="2012.9" stroke="#222" stroke-width="1.1"/>
<line x1="189.3" y1="1969.3" x2="200.3" y2="1969.3" stroke="#222" stroke-width="1.1"/>
<line x1="189.3" y1="2012.9" x2="200.3" y2="2012.9" stroke="#222" stroke-width="1.1"/>
<line x1="234.9" y1="1971.2" x2="234.9" y2="1976.0" stroke="#222" stroke-width="1.1"/>
<line x1="229.4" y1="1971.2" x2="240.4" y2="1971.2" stroke="#222" stroke-width="1.1"/>
<line x1="229.4" y1="1976.0" x2="240.4" y2="1976.0" stroke="#222" stroke-width="1.1"/>
<line x1="315.1" y1="1997.0" x2="315.1" y2="2007.2" stroke="#222" stroke-width="1.1"/>
<line x1="309.6" y1="1997.0" x2="320.6" y2="1997.0" stroke="#222" stroke-width="1.1"/>
<line x1="309.6" y1="2007.2" x2="320.6" y2="2007.2" stroke="#222" stroke-width="1.1"/>
<line x1="355.2" y1="1980.7" x2="355.2" y2="1998.9" stroke="#222" stroke-width="1.1"/>
<line x1="349.7" y1="1980.7" x2="360.7" y2="1980.7" stroke="#222" stroke-width="1.1"/>
<line x1="349.7" y1="1998.9" x2="360.7" y2="1998.9" stroke="#222" stroke-width="1.1"/>
<line x1="395.3" y1="1965.8" x2="395.3" y2="1977.9" stroke="#222" stroke-width="1.1"/>
<line x1="389.8" y1="1965.8" x2="400.8" y2="1965.8" stroke="#222" stroke-width="1.1"/>
<line x1="389.8" y1="1977.9" x2="400.8" y2="1977.9" stroke="#222" stroke-width="1.1"/>
<line x1="475.8" y1="1976.9" x2="475.8" y2="1989.6" stroke="#222" stroke-width="1.1"/>
<line x1="470.3" y1="1976.9" x2="481.3" y2="1976.9" stroke="#222" stroke-width="1.1"/>
<line x1="470.3" y1="1989.6" x2="481.3" y2="1989.6" stroke="#222" stroke-width="1.1"/>
<line x1="515.6" y1="1917.4" x2="515.6" y2="1958.7" stroke="#222" stroke-width="1.1"/>
<line x1="510.1" y1="1917.4" x2="521.1" y2="1917.4" stroke="#222" stroke-width="1.1"/>
<line x1="510.1" y1="1958.7" x2="521.1" y2="1958.7" stroke="#222" stroke-width="1.1"/>
<line x1="556.2" y1="1914.0" x2="556.2" y2="1924.6" stroke="#222" stroke-width="1.1"/>
<line x1="550.7" y1="1914.0" x2="561.7" y2="1914.0" stroke="#222" stroke-width="1.1"/>
<line x1="550.7" y1="1924.6" x2="561.7" y2="1924.6" stroke="#222" stroke-width="1.1"/>
<line x1="635.9" y1="1938.4" x2="635.9" y2="1960.4" stroke="#222" stroke-width="1.1"/>
<line x1="630.4" y1="1938.4" x2="641.4" y2="1938.4" stroke="#222" stroke-width="1.1"/>
<line x1="630.4" y1="1960.4" x2="641.4" y2="1960.4" stroke="#222" stroke-width="1.1"/>
<line x1="676.5" y1="1906.4" x2="676.5" y2="1918.4" stroke="#222" stroke-width="1.1"/>
<line x1="671.0" y1="1906.4" x2="682.0" y2="1906.4" stroke="#222" stroke-width="1.1"/>
<line x1="671.0" y1="1918.4" x2="682.0" y2="1918.4" stroke="#222" stroke-width="1.1"/>
<line x1="716.4" y1="1854.8" x2="716.4" y2="1871.0" stroke="#222" stroke-width="1.1"/>
<line x1="710.9" y1="1854.8" x2="721.9" y2="1854.8" stroke="#222" stroke-width="1.1"/>
<line x1="710.9" y1="1871.0" x2="721.9" y2="1871.0" stroke="#222" stroke-width="1.1"/>
<circle cx="154.7" cy="1992.5" r="5.1" fill="#111" stroke="none" stroke-width="1"/>
<circle cx="154.7" cy="2004.6" r="5.1" fill="#111" stroke="none" stroke-width="1"/>
<circle cx="154.7" cy="2015.4" r="5.1" fill="#111" stroke="none" stroke-width="1"/>
<circle cx="194.8" cy="1969.3" r="5.1" fill="#111" stroke="none" stroke-width="1"/>
<circle cx="194.8" cy="1997.3" r="5.1" fill="#111" stroke="none" stroke-width="1"/>
<circle cx="194.8" cy="2012.9" r="5.1" fill="#111" stroke="none" stroke-width="1"/>
<circle cx="234.9" cy="1967.4" r="5.1" fill="#111" stroke="none" stroke-width="1"/>
<circle cx="243.5" cy="1970.9" r="5.1" fill="#111" stroke="none" stroke-width="1"/>
<circle cx="226.9" cy="1976.0" r="5.1" fill="#111" stroke="none" stroke-width="1"/>
<circle cx="306.8" cy="1996.3" r="5.1" fill="#111" stroke="none" stroke-width="1"/>
<circle cx="306.8" cy="2007.2" r="5.1" fill="#111" stroke="none" stroke-width="1"/>
<circle cx="323.7" cy="2006.5" r="5.1" fill="#111" stroke="none" stroke-width="1"/>
<circle cx="355.2" cy="1980.7" r="5.1" fill="#111" stroke="none" stroke-width="1"/>
<circle cx="363.8" cy="1993.5" r="5.1" fill="#111" stroke="none" stroke-width="1"/>
<circle cx="346.9" cy="1997.3" r="5.1" fill="#111" stroke="none" stroke-width="1"/>
<circle cx="387.0" cy="1964.5" r="5.1" fill="#111" stroke="none" stroke-width="1"/>
<circle cx="403.6" cy="1975.3" r="5.1" fill="#111" stroke="none" stroke-width="1"/>
<circle cx="387.0" cy="1977.9" r="5.1" fill="#111" stroke="none" stroke-width="1"/>
<circle cx="467.5" cy="1977.2" r="5.1" fill="#111" stroke="none" stroke-width="1"/>
<circle cx="484.0" cy="1982.7" r="5.1" fill="#111" stroke="none" stroke-width="1"/>
<circle cx="467.5" cy="1989.6" r="5.1" fill="#111" stroke="none" stroke-width="1"/>
<circle cx="515.6" cy="1916.7" r="5.1" fill="#111" stroke="none" stroke-width="1"/>
<circle cx="515.6" cy="1944.2" r="5.1" fill="#111" stroke="none" stroke-width="1"/>
<circle cx="515.6" cy="1958.0" r="5.1" fill="#111" stroke="none" stroke-width="1"/>
<circle cx="547.9" cy="1914.3" r="5.1" fill="#111" stroke="none" stroke-width="1"/>
<circle cx="563.8" cy="1919.1" r="5.1" fill="#111" stroke="none" stroke-width="1"/>
<circle cx="547.9" cy="1925.7" r="5.1" fill="#111" stroke="none" stroke-width="1"/>
<circle cx="635.9" cy="1937.3" r="5.1" fill="#111" stroke="none" stroke-width="1"/>
<circle cx="644.5" cy="1953.9" r="5.1" fill="#111" stroke="none" stroke-width="1"/>
<circle cx="628.0" cy="1957.6" r="5.1" fill="#111" stroke="none" stroke-width="1"/>
<circle cx="667.9" cy="1906.4" r="5.1" fill="#111" stroke="none" stroke-width="1"/>
<circle cx="684.4" cy="1912.6" r="5.1" fill="#111" stroke="none" stroke-width="1"/>
<circle cx="667.9" cy="1918.4" r="5.1" fill="#111" stroke="none" stroke-width="1"/>
<circle cx="716.4" cy="1854.8" r="5.1" fill="#111" stroke="none" stroke-width="1"/>
<circle cx="708.1" cy="1868.6" r="5.1" fill="#111" stroke="none" stroke-width="1"/>
<circle cx="724.6" cy="1867.6" r="5.1" fill="#111" stroke="none" stroke-width="1"/>
<text x="472.0" y="1842.1" font-size="16.5" font-style="italic" textLength="9.0" lengthAdjust="spacingAndGlyphs">P</text>
<text x="485.3" y="1842.1" font-size="16.5" textLength="75.0" lengthAdjust="spacingAndGlyphs">= 0.0003</text>
<line x1="475.4" y1="1849.0" x2="557.6" y2="1849.0" stroke="#333" stroke-width="1.2"/>
<text x="457.9" y="1888.2" font-size="16.5" font-style="italic" textLength="9.0" lengthAdjust="spacingAndGlyphs">P</text>
<text x="471.2" y="1888.2" font-size="16.5" textLength="62.3" lengthAdjust="spacingAndGlyphs">= 0.058</text>
<line x1="475.4" y1="1894.0" x2="516.7" y2="1894.0" stroke="#333" stroke-width="1.2"/>
<text x="639.4" y="1839.4" font-size="16.5" font-style="italic" textLength="9.0" lengthAdjust="spacingAndGlyphs">P</text>
<text x="652.7" y="1839.4" font-size="16.5" textLength="59.9" lengthAdjust="spacingAndGlyphs">= 0.001</text>
<line x1="634.9" y1="1845.2" x2="717.1" y2="1845.2" stroke="#333" stroke-width="1.2"/>
<text x="619.8" y="1886.5" font-size="16.5" font-style="italic" textLength="9.0" lengthAdjust="spacingAndGlyphs">P</text>
<text x="633.1" y="1886.5" font-size="16.5" textLength="58.9" lengthAdjust="spacingAndGlyphs">= 0.014</text>
<line x1="634.9" y1="1890.9" x2="676.5" y2="1890.9" stroke="#333" stroke-width="1.2"/>
<text x="194.1" y="2124.3" font-size="23.5" text-anchor="middle" textLength="76.3" lengthAdjust="spacingAndGlyphs">1 week</text>
<text x="355.0" y="2124.3" font-size="23.5" text-anchor="middle" textLength="79.6" lengthAdjust="spacingAndGlyphs">2 week</text>
<text x="515.8" y="2124.3" font-size="23.5" text-anchor="middle" textLength="80.8" lengthAdjust="spacingAndGlyphs">4 week</text>
<text x="676.0" y="2124.3" font-size="23.5" text-anchor="middle" textLength="90.4" lengthAdjust="spacingAndGlyphs">12 week</text>
<text x="64.5" y="1965.3" font-size="23.5" text-anchor="middle" textLength="177.3" lengthAdjust="spacingAndGlyphs" transform="rotate(-90 64.5 1965.3)">Methylation (%)</text>
<rect x="778.6" y="1794.0" width="22.4" height="22.3" fill="#d9dad9" stroke="#333" stroke-width="1"/>
<text x="814.0" y="1812.9" font-size="23.5" textLength="87.3" lengthAdjust="spacingAndGlyphs">Control</text>
<rect x="778.6" y="1829.0" width="22.4" height="22.3" fill="#e0097f" stroke="#333" stroke-width="1"/>
<text x="814.0" y="1847.6" font-size="23.5" textLength="127.2" lengthAdjust="spacingAndGlyphs">C35 (5 µM)</text>
<rect x="778.6" y="1864.1" width="22.4" height="22.3" fill="#9b1fa7" stroke="#333" stroke-width="1"/>
<text x="814.0" y="1882.3" font-size="23.5" textLength="146.8" lengthAdjust="spacingAndGlyphs">C35 (7.5 µM)</text>
</g>
<g id="panel-l">
<text x="992.0" y="1793.0" font-size="38" font-weight="bold" textLength="12.0" lengthAdjust="spacingAndGlyphs" stroke="#161616" stroke-width="1.8">l</text>
<text x="1177.0" y="1834.4" font-size="23.5" font-style="italic" textLength="53.6" lengthAdjust="spacingAndGlyphs">Dkk2</text>
<line x1="1097.5" y1="1864.2" x2="1097.5" y2="2077.7" stroke="#333" stroke-width="1.2"/>
<line x1="1089.2" y1="2077.7" x2="1310.0" y2="2077.7" stroke="#333" stroke-width="1.2"/>
<line x1="1089.2" y1="1864.2" x2="1097.5" y2="1864.2" stroke="#333" stroke-width="1.2"/>
<text x="1077.0" y="1870.4" font-size="20" text-anchor="end" textLength="25.8" lengthAdjust="spacingAndGlyphs">25</text>
<line x1="1089.2" y1="1907.2" x2="1097.5" y2="1907.2" stroke="#333" stroke-width="1.2"/>
<text x="1077.0" y="1913.4" font-size="20" text-anchor="end" textLength="25.8" lengthAdjust="spacingAndGlyphs">20</text>
<line x1="1089.2" y1="1949.9" x2="1097.5" y2="1949.9" stroke="#333" stroke-width="1.2"/>
<text x="1077.0" y="1956.1" font-size="20" text-anchor="end" textLength="22.5" lengthAdjust="spacingAndGlyphs">15</text>
<line x1="1089.2" y1="1992.3" x2="1097.5" y2="1992.3" stroke="#333" stroke-width="1.2"/>
<text x="1077.0" y="1998.5" font-size="20" text-anchor="end" textLength="22.5" lengthAdjust="spacingAndGlyphs">10</text>
<line x1="1089.2" y1="2034.7" x2="1097.5" y2="2034.7" stroke="#333" stroke-width="1.2"/>
<text x="1077.0" y="2040.9" font-size="20" text-anchor="end" textLength="12.9" lengthAdjust="spacingAndGlyphs">5</text>
<line x1="1089.2" y1="2077.7" x2="1097.5" y2="2077.7" stroke="#333" stroke-width="1.2"/>
<text x="1077.0" y="2083.9" font-size="20" text-anchor="end" textLength="12.9" lengthAdjust="spacingAndGlyphs">0</text>
<rect x="1112.1" y="2008.2" width="23.5" height="69.5" fill="#f4f5f4" stroke="#333" stroke-width="1"/>
<rect x="1151.8" y="1977.7" width="23.8" height="100.0" fill="#e6e7e6" stroke="#333" stroke-width="1"/>
<rect x="1191.9" y="1947.6" width="23.8" height="130.1" fill="#f39200" stroke="#333" stroke-width="1"/>
<rect x="1231.9" y="1953.9" width="23.8" height="123.8" fill="#e6e7e6" stroke="#333" stroke-width="1"/>
<rect x="1272.0" y="1914.8" width="23.5" height="162.9" fill="#f39200" stroke="#333" stroke-width="1"/>
<line x1="1123.7" y1="2077.7" x2="1123.7" y2="2085.0" stroke="#333" stroke-width="1.2"/>
<line x1="1163.7" y1="2077.7" x2="1163.7" y2="2085.0" stroke="#333" stroke-width="1.2"/>
<line x1="1203.8" y1="2077.7" x2="1203.8" y2="2085.0" stroke="#333" stroke-width="1.2"/>
<line x1="1243.8" y1="2077.7" x2="1243.8" y2="2085.0" stroke="#333" stroke-width="1.2"/>
<line x1="1283.9" y1="2077.7" x2="1283.9" y2="2085.0" stroke="#333" stroke-width="1.2"/>
<line x1="1123.7" y1="2001.6" x2="1123.7" y2="2011.5" stroke="#222" stroke-width="1.1"/>
<line x1="1118.2" y1="2001.6" x2="1129.2" y2="2001.6" stroke="#222" stroke-width="1.1"/>
<line x1="1118.2" y1="2011.5" x2="1129.2" y2="2011.5" stroke="#222" stroke-width="1.1"/>
<line x1="1163.7" y1="1966.8" x2="1163.7" y2="1977.7" stroke="#222" stroke-width="1.1"/>
<line x1="1158.2" y1="1966.8" x2="1169.2" y2="1966.8" stroke="#222" stroke-width="1.1"/>
<line x1="1158.2" y1="1977.7" x2="1169.2" y2="1977.7" stroke="#222" stroke-width="1.1"/>
<line x1="1203.8" y1="1930.7" x2="1203.8" y2="1959.5" stroke="#222" stroke-width="1.1"/>
<line x1="1198.3" y1="1930.7" x2="1209.3" y2="1930.7" stroke="#222" stroke-width="1.1"/>
<line x1="1198.3" y1="1959.5" x2="1209.3" y2="1959.5" stroke="#222" stroke-width="1.1"/>
<line x1="1243.8" y1="1936.4" x2="1243.8" y2="1968.8" stroke="#222" stroke-width="1.1"/>
<line x1="1238.3" y1="1936.4" x2="1249.3" y2="1936.4" stroke="#222" stroke-width="1.1"/>
<line x1="1238.3" y1="1968.8" x2="1249.3" y2="1968.8" stroke="#222" stroke-width="1.1"/>
<line x1="1283.9" y1="1900.9" x2="1283.9" y2="1928.1" stroke="#222" stroke-width="1.1"/>
<line x1="1278.4" y1="1900.9" x2="1289.4" y2="1900.9" stroke="#222" stroke-width="1.1"/>
<line x1="1278.4" y1="1928.1" x2="1289.4" y2="1928.1" stroke="#222" stroke-width="1.1"/>
<circle cx="1115.1" cy="2003.9" r="3.7" fill="#111" stroke="none" stroke-width="1"/>
<circle cx="1132.9" cy="2004.6" r="3.7" fill="#111" stroke="none" stroke-width="1"/>
<circle cx="1123.7" cy="2013.2" r="3.7" fill="#111" stroke="none" stroke-width="1"/>
<circle cx="1154.8" cy="1966.8" r="3.7" fill="#111" stroke="none" stroke-width="1"/>
<circle cx="1172.7" cy="1974.1" r="3.7" fill="#111" stroke="none" stroke-width="1"/>
<circle cx="1154.8" cy="1977.1" r="3.7" fill="#111" stroke="none" stroke-width="1"/>
<circle cx="1203.8" cy="1930.7" r="3.7" fill="#111" stroke="none" stroke-width="1"/>
<circle cx="1203.8" cy="1949.6" r="3.7" fill="#111" stroke="none" stroke-width="1"/>
<circle cx="1203.8" cy="1958.5" r="3.7" fill="#111" stroke="none" stroke-width="1"/>
<circle cx="1243.8" cy="1938.0" r="3.7" fill="#111" stroke="none" stroke-width="1"/>
<circle cx="1243.8" cy="1949.9" r="3.7" fill="#111" stroke="none" stroke-width="1"/>
<circle cx="1243.8" cy="1969.8" r="3.7" fill="#111" stroke="none" stroke-width="1"/>
<circle cx="1283.9" cy="1900.9" r="3.7" fill="#111" stroke="none" stroke-width="1"/>
<circle cx="1283.9" cy="1913.9" r="3.7" fill="#111" stroke="none" stroke-width="1"/>
<circle cx="1283.9" cy="1926.4" r="3.7" fill="#111" stroke="none" stroke-width="1"/>
<text x="1224.0" y="1872.5" font-size="16.5" font-style="italic" textLength="9.0" lengthAdjust="spacingAndGlyphs">P</text>
<text x="1237.3" y="1872.5" font-size="16.5" textLength="63.8" lengthAdjust="spacingAndGlyphs">= 0.004</text>
<line x1="1239.2" y1="1878.4" x2="1286.2" y2="1878.4" stroke="#333" stroke-width="1.2"/>
<text x="1031.5" y="1970.0" font-size="23.5" text-anchor="middle" textLength="175.4" lengthAdjust="spacingAndGlyphs" transform="rotate(-90 1031.5 1970.0)">Methylation (%)</text>
<rect x="1337.5" y="1855.9" width="21.8" height="21.5" fill="#dcdddc" stroke="#333" stroke-width="1"/>
<rect x="1337.5" y="1890.7" width="21.8" height="21.5" fill="#f39200" stroke="#333" stroke-width="1"/>
<text x="1373.2" y="1873.1" font-size="23.5" textLength="86.1" lengthAdjust="spacingAndGlyphs">Control</text>
<text x="1373.2" y="1908.2" font-size="23.5" textLength="48.7" lengthAdjust="spacingAndGlyphs">DFO</text>
<line x1="1158.7" y1="2096.6" x2="1207.7" y2="2096.6" stroke="#333" stroke-width="1.2"/>
<line x1="1239.2" y1="2096.6" x2="1287.8" y2="2096.6" stroke="#333" stroke-width="1.2"/>
<text x="1161.4" y="2118.1" font-size="23.5" textLength="38.7" lengthAdjust="spacingAndGlyphs">1 m</text>
<text x="1242.5" y="2118.1" font-size="23.5" textLength="40.4" lengthAdjust="spacingAndGlyphs">2 m</text>
<line x1="1167.0" y1="2131.3" x2="1282.2" y2="2131.3" stroke="#333" stroke-width="1.2"/>
<text x="1165.4" y="2152.8" font-size="23.5" textLength="119.8" lengthAdjust="spacingAndGlyphs">Organoids</text>
<text x="1127.5" y="2098.5" font-size="24" text-anchor="end" textLength="71.0" lengthAdjust="spacingAndGlyphs" transform="rotate(-45 1127.5 2098.5)">Crypts</text>
</g>
</svg>
</body></html>
